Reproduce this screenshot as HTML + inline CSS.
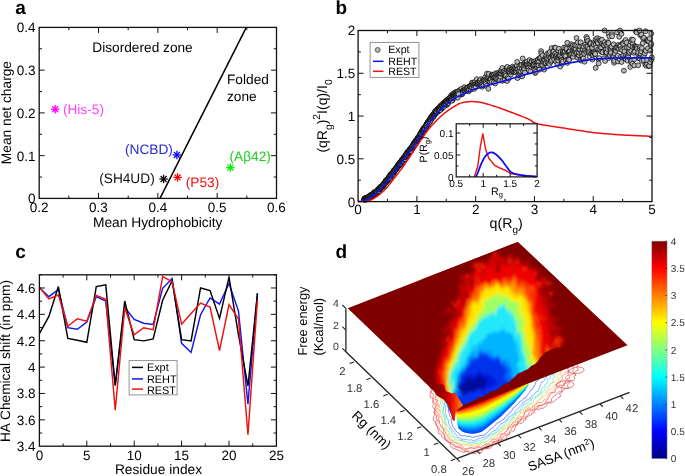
<!DOCTYPE html>
<html><head><meta charset="utf-8"><style>
html,body{margin:0;padding:0;background:#fff;overflow:hidden;}
svg{display:block;font-family:"Liberation Sans", sans-serif;will-change:transform;text-rendering:geometricPrecision;}
</style></head><body>
<svg width="685" height="476" viewBox="0 0 685 476">
<text x="15.2" y="14.2" font-size="19" text-anchor="start" fill="#000" font-weight="bold" >a</text>
<line x1="160.00" y1="198.40" x2="246.30" y2="27.40" stroke="#000" stroke-width="1.5" />
<line x1="98.52" y1="198.40" x2="98.52" y2="192.90" stroke="#111" stroke-width="1.0" />
<line x1="98.52" y1="27.40" x2="98.52" y2="32.90" stroke="#111" stroke-width="1.0" />
<line x1="157.85" y1="198.40" x2="157.85" y2="192.90" stroke="#111" stroke-width="1.0" />
<line x1="157.85" y1="27.40" x2="157.85" y2="32.90" stroke="#111" stroke-width="1.0" />
<line x1="217.18" y1="198.40" x2="217.18" y2="192.90" stroke="#111" stroke-width="1.0" />
<line x1="217.18" y1="27.40" x2="217.18" y2="32.90" stroke="#111" stroke-width="1.0" />
<line x1="68.86" y1="198.40" x2="68.86" y2="195.60" stroke="#111" stroke-width="1.0" />
<line x1="68.86" y1="27.40" x2="68.86" y2="30.20" stroke="#111" stroke-width="1.0" />
<line x1="128.19" y1="198.40" x2="128.19" y2="195.60" stroke="#111" stroke-width="1.0" />
<line x1="128.19" y1="27.40" x2="128.19" y2="30.20" stroke="#111" stroke-width="1.0" />
<line x1="187.51" y1="198.40" x2="187.51" y2="195.60" stroke="#111" stroke-width="1.0" />
<line x1="187.51" y1="27.40" x2="187.51" y2="30.20" stroke="#111" stroke-width="1.0" />
<line x1="246.84" y1="198.40" x2="246.84" y2="195.60" stroke="#111" stroke-width="1.0" />
<line x1="246.84" y1="27.40" x2="246.84" y2="30.20" stroke="#111" stroke-width="1.0" />
<line x1="39.20" y1="155.65" x2="44.70" y2="155.65" stroke="#111" stroke-width="1.0" />
<line x1="276.50" y1="155.65" x2="271.00" y2="155.65" stroke="#111" stroke-width="1.0" />
<line x1="39.20" y1="112.90" x2="44.70" y2="112.90" stroke="#111" stroke-width="1.0" />
<line x1="276.50" y1="112.90" x2="271.00" y2="112.90" stroke="#111" stroke-width="1.0" />
<line x1="39.20" y1="70.15" x2="44.70" y2="70.15" stroke="#111" stroke-width="1.0" />
<line x1="276.50" y1="70.15" x2="271.00" y2="70.15" stroke="#111" stroke-width="1.0" />
<line x1="39.20" y1="177.03" x2="42.00" y2="177.03" stroke="#111" stroke-width="1.0" />
<line x1="276.50" y1="177.03" x2="273.70" y2="177.03" stroke="#111" stroke-width="1.0" />
<line x1="39.20" y1="134.28" x2="42.00" y2="134.28" stroke="#111" stroke-width="1.0" />
<line x1="276.50" y1="134.28" x2="273.70" y2="134.28" stroke="#111" stroke-width="1.0" />
<line x1="39.20" y1="91.53" x2="42.00" y2="91.53" stroke="#111" stroke-width="1.0" />
<line x1="276.50" y1="91.53" x2="273.70" y2="91.53" stroke="#111" stroke-width="1.0" />
<line x1="39.20" y1="48.78" x2="42.00" y2="48.78" stroke="#111" stroke-width="1.0" />
<line x1="276.50" y1="48.78" x2="273.70" y2="48.78" stroke="#111" stroke-width="1.0" />
<rect x="39.20" y="27.40" width="237.30" height="171.00" fill="none" stroke="#111" stroke-width="1.3"/>
<text x="39.2" y="212.0" font-size="13.5" text-anchor="middle" fill="#000" font-weight="normal" >0.2</text>
<text x="98.5" y="212.0" font-size="13.5" text-anchor="middle" fill="#000" font-weight="normal" >0.3</text>
<text x="157.9" y="212.0" font-size="13.5" text-anchor="middle" fill="#000" font-weight="normal" >0.4</text>
<text x="217.2" y="212.0" font-size="13.5" text-anchor="middle" fill="#000" font-weight="normal" >0.5</text>
<text x="276.5" y="212.0" font-size="13.5" text-anchor="middle" fill="#000" font-weight="normal" >0.6</text>
<text x="35.6" y="203.3" font-size="13.5" text-anchor="end" fill="#000" font-weight="normal" >0</text>
<text x="35.6" y="160.6" font-size="13.5" text-anchor="end" fill="#000" font-weight="normal" >0.1</text>
<text x="35.6" y="117.8" font-size="13.5" text-anchor="end" fill="#000" font-weight="normal" >0.2</text>
<text x="35.6" y="75.1" font-size="13.5" text-anchor="end" fill="#000" font-weight="normal" >0.3</text>
<text x="35.6" y="32.3" font-size="13.5" text-anchor="end" fill="#000" font-weight="normal" >0.4</text>
<text x="157.7" y="226.6" font-size="13.8" text-anchor="middle" fill="#000" font-weight="normal" >Mean Hydrophobicity</text>
<text transform="translate(11.3,112.6) rotate(-90)" font-size="13.75" text-anchor="middle">Mean net charge</text>
<text x="92.3" y="52.0" font-size="13.7" text-anchor="start" fill="#000" font-weight="normal" >Disordered zone</text>
<text x="227.0" y="84.4" font-size="13.7" text-anchor="start" fill="#000" font-weight="normal" >Folded</text>
<text x="227.0" y="100.6" font-size="13.7" text-anchor="start" fill="#000" font-weight="normal" >zone</text>
<line x1="51.00" y1="109.30" x2="59.40" y2="109.30" stroke="#ff00ff" stroke-width="1.3" />
<line x1="52.23" y1="106.33" x2="58.17" y2="112.27" stroke="#ff00ff" stroke-width="1.3" />
<line x1="55.20" y1="105.10" x2="55.20" y2="113.50" stroke="#ff00ff" stroke-width="1.3" />
<line x1="58.17" y1="106.33" x2="52.23" y2="112.27" stroke="#ff00ff" stroke-width="1.3" />
<text x="62.9" y="113.9" font-size="13.7" text-anchor="start" fill="#ff44ff" font-weight="normal" >(His-5)</text>
<line x1="172.70" y1="155.00" x2="181.10" y2="155.00" stroke="#0a0aff" stroke-width="1.3" />
<line x1="173.93" y1="152.03" x2="179.87" y2="157.97" stroke="#0a0aff" stroke-width="1.3" />
<line x1="176.90" y1="150.80" x2="176.90" y2="159.20" stroke="#0a0aff" stroke-width="1.3" />
<line x1="179.87" y1="152.03" x2="173.93" y2="157.97" stroke="#0a0aff" stroke-width="1.3" />
<text x="125.0" y="153.9" font-size="13.7" text-anchor="start" fill="#2a2ad0" font-weight="normal" >(NCBD)</text>
<line x1="159.40" y1="179.00" x2="167.80" y2="179.00" stroke="#000" stroke-width="1.3" />
<line x1="160.63" y1="176.03" x2="166.57" y2="181.97" stroke="#000" stroke-width="1.3" />
<line x1="163.60" y1="174.80" x2="163.60" y2="183.20" stroke="#000" stroke-width="1.3" />
<line x1="166.57" y1="176.03" x2="160.63" y2="181.97" stroke="#000" stroke-width="1.3" />
<text x="99.2" y="183.4" font-size="13.7" text-anchor="start" fill="#111" font-weight="normal" >(SH4UD)</text>
<line x1="173.40" y1="177.40" x2="181.80" y2="177.40" stroke="#ff0000" stroke-width="1.3" />
<line x1="174.63" y1="174.43" x2="180.57" y2="180.37" stroke="#ff0000" stroke-width="1.3" />
<line x1="177.60" y1="173.20" x2="177.60" y2="181.60" stroke="#ff0000" stroke-width="1.3" />
<line x1="180.57" y1="174.43" x2="174.63" y2="180.37" stroke="#ff0000" stroke-width="1.3" />
<text x="185.8" y="187.2" font-size="13.7" text-anchor="start" fill="#ee1111" font-weight="normal" >(P53)</text>
<line x1="226.20" y1="167.60" x2="234.60" y2="167.60" stroke="#00ee00" stroke-width="1.3" />
<line x1="227.43" y1="164.63" x2="233.37" y2="170.57" stroke="#00ee00" stroke-width="1.3" />
<line x1="230.40" y1="163.40" x2="230.40" y2="171.80" stroke="#00ee00" stroke-width="1.3" />
<line x1="233.37" y1="164.63" x2="227.43" y2="170.57" stroke="#00ee00" stroke-width="1.3" />
<text x="229.5" y="160.9" font-size="13.7" text-anchor="start" fill="#22cc22" font-weight="normal" >(A&#946;42)</text>
<text x="335.6" y="13.8" font-size="19" text-anchor="start" fill="#000" font-weight="bold" >b</text>
<defs><clipPath id="cb"><rect x="358.1" y="27.5" width="296.9" height="174.1"/></clipPath></defs>
<g fill="#b8b8b8" stroke="#000" stroke-width="0.7"><circle cx="364.1" cy="199.6" r="2.45"/><circle cx="364.1" cy="199.1" r="2.45"/><circle cx="364.4" cy="199.7" r="2.45"/><circle cx="365.0" cy="199.2" r="2.45"/><circle cx="365.1" cy="198.3" r="2.45"/><circle cx="365.4" cy="198.6" r="2.45"/><circle cx="365.8" cy="199.5" r="2.45"/><circle cx="366.2" cy="198.0" r="2.45"/><circle cx="366.7" cy="199.2" r="2.45"/><circle cx="367.0" cy="199.0" r="2.45"/><circle cx="367.6" cy="197.7" r="2.45"/><circle cx="367.6" cy="197.8" r="2.45"/><circle cx="367.9" cy="197.4" r="2.45"/><circle cx="368.6" cy="197.2" r="2.45"/><circle cx="368.8" cy="196.9" r="2.45"/><circle cx="369.0" cy="196.4" r="2.45"/><circle cx="369.1" cy="197.0" r="2.45"/><circle cx="369.6" cy="196.7" r="2.45"/><circle cx="370.0" cy="196.7" r="2.45"/><circle cx="370.5" cy="196.7" r="2.45"/><circle cx="370.9" cy="196.4" r="2.45"/><circle cx="371.2" cy="195.7" r="2.45"/><circle cx="371.5" cy="195.5" r="2.45"/><circle cx="372.0" cy="194.6" r="2.45"/><circle cx="372.4" cy="195.2" r="2.45"/><circle cx="372.2" cy="195.3" r="2.45"/><circle cx="372.6" cy="195.4" r="2.45"/><circle cx="373.1" cy="193.9" r="2.45"/><circle cx="373.6" cy="193.3" r="2.45"/><circle cx="373.9" cy="193.7" r="2.45"/><circle cx="374.3" cy="193.3" r="2.45"/><circle cx="374.6" cy="193.7" r="2.45"/><circle cx="375.0" cy="193.6" r="2.45"/><circle cx="375.4" cy="193.1" r="2.45"/><circle cx="375.2" cy="193.4" r="2.45"/><circle cx="376.0" cy="192.1" r="2.45"/><circle cx="376.4" cy="193.1" r="2.45"/><circle cx="376.4" cy="193.1" r="2.45"/><circle cx="376.6" cy="192.0" r="2.45"/><circle cx="377.2" cy="190.5" r="2.45"/><circle cx="377.3" cy="190.7" r="2.45"/><circle cx="378.0" cy="190.2" r="2.45"/><circle cx="378.2" cy="189.9" r="2.45"/><circle cx="378.8" cy="189.6" r="2.45"/><circle cx="378.9" cy="189.0" r="2.45"/><circle cx="379.5" cy="188.9" r="2.45"/><circle cx="379.5" cy="188.4" r="2.45"/><circle cx="379.9" cy="189.6" r="2.45"/><circle cx="380.5" cy="189.0" r="2.45"/><circle cx="380.4" cy="186.9" r="2.45"/><circle cx="380.8" cy="187.3" r="2.45"/><circle cx="381.3" cy="186.8" r="2.45"/><circle cx="381.3" cy="187.2" r="2.45"/><circle cx="381.9" cy="186.7" r="2.45"/><circle cx="382.6" cy="186.6" r="2.45"/><circle cx="382.8" cy="185.1" r="2.45"/><circle cx="383.1" cy="186.1" r="2.45"/><circle cx="383.0" cy="185.0" r="2.45"/><circle cx="383.9" cy="183.7" r="2.45"/><circle cx="384.2" cy="184.7" r="2.45"/><circle cx="384.1" cy="184.2" r="2.45"/><circle cx="384.8" cy="182.9" r="2.45"/><circle cx="384.8" cy="182.7" r="2.45"/><circle cx="385.1" cy="182.4" r="2.45"/><circle cx="385.4" cy="182.2" r="2.45"/><circle cx="385.8" cy="181.5" r="2.45"/><circle cx="386.1" cy="180.8" r="2.45"/><circle cx="386.9" cy="180.5" r="2.45"/><circle cx="386.9" cy="180.7" r="2.45"/><circle cx="387.3" cy="180.2" r="2.45"/><circle cx="387.9" cy="179.8" r="2.45"/><circle cx="388.4" cy="179.0" r="2.45"/><circle cx="388.2" cy="179.4" r="2.45"/><circle cx="388.5" cy="178.2" r="2.45"/><circle cx="389.3" cy="178.2" r="2.45"/><circle cx="389.2" cy="177.1" r="2.45"/><circle cx="389.8" cy="175.6" r="2.45"/><circle cx="389.9" cy="176.4" r="2.45"/><circle cx="390.5" cy="176.3" r="2.45"/><circle cx="391.1" cy="175.8" r="2.45"/><circle cx="391.0" cy="174.7" r="2.45"/><circle cx="391.4" cy="175.6" r="2.45"/><circle cx="391.8" cy="173.9" r="2.45"/><circle cx="392.3" cy="173.1" r="2.45"/><circle cx="392.7" cy="173.7" r="2.45"/><circle cx="393.1" cy="172.7" r="2.45"/><circle cx="393.3" cy="171.9" r="2.45"/><circle cx="393.6" cy="173.1" r="2.45"/><circle cx="393.7" cy="171.6" r="2.45"/><circle cx="393.9" cy="170.5" r="2.45"/><circle cx="394.4" cy="170.3" r="2.45"/><circle cx="395.0" cy="170.3" r="2.45"/><circle cx="395.5" cy="169.2" r="2.45"/><circle cx="395.8" cy="169.6" r="2.45"/><circle cx="395.7" cy="168.4" r="2.45"/><circle cx="396.0" cy="168.7" r="2.45"/><circle cx="396.6" cy="167.9" r="2.45"/><circle cx="397.1" cy="167.2" r="2.45"/><circle cx="397.3" cy="166.8" r="2.45"/><circle cx="397.7" cy="167.3" r="2.45"/><circle cx="398.1" cy="165.5" r="2.45"/><circle cx="398.4" cy="165.3" r="2.45"/><circle cx="398.4" cy="165.3" r="2.45"/><circle cx="399.1" cy="165.6" r="2.45"/><circle cx="399.5" cy="165.0" r="2.45"/><circle cx="399.5" cy="163.0" r="2.45"/><circle cx="400.1" cy="164.8" r="2.45"/><circle cx="400.1" cy="162.2" r="2.45"/><circle cx="400.9" cy="162.4" r="2.45"/><circle cx="401.1" cy="161.9" r="2.45"/><circle cx="401.6" cy="161.0" r="2.45"/><circle cx="401.7" cy="160.3" r="2.45"/><circle cx="401.8" cy="161.3" r="2.45"/><circle cx="402.0" cy="159.7" r="2.45"/><circle cx="402.7" cy="158.9" r="2.45"/><circle cx="403.3" cy="159.6" r="2.45"/><circle cx="403.5" cy="160.1" r="2.45"/><circle cx="403.5" cy="158.0" r="2.45"/><circle cx="403.9" cy="158.0" r="2.45"/><circle cx="404.4" cy="157.0" r="2.45"/><circle cx="404.5" cy="157.1" r="2.45"/><circle cx="405.3" cy="156.0" r="2.45"/><circle cx="405.4" cy="156.6" r="2.45"/><circle cx="405.9" cy="155.1" r="2.45"/><circle cx="406.0" cy="156.5" r="2.45"/><circle cx="406.4" cy="154.1" r="2.45"/><circle cx="406.7" cy="154.5" r="2.45"/><circle cx="406.9" cy="153.9" r="2.45"/><circle cx="407.2" cy="152.3" r="2.45"/><circle cx="407.7" cy="153.0" r="2.45"/><circle cx="408.0" cy="152.7" r="2.45"/><circle cx="408.4" cy="152.9" r="2.45"/><circle cx="408.5" cy="152.7" r="2.45"/><circle cx="409.1" cy="151.6" r="2.45"/><circle cx="409.6" cy="150.7" r="2.45"/><circle cx="409.8" cy="149.7" r="2.45"/><circle cx="410.4" cy="150.8" r="2.45"/><circle cx="410.4" cy="149.8" r="2.45"/><circle cx="410.8" cy="149.5" r="2.45"/><circle cx="411.2" cy="148.9" r="2.45"/><circle cx="411.5" cy="148.7" r="2.45"/><circle cx="412.1" cy="147.2" r="2.45"/><circle cx="412.4" cy="147.5" r="2.45"/><circle cx="412.3" cy="147.9" r="2.45"/><circle cx="413.0" cy="147.6" r="2.45"/><circle cx="413.0" cy="146.2" r="2.45"/><circle cx="413.3" cy="144.6" r="2.45"/><circle cx="413.7" cy="144.1" r="2.45"/><circle cx="414.4" cy="143.3" r="2.45"/><circle cx="414.8" cy="143.2" r="2.45"/><circle cx="415.0" cy="142.6" r="2.45"/><circle cx="415.0" cy="141.8" r="2.45"/><circle cx="415.4" cy="140.9" r="2.45"/><circle cx="416.2" cy="142.9" r="2.45"/><circle cx="416.5" cy="141.9" r="2.45"/><circle cx="416.8" cy="140.2" r="2.45"/><circle cx="416.9" cy="139.8" r="2.45"/><circle cx="417.1" cy="139.1" r="2.45"/><circle cx="417.7" cy="139.0" r="2.45"/><circle cx="417.6" cy="138.1" r="2.45"/><circle cx="418.0" cy="138.9" r="2.45"/><circle cx="418.5" cy="137.9" r="2.45"/><circle cx="418.7" cy="137.7" r="2.45"/><circle cx="419.6" cy="137.2" r="2.45"/><circle cx="419.4" cy="135.6" r="2.45"/><circle cx="419.8" cy="137.5" r="2.45"/><circle cx="420.2" cy="133.8" r="2.45"/><circle cx="420.4" cy="134.2" r="2.45"/><circle cx="421.2" cy="135.4" r="2.45"/><circle cx="421.2" cy="132.7" r="2.45"/><circle cx="421.7" cy="131.9" r="2.45"/><circle cx="422.1" cy="131.0" r="2.45"/><circle cx="422.4" cy="131.6" r="2.45"/><circle cx="422.6" cy="131.2" r="2.45"/><circle cx="423.1" cy="129.2" r="2.45"/><circle cx="423.5" cy="129.5" r="2.45"/><circle cx="423.4" cy="128.4" r="2.45"/><circle cx="424.2" cy="128.5" r="2.45"/><circle cx="424.4" cy="129.5" r="2.45"/><circle cx="425.0" cy="128.0" r="2.45"/><circle cx="425.1" cy="127.7" r="2.45"/><circle cx="425.2" cy="126.7" r="2.45"/><circle cx="425.5" cy="126.3" r="2.45"/><circle cx="425.9" cy="125.8" r="2.45"/><circle cx="426.6" cy="125.9" r="2.45"/><circle cx="426.6" cy="124.4" r="2.45"/><circle cx="427.0" cy="125.1" r="2.45"/><circle cx="427.1" cy="124.0" r="2.45"/><circle cx="427.9" cy="123.5" r="2.45"/><circle cx="428.1" cy="122.8" r="2.45"/><circle cx="428.7" cy="122.1" r="2.45"/><circle cx="428.5" cy="121.0" r="2.45"/><circle cx="429.1" cy="121.0" r="2.45"/><circle cx="429.7" cy="121.8" r="2.45"/><circle cx="429.9" cy="121.3" r="2.45"/><circle cx="430.4" cy="119.3" r="2.45"/><circle cx="430.6" cy="120.4" r="2.45"/><circle cx="430.9" cy="117.5" r="2.45"/><circle cx="430.9" cy="119.2" r="2.45"/><circle cx="431.3" cy="117.6" r="2.45"/><circle cx="431.7" cy="116.2" r="2.45"/><circle cx="432.0" cy="116.5" r="2.45"/><circle cx="432.7" cy="115.1" r="2.45"/><circle cx="432.9" cy="115.3" r="2.45"/><circle cx="433.1" cy="115.9" r="2.45"/><circle cx="433.5" cy="114.6" r="2.45"/><circle cx="433.7" cy="114.3" r="2.45"/><circle cx="434.5" cy="113.6" r="2.45"/><circle cx="434.4" cy="112.8" r="2.45"/><circle cx="435.2" cy="113.8" r="2.45"/><circle cx="434.9" cy="113.5" r="2.45"/><circle cx="435.5" cy="111.9" r="2.45"/><circle cx="435.7" cy="113.5" r="2.45"/><circle cx="436.2" cy="111.8" r="2.45"/><circle cx="436.3" cy="110.8" r="2.45"/><circle cx="436.9" cy="111.2" r="2.45"/><circle cx="437.1" cy="110.6" r="2.45"/><circle cx="437.4" cy="110.4" r="2.45"/><circle cx="438.1" cy="111.2" r="2.45"/><circle cx="438.4" cy="110.3" r="2.45"/><circle cx="438.5" cy="109.8" r="2.45"/><circle cx="438.8" cy="111.1" r="2.45"/><circle cx="439.4" cy="108.0" r="2.45"/><circle cx="439.7" cy="108.4" r="2.45"/><circle cx="440.2" cy="106.0" r="2.45"/><circle cx="440.4" cy="107.1" r="2.45"/><circle cx="440.4" cy="107.5" r="2.45"/><circle cx="441.0" cy="109.0" r="2.45"/><circle cx="441.5" cy="108.8" r="2.45"/><circle cx="441.9" cy="106.4" r="2.45"/><circle cx="442.1" cy="108.1" r="2.45"/><circle cx="442.5" cy="107.0" r="2.45"/><circle cx="442.5" cy="105.5" r="2.45"/><circle cx="442.9" cy="104.9" r="2.45"/><circle cx="443.4" cy="103.2" r="2.45"/><circle cx="443.8" cy="103.3" r="2.45"/><circle cx="444.0" cy="105.6" r="2.45"/><circle cx="444.1" cy="105.3" r="2.45"/><circle cx="444.7" cy="103.2" r="2.45"/><circle cx="445.1" cy="105.3" r="2.45"/><circle cx="445.5" cy="103.4" r="2.45"/><circle cx="445.6" cy="103.3" r="2.45"/><circle cx="446.2" cy="101.8" r="2.45"/><circle cx="446.2" cy="101.9" r="2.45"/><circle cx="446.8" cy="102.3" r="2.45"/><circle cx="447.0" cy="105.0" r="2.45"/><circle cx="447.6" cy="103.3" r="2.45"/><circle cx="447.8" cy="101.0" r="2.45"/><circle cx="447.9" cy="101.2" r="2.45"/><circle cx="448.3" cy="101.0" r="2.45"/><circle cx="448.8" cy="100.4" r="2.45"/><circle cx="448.8" cy="101.1" r="2.45"/><circle cx="449.6" cy="98.9" r="2.45"/><circle cx="449.9" cy="99.1" r="2.45"/><circle cx="450.2" cy="99.7" r="2.45"/><circle cx="450.5" cy="99.9" r="2.45"/><circle cx="451.1" cy="99.3" r="2.45"/><circle cx="451.0" cy="98.3" r="2.45"/><circle cx="451.2" cy="95.2" r="2.45"/><circle cx="451.8" cy="98.3" r="2.45"/><circle cx="452.2" cy="96.2" r="2.45"/><circle cx="452.4" cy="100.4" r="2.45"/><circle cx="452.7" cy="96.3" r="2.45"/><circle cx="453.2" cy="93.7" r="2.45"/><circle cx="453.8" cy="95.5" r="2.45"/><circle cx="453.7" cy="95.0" r="2.45"/><circle cx="454.5" cy="95.3" r="2.45"/><circle cx="454.7" cy="97.3" r="2.45"/><circle cx="454.9" cy="95.2" r="2.45"/><circle cx="455.0" cy="92.3" r="2.45"/><circle cx="455.5" cy="93.4" r="2.45"/><circle cx="455.8" cy="94.8" r="2.45"/><circle cx="456.1" cy="93.8" r="2.45"/><circle cx="456.8" cy="93.4" r="2.45"/><circle cx="457.1" cy="91.7" r="2.45"/><circle cx="457.0" cy="93.9" r="2.45"/><circle cx="457.9" cy="91.7" r="2.45"/><circle cx="457.8" cy="94.6" r="2.45"/><circle cx="458.6" cy="94.4" r="2.45"/><circle cx="458.7" cy="92.1" r="2.45"/><circle cx="458.8" cy="94.0" r="2.45"/><circle cx="459.0" cy="91.5" r="2.45"/><circle cx="459.5" cy="90.2" r="2.45"/><circle cx="460.2" cy="90.6" r="2.45"/><circle cx="460.3" cy="92.2" r="2.45"/><circle cx="460.5" cy="90.8" r="2.45"/><circle cx="461.2" cy="94.7" r="2.45"/><circle cx="461.5" cy="88.8" r="2.45"/><circle cx="461.9" cy="94.0" r="2.45"/><circle cx="462.1" cy="94.0" r="2.45"/><circle cx="462.5" cy="91.2" r="2.45"/><circle cx="462.7" cy="91.5" r="2.45"/><circle cx="462.9" cy="90.8" r="2.45"/><circle cx="463.1" cy="93.0" r="2.45"/><circle cx="463.7" cy="89.6" r="2.45"/><circle cx="464.0" cy="90.7" r="2.45"/><circle cx="464.7" cy="90.9" r="2.45"/><circle cx="464.6" cy="87.2" r="2.45"/><circle cx="465.1" cy="90.6" r="2.45"/><circle cx="465.3" cy="90.8" r="2.45"/><circle cx="465.6" cy="88.9" r="2.45"/><circle cx="466.3" cy="88.3" r="2.45"/><circle cx="466.7" cy="90.3" r="2.45"/><circle cx="467.1" cy="88.8" r="2.45"/><circle cx="466.9" cy="89.6" r="2.45"/><circle cx="467.2" cy="88.2" r="2.45"/><circle cx="467.6" cy="88.8" r="2.45"/><circle cx="468.0" cy="87.5" r="2.45"/><circle cx="468.6" cy="91.5" r="2.45"/><circle cx="468.8" cy="89.5" r="2.45"/><circle cx="469.1" cy="89.6" r="2.45"/><circle cx="469.4" cy="86.3" r="2.45"/><circle cx="470.1" cy="85.9" r="2.45"/><circle cx="469.9" cy="86.6" r="2.45"/><circle cx="470.7" cy="89.7" r="2.45"/><circle cx="470.7" cy="86.9" r="2.45"/><circle cx="471.1" cy="86.9" r="2.45"/><circle cx="471.5" cy="85.0" r="2.45"/><circle cx="472.1" cy="82.6" r="2.45"/><circle cx="471.9" cy="87.3" r="2.45"/><circle cx="472.8" cy="82.9" r="2.45"/><circle cx="472.9" cy="85.2" r="2.45"/><circle cx="473.2" cy="85.8" r="2.45"/><circle cx="473.8" cy="85.6" r="2.45"/><circle cx="474.2" cy="83.6" r="2.45"/><circle cx="474.1" cy="88.9" r="2.45"/><circle cx="474.6" cy="84.2" r="2.45"/><circle cx="475.0" cy="84.2" r="2.45"/><circle cx="475.3" cy="81.7" r="2.45"/><circle cx="475.7" cy="85.9" r="2.45"/><circle cx="475.7" cy="87.2" r="2.45"/><circle cx="476.4" cy="83.7" r="2.45"/><circle cx="476.7" cy="83.7" r="2.45"/><circle cx="476.8" cy="79.2" r="2.45"/><circle cx="477.4" cy="82.8" r="2.45"/><circle cx="477.7" cy="82.6" r="2.45"/><circle cx="478.0" cy="83.1" r="2.45"/><circle cx="478.4" cy="83.0" r="2.45"/><circle cx="478.7" cy="84.7" r="2.45"/><circle cx="478.7" cy="82.3" r="2.45"/><circle cx="479.6" cy="84.0" r="2.45"/><circle cx="479.7" cy="80.7" r="2.45"/><circle cx="479.8" cy="81.0" r="2.45"/><circle cx="480.2" cy="84.6" r="2.45"/><circle cx="480.6" cy="79.2" r="2.45"/><circle cx="480.7" cy="83.5" r="2.45"/><circle cx="481.3" cy="86.0" r="2.45"/><circle cx="481.6" cy="82.3" r="2.45"/><circle cx="481.9" cy="84.9" r="2.45"/><circle cx="482.1" cy="86.8" r="2.45"/><circle cx="482.8" cy="83.3" r="2.45"/><circle cx="482.9" cy="79.7" r="2.45"/><circle cx="483.4" cy="80.6" r="2.45"/><circle cx="483.6" cy="85.4" r="2.45"/><circle cx="484.3" cy="79.4" r="2.45"/><circle cx="484.2" cy="81.7" r="2.45"/><circle cx="484.6" cy="80.5" r="2.45"/><circle cx="485.4" cy="77.0" r="2.45"/><circle cx="485.3" cy="82.6" r="2.45"/><circle cx="485.7" cy="80.8" r="2.45"/><circle cx="485.9" cy="83.9" r="2.45"/><circle cx="486.4" cy="85.9" r="2.45"/><circle cx="486.6" cy="78.9" r="2.45"/><circle cx="486.9" cy="73.6" r="2.45"/><circle cx="487.7" cy="77.9" r="2.45"/><circle cx="488.0" cy="79.2" r="2.45"/><circle cx="488.4" cy="81.0" r="2.45"/><circle cx="488.4" cy="88.8" r="2.45"/><circle cx="489.0" cy="77.3" r="2.45"/><circle cx="488.9" cy="73.9" r="2.45"/><circle cx="489.4" cy="80.8" r="2.45"/><circle cx="489.7" cy="81.6" r="2.45"/><circle cx="490.0" cy="79.1" r="2.45"/><circle cx="490.4" cy="78.9" r="2.45"/><circle cx="491.1" cy="77.7" r="2.45"/><circle cx="491.0" cy="79.2" r="2.45"/><circle cx="491.7" cy="81.9" r="2.45"/><circle cx="491.8" cy="74.6" r="2.45"/><circle cx="492.1" cy="75.5" r="2.45"/><circle cx="492.8" cy="77.4" r="2.45"/><circle cx="493.1" cy="77.3" r="2.45"/><circle cx="492.9" cy="75.6" r="2.45"/><circle cx="493.7" cy="82.3" r="2.45"/><circle cx="493.6" cy="75.1" r="2.45"/><circle cx="494.5" cy="76.8" r="2.45"/><circle cx="494.4" cy="77.4" r="2.45"/><circle cx="494.8" cy="77.6" r="2.45"/><circle cx="495.1" cy="83.5" r="2.45"/><circle cx="495.5" cy="73.4" r="2.45"/><circle cx="496.1" cy="78.2" r="2.45"/><circle cx="496.0" cy="77.9" r="2.45"/><circle cx="496.8" cy="74.7" r="2.45"/><circle cx="497.2" cy="73.2" r="2.45"/><circle cx="497.0" cy="78.7" r="2.45"/><circle cx="497.9" cy="76.2" r="2.45"/><circle cx="498.3" cy="73.0" r="2.45"/><circle cx="498.3" cy="78.0" r="2.45"/><circle cx="498.7" cy="74.6" r="2.45"/><circle cx="499.2" cy="74.3" r="2.45"/><circle cx="499.5" cy="76.7" r="2.45"/><circle cx="499.7" cy="73.5" r="2.45"/><circle cx="499.9" cy="80.3" r="2.45"/><circle cx="500.5" cy="76.7" r="2.45"/><circle cx="500.4" cy="72.8" r="2.45"/><circle cx="500.9" cy="73.6" r="2.45"/><circle cx="501.1" cy="70.4" r="2.45"/><circle cx="501.6" cy="71.3" r="2.45"/><circle cx="502.3" cy="74.1" r="2.45"/><circle cx="502.3" cy="68.0" r="2.45"/><circle cx="502.5" cy="80.8" r="2.45"/><circle cx="503.2" cy="71.6" r="2.45"/><circle cx="503.4" cy="72.4" r="2.45"/><circle cx="503.8" cy="74.0" r="2.45"/><circle cx="504.2" cy="71.0" r="2.45"/><circle cx="504.5" cy="74.2" r="2.45"/><circle cx="504.5" cy="80.0" r="2.45"/><circle cx="505.1" cy="72.4" r="2.45"/><circle cx="505.4" cy="75.9" r="2.45"/><circle cx="505.6" cy="73.8" r="2.45"/><circle cx="506.0" cy="75.6" r="2.45"/><circle cx="506.5" cy="69.6" r="2.45"/><circle cx="506.7" cy="67.8" r="2.45"/><circle cx="507.1" cy="81.0" r="2.45"/><circle cx="507.3" cy="66.9" r="2.45"/><circle cx="508.1" cy="71.2" r="2.45"/><circle cx="507.9" cy="77.1" r="2.45"/><circle cx="508.7" cy="78.5" r="2.45"/><circle cx="509.1" cy="71.6" r="2.45"/><circle cx="508.9" cy="69.8" r="2.45"/><circle cx="509.3" cy="71.6" r="2.45"/><circle cx="510.1" cy="67.9" r="2.45"/><circle cx="510.1" cy="72.8" r="2.45"/><circle cx="510.4" cy="69.5" r="2.45"/><circle cx="511.0" cy="74.5" r="2.45"/><circle cx="511.3" cy="70.2" r="2.45"/><circle cx="511.6" cy="72.1" r="2.45"/><circle cx="511.7" cy="70.8" r="2.45"/><circle cx="512.1" cy="68.2" r="2.45"/><circle cx="512.7" cy="71.3" r="2.45"/><circle cx="512.7" cy="66.6" r="2.45"/><circle cx="513.4" cy="68.0" r="2.45"/><circle cx="513.4" cy="70.6" r="2.45"/><circle cx="514.1" cy="71.6" r="2.45"/><circle cx="514.3" cy="68.5" r="2.45"/><circle cx="514.5" cy="69.0" r="2.45"/><circle cx="515.0" cy="69.8" r="2.45"/><circle cx="515.1" cy="71.2" r="2.45"/><circle cx="515.7" cy="71.3" r="2.45"/><circle cx="515.8" cy="72.3" r="2.45"/><circle cx="516.6" cy="68.4" r="2.45"/><circle cx="516.6" cy="71.4" r="2.45"/><circle cx="516.9" cy="65.5" r="2.45"/><circle cx="517.2" cy="61.9" r="2.45"/><circle cx="517.5" cy="78.1" r="2.45"/><circle cx="517.7" cy="69.6" r="2.45"/><circle cx="518.6" cy="71.5" r="2.45"/><circle cx="518.6" cy="74.7" r="2.45"/><circle cx="519.2" cy="65.9" r="2.45"/><circle cx="519.1" cy="70.8" r="2.45"/><circle cx="519.7" cy="68.2" r="2.45"/><circle cx="519.8" cy="73.4" r="2.45"/><circle cx="520.4" cy="74.4" r="2.45"/><circle cx="520.5" cy="71.2" r="2.45"/><circle cx="520.9" cy="65.2" r="2.45"/><circle cx="521.2" cy="76.0" r="2.45"/><circle cx="521.7" cy="69.0" r="2.45"/><circle cx="521.9" cy="64.7" r="2.45"/><circle cx="522.2" cy="76.4" r="2.45"/><circle cx="522.7" cy="58.5" r="2.45"/><circle cx="522.8" cy="70.9" r="2.45"/><circle cx="523.7" cy="64.2" r="2.45"/><circle cx="523.8" cy="68.8" r="2.45"/><circle cx="524.3" cy="66.1" r="2.45"/><circle cx="524.3" cy="68.9" r="2.45"/><circle cx="525.0" cy="72.6" r="2.45"/><circle cx="524.9" cy="62.8" r="2.45"/><circle cx="525.5" cy="65.9" r="2.45"/><circle cx="525.7" cy="62.9" r="2.45"/><circle cx="526.3" cy="64.4" r="2.45"/><circle cx="526.7" cy="64.4" r="2.45"/><circle cx="527.0" cy="61.6" r="2.45"/><circle cx="526.9" cy="64.8" r="2.45"/><circle cx="527.6" cy="64.9" r="2.45"/><circle cx="527.9" cy="67.4" r="2.45"/><circle cx="528.1" cy="67.9" r="2.45"/><circle cx="528.6" cy="67.8" r="2.45"/><circle cx="528.8" cy="70.3" r="2.45"/><circle cx="529.2" cy="62.9" r="2.45"/><circle cx="529.5" cy="60.1" r="2.45"/><circle cx="529.7" cy="64.3" r="2.45"/><circle cx="530.2" cy="64.4" r="2.45"/><circle cx="530.4" cy="71.4" r="2.45"/><circle cx="530.7" cy="66.5" r="2.45"/><circle cx="531.2" cy="64.3" r="2.45"/><circle cx="531.6" cy="61.1" r="2.45"/><circle cx="531.6" cy="62.2" r="2.45"/><circle cx="532.4" cy="65.3" r="2.45"/><circle cx="532.8" cy="65.3" r="2.45"/><circle cx="532.9" cy="65.3" r="2.45"/><circle cx="533.2" cy="64.0" r="2.45"/><circle cx="533.8" cy="61.8" r="2.45"/><circle cx="534.2" cy="64.3" r="2.45"/><circle cx="534.1" cy="64.4" r="2.45"/><circle cx="534.9" cy="70.5" r="2.45"/><circle cx="535.2" cy="73.0" r="2.45"/><circle cx="535.1" cy="62.7" r="2.45"/><circle cx="535.4" cy="61.0" r="2.45"/><circle cx="535.9" cy="71.8" r="2.45"/><circle cx="536.6" cy="62.8" r="2.45"/><circle cx="536.5" cy="65.1" r="2.45"/><circle cx="537.0" cy="61.8" r="2.45"/><circle cx="537.6" cy="64.6" r="2.45"/><circle cx="537.7" cy="61.6" r="2.45"/><circle cx="537.9" cy="59.3" r="2.45"/><circle cx="538.1" cy="59.8" r="2.45"/><circle cx="539.0" cy="61.5" r="2.45"/><circle cx="538.8" cy="65.6" r="2.45"/><circle cx="539.5" cy="69.6" r="2.45"/><circle cx="539.8" cy="58.0" r="2.45"/><circle cx="540.0" cy="58.4" r="2.45"/><circle cx="540.4" cy="57.9" r="2.45"/><circle cx="541.0" cy="65.2" r="2.45"/><circle cx="541.1" cy="51.1" r="2.45"/><circle cx="541.3" cy="53.3" r="2.45"/><circle cx="542.0" cy="60.1" r="2.45"/><circle cx="542.1" cy="64.1" r="2.45"/><circle cx="542.4" cy="65.4" r="2.45"/><circle cx="542.6" cy="55.3" r="2.45"/><circle cx="543.3" cy="60.7" r="2.45"/><circle cx="543.3" cy="61.8" r="2.45"/><circle cx="543.8" cy="68.1" r="2.45"/><circle cx="544.2" cy="69.6" r="2.45"/><circle cx="544.2" cy="60.3" r="2.45"/><circle cx="544.6" cy="59.8" r="2.45"/><circle cx="545.1" cy="63.3" r="2.45"/><circle cx="545.7" cy="62.9" r="2.45"/><circle cx="545.9" cy="57.7" r="2.45"/><circle cx="545.9" cy="57.3" r="2.45"/><circle cx="546.3" cy="55.5" r="2.45"/><circle cx="546.7" cy="59.3" r="2.45"/><circle cx="547.2" cy="58.3" r="2.45"/><circle cx="547.3" cy="53.5" r="2.45"/><circle cx="547.6" cy="62.5" r="2.45"/><circle cx="548.5" cy="62.4" r="2.45"/><circle cx="548.3" cy="58.7" r="2.45"/><circle cx="549.0" cy="56.2" r="2.45"/><circle cx="549.1" cy="53.3" r="2.45"/><circle cx="549.4" cy="64.0" r="2.45"/><circle cx="549.9" cy="52.0" r="2.45"/><circle cx="550.1" cy="57.8" r="2.45"/><circle cx="550.8" cy="61.1" r="2.45"/><circle cx="551.0" cy="61.8" r="2.45"/><circle cx="551.0" cy="57.8" r="2.45"/><circle cx="551.6" cy="48.1" r="2.45"/><circle cx="551.7" cy="60.4" r="2.45"/><circle cx="552.4" cy="55.7" r="2.45"/><circle cx="552.9" cy="51.8" r="2.45"/><circle cx="552.7" cy="56.9" r="2.45"/><circle cx="553.3" cy="55.3" r="2.45"/><circle cx="553.7" cy="51.2" r="2.45"/><circle cx="553.8" cy="55.9" r="2.45"/><circle cx="554.2" cy="59.5" r="2.45"/><circle cx="554.8" cy="47.6" r="2.45"/><circle cx="555.1" cy="53.8" r="2.45"/><circle cx="555.5" cy="47.7" r="2.45"/><circle cx="555.6" cy="56.1" r="2.45"/><circle cx="555.8" cy="56.7" r="2.45"/><circle cx="556.1" cy="61.4" r="2.45"/><circle cx="556.6" cy="56.0" r="2.45"/><circle cx="557.2" cy="54.8" r="2.45"/><circle cx="557.5" cy="59.0" r="2.45"/><circle cx="557.5" cy="64.4" r="2.45"/><circle cx="558.2" cy="60.5" r="2.45"/><circle cx="558.4" cy="57.4" r="2.45"/><circle cx="559.0" cy="56.2" r="2.45"/><circle cx="558.9" cy="48.7" r="2.45"/><circle cx="559.2" cy="54.8" r="2.45"/><circle cx="559.6" cy="55.9" r="2.45"/><circle cx="560.2" cy="55.6" r="2.45"/><circle cx="560.3" cy="66.6" r="2.45"/><circle cx="560.6" cy="51.9" r="2.45"/><circle cx="561.3" cy="57.8" r="2.45"/><circle cx="561.5" cy="59.9" r="2.45"/><circle cx="562.0" cy="60.2" r="2.45"/><circle cx="562.2" cy="63.7" r="2.45"/><circle cx="562.7" cy="52.8" r="2.45"/><circle cx="562.8" cy="61.7" r="2.45"/><circle cx="563.0" cy="51.3" r="2.45"/><circle cx="563.2" cy="52.6" r="2.45"/><circle cx="564.0" cy="47.5" r="2.45"/><circle cx="563.9" cy="53.4" r="2.45"/><circle cx="564.7" cy="53.1" r="2.45"/><circle cx="564.5" cy="55.5" r="2.45"/><circle cx="564.9" cy="51.6" r="2.45"/><circle cx="565.6" cy="56.2" r="2.45"/><circle cx="566.0" cy="60.3" r="2.45"/><circle cx="566.1" cy="47.4" r="2.45"/><circle cx="566.7" cy="50.8" r="2.45"/><circle cx="566.6" cy="48.9" r="2.45"/><circle cx="567.4" cy="62.9" r="2.45"/><circle cx="567.3" cy="42.8" r="2.45"/><circle cx="567.7" cy="59.4" r="2.45"/><circle cx="568.4" cy="52.0" r="2.45"/><circle cx="568.7" cy="52.1" r="2.45"/><circle cx="569.0" cy="59.2" r="2.45"/><circle cx="569.1" cy="59.9" r="2.45"/><circle cx="569.7" cy="50.9" r="2.45"/><circle cx="569.7" cy="51.3" r="2.45"/><circle cx="570.0" cy="54.9" r="2.45"/><circle cx="570.4" cy="47.6" r="2.45"/><circle cx="570.8" cy="54.2" r="2.45"/><circle cx="571.2" cy="44.3" r="2.45"/><circle cx="571.8" cy="46.3" r="2.45"/><circle cx="572.0" cy="53.7" r="2.45"/><circle cx="572.2" cy="46.8" r="2.45"/><circle cx="572.8" cy="51.1" r="2.45"/><circle cx="573.0" cy="56.9" r="2.45"/><circle cx="573.1" cy="45.1" r="2.45"/><circle cx="573.8" cy="50.5" r="2.45"/><circle cx="573.8" cy="53.7" r="2.45"/><circle cx="574.5" cy="48.2" r="2.45"/><circle cx="574.9" cy="51.8" r="2.45"/><circle cx="575.0" cy="45.3" r="2.45"/><circle cx="575.5" cy="51.5" r="2.45"/><circle cx="575.6" cy="49.0" r="2.45"/><circle cx="576.2" cy="45.6" r="2.45"/><circle cx="576.2" cy="52.4" r="2.45"/><circle cx="576.5" cy="38.0" r="2.45"/><circle cx="576.8" cy="53.5" r="2.45"/><circle cx="577.4" cy="57.7" r="2.45"/><circle cx="577.8" cy="42.5" r="2.45"/><circle cx="578.2" cy="46.3" r="2.45"/><circle cx="578.3" cy="54.9" r="2.45"/><circle cx="578.7" cy="55.0" r="2.45"/><circle cx="579.3" cy="49.2" r="2.45"/><circle cx="579.1" cy="52.6" r="2.45"/><circle cx="580.0" cy="49.7" r="2.45"/><circle cx="580.1" cy="46.5" r="2.45"/><circle cx="580.3" cy="59.8" r="2.45"/><circle cx="580.7" cy="42.3" r="2.45"/><circle cx="581.2" cy="60.6" r="2.45"/><circle cx="581.5" cy="52.7" r="2.45"/><circle cx="581.6" cy="53.8" r="2.45"/><circle cx="582.3" cy="46.2" r="2.45"/><circle cx="582.3" cy="55.8" r="2.45"/><circle cx="582.8" cy="59.0" r="2.45"/><circle cx="582.9" cy="49.3" r="2.45"/><circle cx="583.4" cy="58.4" r="2.45"/><circle cx="583.6" cy="46.9" r="2.45"/><circle cx="584.0" cy="53.3" r="2.45"/><circle cx="584.3" cy="53.7" r="2.45"/><circle cx="584.6" cy="61.7" r="2.45"/><circle cx="585.2" cy="50.1" r="2.45"/><circle cx="585.3" cy="44.5" r="2.45"/><circle cx="586.1" cy="52.0" r="2.45"/><circle cx="586.3" cy="46.4" r="2.45"/><circle cx="586.3" cy="36.9" r="2.45"/><circle cx="586.8" cy="40.2" r="2.45"/><circle cx="587.3" cy="38.5" r="2.45"/><circle cx="587.5" cy="51.0" r="2.45"/><circle cx="587.6" cy="46.7" r="2.45"/><circle cx="588.0" cy="41.0" r="2.45"/><circle cx="588.5" cy="51.0" r="2.45"/><circle cx="589.1" cy="48.5" r="2.45"/><circle cx="589.3" cy="52.3" r="2.45"/><circle cx="589.6" cy="56.8" r="2.45"/><circle cx="589.9" cy="43.9" r="2.45"/><circle cx="590.4" cy="42.5" r="2.45"/><circle cx="590.6" cy="43.5" r="2.45"/><circle cx="591.1" cy="53.2" r="2.45"/><circle cx="591.4" cy="53.6" r="2.45"/><circle cx="591.8" cy="47.0" r="2.45"/><circle cx="592.2" cy="47.7" r="2.45"/><circle cx="592.4" cy="59.6" r="2.45"/><circle cx="592.5" cy="53.9" r="2.45"/><circle cx="593.0" cy="55.0" r="2.45"/><circle cx="593.5" cy="43.3" r="2.45"/><circle cx="593.8" cy="44.9" r="2.45"/><circle cx="593.9" cy="52.6" r="2.45"/><circle cx="594.3" cy="52.8" r="2.45"/><circle cx="594.8" cy="54.1" r="2.45"/><circle cx="595.3" cy="53.9" r="2.45"/><circle cx="595.5" cy="44.7" r="2.45"/><circle cx="595.6" cy="39.5" r="2.45"/><circle cx="595.7" cy="67.9" r="2.45"/><circle cx="596.4" cy="47.5" r="2.45"/><circle cx="597.0" cy="42.2" r="2.45"/><circle cx="597.1" cy="38.2" r="2.45"/><circle cx="597.4" cy="41.1" r="2.45"/><circle cx="597.9" cy="43.1" r="2.45"/><circle cx="598.3" cy="58.9" r="2.45"/><circle cx="598.4" cy="49.4" r="2.45"/><circle cx="598.6" cy="63.4" r="2.45"/><circle cx="599.2" cy="39.1" r="2.45"/><circle cx="599.2" cy="58.1" r="2.45"/><circle cx="600.0" cy="40.7" r="2.45"/><circle cx="600.0" cy="50.0" r="2.45"/><circle cx="600.4" cy="46.4" r="2.45"/><circle cx="600.7" cy="40.7" r="2.45"/><circle cx="601.2" cy="47.7" r="2.45"/><circle cx="601.3" cy="51.8" r="2.45"/><circle cx="601.9" cy="43.6" r="2.45"/><circle cx="602.0" cy="39.7" r="2.45"/><circle cx="602.7" cy="51.6" r="2.45"/><circle cx="602.6" cy="52.3" r="2.45"/><circle cx="603.3" cy="44.9" r="2.45"/><circle cx="603.5" cy="44.2" r="2.45"/><circle cx="603.9" cy="58.2" r="2.45"/><circle cx="604.1" cy="45.2" r="2.45"/><circle cx="604.6" cy="30.5" r="2.45"/><circle cx="604.8" cy="42.2" r="2.45"/><circle cx="605.1" cy="61.0" r="2.45"/><circle cx="605.7" cy="51.9" r="2.45"/><circle cx="605.8" cy="49.2" r="2.45"/><circle cx="606.1" cy="44.4" r="2.45"/><circle cx="606.4" cy="53.0" r="2.45"/><circle cx="606.6" cy="52.5" r="2.45"/><circle cx="607.4" cy="45.8" r="2.45"/><circle cx="607.4" cy="49.1" r="2.45"/><circle cx="607.9" cy="42.2" r="2.45"/><circle cx="608.3" cy="58.0" r="2.45"/><circle cx="608.5" cy="43.1" r="2.45"/><circle cx="608.6" cy="34.1" r="2.45"/><circle cx="609.5" cy="54.6" r="2.45"/><circle cx="609.4" cy="36.5" r="2.45"/><circle cx="610.1" cy="55.6" r="2.45"/><circle cx="610.0" cy="48.9" r="2.45"/><circle cx="610.9" cy="49.0" r="2.45"/><circle cx="610.7" cy="51.3" r="2.45"/><circle cx="611.1" cy="52.9" r="2.45"/><circle cx="611.5" cy="46.5" r="2.45"/><circle cx="611.8" cy="34.2" r="2.45"/><circle cx="612.1" cy="36.3" r="2.45"/><circle cx="612.9" cy="55.9" r="2.45"/><circle cx="613.1" cy="58.7" r="2.45"/><circle cx="613.6" cy="56.7" r="2.45"/><circle cx="613.5" cy="44.3" r="2.45"/><circle cx="614.1" cy="62.8" r="2.45"/><circle cx="614.3" cy="60.9" r="2.45"/><circle cx="614.9" cy="50.5" r="2.45"/><circle cx="614.9" cy="53.9" r="2.45"/><circle cx="615.1" cy="50.0" r="2.45"/><circle cx="615.7" cy="50.7" r="2.45"/><circle cx="615.8" cy="47.8" r="2.45"/><circle cx="616.4" cy="57.4" r="2.45"/><circle cx="616.9" cy="47.4" r="2.45"/><circle cx="617.0" cy="32.3" r="2.45"/><circle cx="617.4" cy="47.3" r="2.45"/><circle cx="617.7" cy="55.8" r="2.45"/><circle cx="618.0" cy="61.4" r="2.45"/><circle cx="618.5" cy="44.8" r="2.45"/><circle cx="618.8" cy="48.7" r="2.45"/><circle cx="619.2" cy="36.8" r="2.45"/><circle cx="619.7" cy="45.9" r="2.45"/><circle cx="619.8" cy="59.2" r="2.45"/><circle cx="620.1" cy="30.5" r="2.45"/><circle cx="620.6" cy="46.2" r="2.45"/><circle cx="620.9" cy="49.2" r="2.45"/><circle cx="621.0" cy="56.6" r="2.45"/><circle cx="621.5" cy="33.9" r="2.45"/><circle cx="621.6" cy="62.0" r="2.45"/><circle cx="622.1" cy="50.2" r="2.45"/><circle cx="622.7" cy="57.3" r="2.45"/><circle cx="622.7" cy="43.0" r="2.45"/><circle cx="623.2" cy="43.9" r="2.45"/><circle cx="623.4" cy="55.5" r="2.45"/><circle cx="623.9" cy="70.7" r="2.45"/><circle cx="624.4" cy="48.9" r="2.45"/><circle cx="624.4" cy="51.5" r="2.45"/><circle cx="624.9" cy="41.5" r="2.45"/><circle cx="624.9" cy="57.7" r="2.45"/><circle cx="625.7" cy="59.0" r="2.45"/><circle cx="625.6" cy="40.0" r="2.45"/><circle cx="626.1" cy="55.0" r="2.45"/><circle cx="626.8" cy="42.5" r="2.45"/><circle cx="627.0" cy="47.8" r="2.45"/><circle cx="627.5" cy="56.2" r="2.45"/><circle cx="627.6" cy="60.6" r="2.45"/><circle cx="628.0" cy="56.9" r="2.45"/><circle cx="628.3" cy="56.0" r="2.45"/><circle cx="628.7" cy="50.5" r="2.45"/><circle cx="628.9" cy="53.4" r="2.45"/><circle cx="629.1" cy="47.7" r="2.45"/><circle cx="629.3" cy="52.0" r="2.45"/><circle cx="630.0" cy="45.1" r="2.45"/><circle cx="630.2" cy="66.9" r="2.45"/><circle cx="630.7" cy="41.4" r="2.45"/><circle cx="630.8" cy="61.7" r="2.45"/><circle cx="631.2" cy="51.0" r="2.45"/><circle cx="631.6" cy="39.5" r="2.45"/><circle cx="631.7" cy="60.8" r="2.45"/><circle cx="632.4" cy="63.8" r="2.45"/><circle cx="632.8" cy="43.8" r="2.45"/><circle cx="633.0" cy="47.0" r="2.45"/><circle cx="633.0" cy="39.8" r="2.45"/><circle cx="633.6" cy="52.8" r="2.45"/><circle cx="634.3" cy="65.4" r="2.45"/><circle cx="634.3" cy="59.4" r="2.45"/><circle cx="634.8" cy="51.6" r="2.45"/><circle cx="634.9" cy="46.0" r="2.45"/><circle cx="635.1" cy="47.2" r="2.45"/><circle cx="635.8" cy="46.9" r="2.45"/><circle cx="635.8" cy="31.5" r="2.45"/><circle cx="636.6" cy="32.2" r="2.45"/><circle cx="636.9" cy="47.0" r="2.45"/><circle cx="636.9" cy="47.0" r="2.45"/><circle cx="637.1" cy="48.8" r="2.45"/><circle cx="637.9" cy="53.9" r="2.45"/><circle cx="638.2" cy="52.2" r="2.45"/><circle cx="638.2" cy="65.3" r="2.45"/><circle cx="638.7" cy="57.9" r="2.45"/><circle cx="639.4" cy="58.4" r="2.45"/><circle cx="639.6" cy="48.8" r="2.45"/><circle cx="639.5" cy="30.5" r="2.45"/><circle cx="640.3" cy="35.3" r="2.45"/><circle cx="640.2" cy="47.0" r="2.45"/><circle cx="640.6" cy="53.7" r="2.45"/><circle cx="641.4" cy="34.7" r="2.45"/><circle cx="641.4" cy="51.4" r="2.45"/><circle cx="641.9" cy="48.0" r="2.45"/><circle cx="641.9" cy="60.9" r="2.45"/><circle cx="642.7" cy="43.2" r="2.45"/><circle cx="642.9" cy="56.8" r="2.45"/><circle cx="643.1" cy="38.4" r="2.45"/><circle cx="643.8" cy="60.3" r="2.45"/><circle cx="644.0" cy="37.8" r="2.45"/><circle cx="643.9" cy="55.3" r="2.45"/><circle cx="644.8" cy="51.4" r="2.45"/><circle cx="644.8" cy="53.3" r="2.45"/><circle cx="645.3" cy="64.8" r="2.45"/><circle cx="645.6" cy="31.2" r="2.45"/><circle cx="645.8" cy="50.8" r="2.45"/><circle cx="646.2" cy="65.7" r="2.45"/><circle cx="646.7" cy="40.0" r="2.45"/><circle cx="647.1" cy="64.1" r="2.45"/><circle cx="647.1" cy="60.1" r="2.45"/><circle cx="647.5" cy="41.2" r="2.45"/><circle cx="648.0" cy="48.3" r="2.45"/><circle cx="648.0" cy="40.6" r="2.45"/><circle cx="648.8" cy="66.2" r="2.45"/><circle cx="649.0" cy="41.4" r="2.45"/><circle cx="649.2" cy="65.8" r="2.45"/><circle cx="649.7" cy="38.4" r="2.45"/><circle cx="650.2" cy="62.1" r="2.45"/><circle cx="650.3" cy="50.7" r="2.45"/><circle cx="650.8" cy="45.2" r="2.45"/><circle cx="651.2" cy="43.7" r="2.45"/><circle cx="651.2" cy="33.6" r="2.45"/><circle cx="651.6" cy="59.6" r="2.45"/><circle cx="651.8" cy="57.3" r="2.45"/><circle cx="364.8" cy="199.2" r="2.45"/><circle cx="364.7" cy="198.3" r="2.45"/><circle cx="365.2" cy="198.2" r="2.45"/><circle cx="364.9" cy="198.5" r="2.45"/><circle cx="365.6" cy="199.9" r="2.45"/><circle cx="365.5" cy="199.3" r="2.45"/><circle cx="365.4" cy="199.4" r="2.45"/><circle cx="365.6" cy="198.5" r="2.45"/><circle cx="366.0" cy="198.2" r="2.45"/><circle cx="366.3" cy="197.7" r="2.45"/><circle cx="366.2" cy="198.9" r="2.45"/><circle cx="366.3" cy="197.9" r="2.45"/><circle cx="366.5" cy="197.7" r="2.45"/><circle cx="367.1" cy="198.1" r="2.45"/><circle cx="367.3" cy="197.9" r="2.45"/><circle cx="367.3" cy="198.2" r="2.45"/><circle cx="367.2" cy="197.9" r="2.45"/><circle cx="368.2" cy="197.7" r="2.45"/><circle cx="368.0" cy="197.2" r="2.45"/><circle cx="368.0" cy="198.0" r="2.45"/><circle cx="368.7" cy="197.3" r="2.45"/><circle cx="368.7" cy="197.9" r="2.45"/><circle cx="368.5" cy="196.6" r="2.45"/><circle cx="368.5" cy="198.4" r="2.45"/><circle cx="368.8" cy="196.9" r="2.45"/><circle cx="368.9" cy="196.6" r="2.45"/><circle cx="369.4" cy="197.8" r="2.45"/><circle cx="370.0" cy="197.1" r="2.45"/><circle cx="369.9" cy="196.4" r="2.45"/><circle cx="369.9" cy="196.6" r="2.45"/><circle cx="370.0" cy="195.3" r="2.45"/><circle cx="370.5" cy="195.3" r="2.45"/><circle cx="370.7" cy="197.0" r="2.45"/><circle cx="370.7" cy="197.1" r="2.45"/><circle cx="371.3" cy="196.2" r="2.45"/><circle cx="371.6" cy="195.6" r="2.45"/><circle cx="371.2" cy="195.6" r="2.45"/><circle cx="371.4" cy="195.4" r="2.45"/><circle cx="372.0" cy="194.4" r="2.45"/><circle cx="371.6" cy="196.0" r="2.45"/><circle cx="372.2" cy="194.9" r="2.45"/><circle cx="372.7" cy="195.8" r="2.45"/><circle cx="372.7" cy="194.6" r="2.45"/><circle cx="373.0" cy="194.6" r="2.45"/><circle cx="372.9" cy="194.8" r="2.45"/><circle cx="373.3" cy="194.9" r="2.45"/><circle cx="373.0" cy="193.9" r="2.45"/><circle cx="373.1" cy="193.9" r="2.45"/><circle cx="373.4" cy="194.4" r="2.45"/><circle cx="373.5" cy="193.9" r="2.45"/><circle cx="374.2" cy="193.8" r="2.45"/><circle cx="373.9" cy="193.7" r="2.45"/><circle cx="374.1" cy="192.2" r="2.45"/><circle cx="374.9" cy="193.0" r="2.45"/><circle cx="374.5" cy="192.4" r="2.45"/><circle cx="374.9" cy="193.9" r="2.45"/><circle cx="375.4" cy="191.8" r="2.45"/><circle cx="375.4" cy="192.0" r="2.45"/><circle cx="375.8" cy="193.1" r="2.45"/><circle cx="375.7" cy="192.3" r="2.45"/><circle cx="375.7" cy="192.5" r="2.45"/><circle cx="375.7" cy="192.3" r="2.45"/><circle cx="376.0" cy="192.1" r="2.45"/><circle cx="376.7" cy="192.5" r="2.45"/><circle cx="376.4" cy="191.7" r="2.45"/><circle cx="376.6" cy="190.9" r="2.45"/><circle cx="376.7" cy="191.0" r="2.45"/><circle cx="377.2" cy="191.5" r="2.45"/><circle cx="377.1" cy="191.5" r="2.45"/><circle cx="378.0" cy="189.7" r="2.45"/><circle cx="377.9" cy="189.5" r="2.45"/><circle cx="377.7" cy="190.0" r="2.45"/><circle cx="377.9" cy="190.7" r="2.45"/><circle cx="378.1" cy="190.0" r="2.45"/><circle cx="378.9" cy="191.1" r="2.45"/><circle cx="379.0" cy="188.4" r="2.45"/><circle cx="379.2" cy="189.2" r="2.45"/><circle cx="378.7" cy="189.1" r="2.45"/><circle cx="379.6" cy="189.3" r="2.45"/><circle cx="379.1" cy="189.5" r="2.45"/><circle cx="379.4" cy="188.6" r="2.45"/><circle cx="379.4" cy="189.1" r="2.45"/><circle cx="379.8" cy="188.1" r="2.45"/><circle cx="380.2" cy="188.9" r="2.45"/><circle cx="380.5" cy="187.7" r="2.45"/><circle cx="380.3" cy="188.1" r="2.45"/><circle cx="380.9" cy="187.3" r="2.45"/><circle cx="380.7" cy="186.6" r="2.45"/><circle cx="381.2" cy="187.1" r="2.45"/><circle cx="381.3" cy="187.0" r="2.45"/><circle cx="381.6" cy="187.0" r="2.45"/><circle cx="381.9" cy="186.3" r="2.45"/><circle cx="381.7" cy="186.2" r="2.45"/><circle cx="381.7" cy="187.0" r="2.45"/><circle cx="382.5" cy="186.1" r="2.45"/><circle cx="382.1" cy="186.5" r="2.45"/><circle cx="382.9" cy="185.5" r="2.45"/><circle cx="383.1" cy="185.9" r="2.45"/><circle cx="383.4" cy="185.3" r="2.45"/><circle cx="383.2" cy="185.0" r="2.45"/><circle cx="383.2" cy="184.5" r="2.45"/><circle cx="383.9" cy="184.9" r="2.45"/><circle cx="383.7" cy="184.6" r="2.45"/><circle cx="384.1" cy="183.9" r="2.45"/><circle cx="384.1" cy="183.2" r="2.45"/><circle cx="384.4" cy="183.7" r="2.45"/><circle cx="384.8" cy="182.8" r="2.45"/><circle cx="385.0" cy="182.6" r="2.45"/><circle cx="384.8" cy="183.4" r="2.45"/><circle cx="385.3" cy="182.0" r="2.45"/><circle cx="385.7" cy="181.5" r="2.45"/><circle cx="385.5" cy="181.9" r="2.45"/><circle cx="385.7" cy="182.8" r="2.45"/><circle cx="385.5" cy="182.0" r="2.45"/><circle cx="385.8" cy="181.2" r="2.45"/><circle cx="385.9" cy="181.5" r="2.45"/><circle cx="386.1" cy="181.2" r="2.45"/><circle cx="386.3" cy="179.9" r="2.45"/><circle cx="386.4" cy="180.9" r="2.45"/><circle cx="387.1" cy="180.9" r="2.45"/><circle cx="387.3" cy="180.9" r="2.45"/><circle cx="387.1" cy="180.4" r="2.45"/><circle cx="387.2" cy="179.2" r="2.45"/><circle cx="387.4" cy="180.3" r="2.45"/><circle cx="387.8" cy="180.1" r="2.45"/><circle cx="387.8" cy="179.1" r="2.45"/><circle cx="388.4" cy="179.1" r="2.45"/><circle cx="388.8" cy="178.5" r="2.45"/><circle cx="388.9" cy="177.9" r="2.45"/><circle cx="388.6" cy="177.5" r="2.45"/><circle cx="389.0" cy="177.3" r="2.45"/><circle cx="389.2" cy="179.0" r="2.45"/><circle cx="389.4" cy="177.1" r="2.45"/><circle cx="390.0" cy="177.8" r="2.45"/><circle cx="389.6" cy="176.9" r="2.45"/><circle cx="389.9" cy="177.3" r="2.45"/><circle cx="390.4" cy="178.1" r="2.45"/><circle cx="390.7" cy="175.6" r="2.45"/><circle cx="390.2" cy="175.5" r="2.45"/><circle cx="390.8" cy="176.8" r="2.45"/><circle cx="390.8" cy="174.1" r="2.45"/><circle cx="391.1" cy="175.6" r="2.45"/><circle cx="391.4" cy="175.4" r="2.45"/><circle cx="391.2" cy="175.2" r="2.45"/><circle cx="391.3" cy="175.2" r="2.45"/><circle cx="391.6" cy="174.0" r="2.45"/><circle cx="392.4" cy="173.0" r="2.45"/><circle cx="392.4" cy="174.0" r="2.45"/><circle cx="392.8" cy="173.1" r="2.45"/><circle cx="392.3" cy="174.5" r="2.45"/><circle cx="393.0" cy="173.3" r="2.45"/><circle cx="392.8" cy="173.2" r="2.45"/><circle cx="393.3" cy="173.9" r="2.45"/><circle cx="393.2" cy="172.7" r="2.45"/><circle cx="394.0" cy="172.7" r="2.45"/><circle cx="393.6" cy="171.9" r="2.45"/><circle cx="393.7" cy="171.8" r="2.45"/><circle cx="394.2" cy="170.4" r="2.45"/><circle cx="394.2" cy="170.3" r="2.45"/><circle cx="394.5" cy="171.0" r="2.45"/><circle cx="394.4" cy="170.9" r="2.45"/><circle cx="394.6" cy="170.3" r="2.45"/><circle cx="394.9" cy="170.2" r="2.45"/><circle cx="395.1" cy="169.1" r="2.45"/><circle cx="395.7" cy="168.8" r="2.45"/><circle cx="395.8" cy="168.8" r="2.45"/><circle cx="395.6" cy="169.8" r="2.45"/><circle cx="396.2" cy="169.1" r="2.45"/><circle cx="396.3" cy="169.3" r="2.45"/><circle cx="396.4" cy="168.0" r="2.45"/><circle cx="396.4" cy="168.2" r="2.45"/><circle cx="396.8" cy="167.3" r="2.45"/><circle cx="396.6" cy="168.1" r="2.45"/><circle cx="397.1" cy="166.7" r="2.45"/><circle cx="397.4" cy="166.7" r="2.45"/><circle cx="397.5" cy="167.1" r="2.45"/><circle cx="397.6" cy="166.9" r="2.45"/><circle cx="398.1" cy="164.4" r="2.45"/><circle cx="398.4" cy="165.8" r="2.45"/><circle cx="398.3" cy="165.5" r="2.45"/><circle cx="398.4" cy="164.9" r="2.45"/><circle cx="398.9" cy="165.0" r="2.45"/><circle cx="399.2" cy="164.6" r="2.45"/><circle cx="399.2" cy="164.4" r="2.45"/><circle cx="399.1" cy="164.1" r="2.45"/><circle cx="399.6" cy="163.7" r="2.45"/><circle cx="399.9" cy="164.9" r="2.45"/><circle cx="399.8" cy="164.5" r="2.45"/><circle cx="400.2" cy="163.5" r="2.45"/><circle cx="400.2" cy="164.2" r="2.45"/><circle cx="400.7" cy="162.7" r="2.45"/><circle cx="400.3" cy="163.7" r="2.45"/><circle cx="401.0" cy="162.4" r="2.45"/><circle cx="401.0" cy="162.2" r="2.45"/><circle cx="401.2" cy="163.6" r="2.45"/><circle cx="401.3" cy="161.6" r="2.45"/><circle cx="401.6" cy="161.1" r="2.45"/><circle cx="401.6" cy="162.4" r="2.45"/><circle cx="402.1" cy="161.6" r="2.45"/><circle cx="401.9" cy="160.4" r="2.45"/><circle cx="402.2" cy="161.0" r="2.45"/><circle cx="402.3" cy="159.6" r="2.45"/><circle cx="402.6" cy="159.6" r="2.45"/><circle cx="402.8" cy="160.8" r="2.45"/><circle cx="402.7" cy="159.1" r="2.45"/><circle cx="403.3" cy="158.6" r="2.45"/><circle cx="403.7" cy="159.1" r="2.45"/><circle cx="403.4" cy="158.7" r="2.45"/><circle cx="404.1" cy="157.7" r="2.45"/><circle cx="403.7" cy="159.1" r="2.45"/><circle cx="403.8" cy="159.1" r="2.45"/><circle cx="404.0" cy="156.9" r="2.45"/><circle cx="404.9" cy="158.0" r="2.45"/><circle cx="404.9" cy="157.4" r="2.45"/><circle cx="404.9" cy="159.1" r="2.45"/><circle cx="405.1" cy="157.1" r="2.45"/><circle cx="405.2" cy="156.6" r="2.45"/><circle cx="405.5" cy="156.6" r="2.45"/><circle cx="405.8" cy="156.7" r="2.45"/><circle cx="405.9" cy="154.3" r="2.45"/><circle cx="406.0" cy="154.8" r="2.45"/><circle cx="406.3" cy="154.7" r="2.45"/><circle cx="406.8" cy="156.0" r="2.45"/><circle cx="406.6" cy="155.1" r="2.45"/><circle cx="407.2" cy="155.1" r="2.45"/><circle cx="406.8" cy="153.7" r="2.45"/><circle cx="406.9" cy="154.9" r="2.45"/><circle cx="407.2" cy="153.7" r="2.45"/><circle cx="407.5" cy="152.0" r="2.45"/><circle cx="407.4" cy="153.2" r="2.45"/><circle cx="408.2" cy="152.0" r="2.45"/><circle cx="408.5" cy="153.1" r="2.45"/><circle cx="408.0" cy="151.7" r="2.45"/><circle cx="408.3" cy="152.4" r="2.45"/><circle cx="408.4" cy="152.5" r="2.45"/><circle cx="408.6" cy="151.6" r="2.45"/><circle cx="408.9" cy="151.9" r="2.45"/><circle cx="409.6" cy="151.6" r="2.45"/><circle cx="409.4" cy="150.9" r="2.45"/><circle cx="409.8" cy="150.6" r="2.45"/><circle cx="409.4" cy="150.6" r="2.45"/><circle cx="409.8" cy="149.0" r="2.45"/><circle cx="410.3" cy="149.2" r="2.45"/><circle cx="410.1" cy="150.2" r="2.45"/><circle cx="410.4" cy="150.1" r="2.45"/><circle cx="410.9" cy="148.9" r="2.45"/><circle cx="411.0" cy="150.9" r="2.45"/><circle cx="411.0" cy="148.9" r="2.45"/><circle cx="411.5" cy="147.9" r="2.45"/><circle cx="411.2" cy="147.7" r="2.45"/><circle cx="411.7" cy="147.3" r="2.45"/><circle cx="412.1" cy="147.2" r="2.45"/><circle cx="411.7" cy="148.1" r="2.45"/><circle cx="411.9" cy="147.7" r="2.45"/><circle cx="412.6" cy="146.6" r="2.45"/><circle cx="412.5" cy="147.0" r="2.45"/><circle cx="412.5" cy="145.9" r="2.45"/><circle cx="413.3" cy="145.4" r="2.45"/><circle cx="413.2" cy="146.1" r="2.45"/><circle cx="413.3" cy="145.6" r="2.45"/><circle cx="413.6" cy="143.7" r="2.45"/><circle cx="414.1" cy="144.3" r="2.45"/><circle cx="413.7" cy="145.4" r="2.45"/><circle cx="413.8" cy="143.9" r="2.45"/><circle cx="414.2" cy="142.8" r="2.45"/><circle cx="414.8" cy="144.3" r="2.45"/><circle cx="414.8" cy="143.2" r="2.45"/><circle cx="415.3" cy="143.7" r="2.45"/><circle cx="414.9" cy="144.6" r="2.45"/><circle cx="415.2" cy="142.6" r="2.45"/><circle cx="415.3" cy="142.4" r="2.45"/><circle cx="415.9" cy="142.5" r="2.45"/><circle cx="415.6" cy="143.0" r="2.45"/><circle cx="415.8" cy="141.4" r="2.45"/><circle cx="416.6" cy="141.5" r="2.45"/><circle cx="416.2" cy="140.6" r="2.45"/><circle cx="416.6" cy="141.0" r="2.45"/><circle cx="416.7" cy="140.5" r="2.45"/><circle cx="416.7" cy="140.3" r="2.45"/><circle cx="417.4" cy="139.7" r="2.45"/><circle cx="417.1" cy="139.9" r="2.45"/><circle cx="417.4" cy="138.8" r="2.45"/><circle cx="417.8" cy="139.0" r="2.45"/><circle cx="417.8" cy="138.5" r="2.45"/><circle cx="417.8" cy="137.8" r="2.45"/><circle cx="418.1" cy="137.2" r="2.45"/><circle cx="418.4" cy="137.6" r="2.45"/><circle cx="418.9" cy="137.9" r="2.45"/><circle cx="418.7" cy="137.1" r="2.45"/><circle cx="419.2" cy="137.4" r="2.45"/><circle cx="419.0" cy="138.0" r="2.45"/><circle cx="419.8" cy="135.1" r="2.45"/><circle cx="419.6" cy="136.6" r="2.45"/><circle cx="419.5" cy="135.8" r="2.45"/><circle cx="420.3" cy="135.7" r="2.45"/><circle cx="420.2" cy="135.8" r="2.45"/><circle cx="420.4" cy="135.3" r="2.45"/><circle cx="420.3" cy="134.2" r="2.45"/><circle cx="420.7" cy="134.1" r="2.45"/><circle cx="421.0" cy="134.3" r="2.45"/><circle cx="421.0" cy="133.9" r="2.45"/><circle cx="421.4" cy="132.2" r="2.45"/><circle cx="421.4" cy="133.8" r="2.45"/><circle cx="421.3" cy="133.2" r="2.45"/><circle cx="421.7" cy="131.9" r="2.45"/><circle cx="422.2" cy="131.0" r="2.45"/><circle cx="422.1" cy="131.2" r="2.45"/><circle cx="422.4" cy="131.1" r="2.45"/><circle cx="422.5" cy="131.5" r="2.45"/><circle cx="422.6" cy="130.9" r="2.45"/><circle cx="422.8" cy="130.0" r="2.45"/><circle cx="423.1" cy="129.7" r="2.45"/><circle cx="423.7" cy="129.1" r="2.45"/><circle cx="423.8" cy="130.7" r="2.45"/><circle cx="423.4" cy="129.3" r="2.45"/><circle cx="424.1" cy="128.9" r="2.45"/><circle cx="424.1" cy="129.5" r="2.45"/><circle cx="424.4" cy="129.5" r="2.45"/><circle cx="424.8" cy="128.7" r="2.45"/><circle cx="424.6" cy="128.8" r="2.45"/><circle cx="424.6" cy="128.3" r="2.45"/><circle cx="425.4" cy="128.0" r="2.45"/><circle cx="424.9" cy="127.5" r="2.45"/><circle cx="425.1" cy="128.4" r="2.45"/><circle cx="425.5" cy="126.5" r="2.45"/><circle cx="425.7" cy="126.0" r="2.45"/><circle cx="426.1" cy="125.5" r="2.45"/><circle cx="425.9" cy="125.7" r="2.45"/><circle cx="426.6" cy="125.0" r="2.45"/><circle cx="426.4" cy="126.3" r="2.45"/><circle cx="426.6" cy="126.2" r="2.45"/><circle cx="426.6" cy="124.2" r="2.45"/><circle cx="427.0" cy="123.7" r="2.45"/><circle cx="427.0" cy="125.4" r="2.45"/><circle cx="427.2" cy="123.1" r="2.45"/><circle cx="427.5" cy="124.5" r="2.45"/><circle cx="427.7" cy="122.1" r="2.45"/><circle cx="428.4" cy="122.0" r="2.45"/><circle cx="428.4" cy="122.7" r="2.45"/><circle cx="428.4" cy="122.8" r="2.45"/><circle cx="428.5" cy="122.1" r="2.45"/><circle cx="428.5" cy="123.5" r="2.45"/><circle cx="429.4" cy="120.7" r="2.45"/><circle cx="429.4" cy="121.6" r="2.45"/><circle cx="429.5" cy="121.1" r="2.45"/><circle cx="429.6" cy="122.4" r="2.45"/><circle cx="429.7" cy="119.1" r="2.45"/><circle cx="430.0" cy="119.7" r="2.45"/><circle cx="430.4" cy="119.5" r="2.45"/><circle cx="430.0" cy="119.8" r="2.45"/><circle cx="430.3" cy="119.9" r="2.45"/><circle cx="430.8" cy="120.7" r="2.45"/><circle cx="430.9" cy="117.5" r="2.45"/><circle cx="430.9" cy="118.8" r="2.45"/><circle cx="431.2" cy="117.5" r="2.45"/><circle cx="431.2" cy="117.7" r="2.45"/><circle cx="431.8" cy="118.0" r="2.45"/><circle cx="432.0" cy="117.1" r="2.45"/><circle cx="432.1" cy="117.2" r="2.45"/><circle cx="432.2" cy="116.3" r="2.45"/><circle cx="432.3" cy="116.0" r="2.45"/><circle cx="432.9" cy="116.9" r="2.45"/><circle cx="432.7" cy="115.5" r="2.45"/><circle cx="433.2" cy="115.1" r="2.45"/><circle cx="432.9" cy="117.3" r="2.45"/><circle cx="433.5" cy="116.0" r="2.45"/><circle cx="433.8" cy="116.2" r="2.45"/><circle cx="434.0" cy="115.7" r="2.45"/><circle cx="433.8" cy="114.2" r="2.45"/><circle cx="433.9" cy="114.0" r="2.45"/><circle cx="434.1" cy="113.6" r="2.45"/><circle cx="434.7" cy="113.8" r="2.45"/><circle cx="434.5" cy="114.3" r="2.45"/><circle cx="434.8" cy="113.5" r="2.45"/><circle cx="434.7" cy="113.8" r="2.45"/><circle cx="434.9" cy="112.7" r="2.45"/><circle cx="435.1" cy="111.3" r="2.45"/><circle cx="435.8" cy="112.8" r="2.45"/><circle cx="435.5" cy="111.2" r="2.45"/><circle cx="436.0" cy="112.4" r="2.45"/><circle cx="436.2" cy="112.6" r="2.45"/><circle cx="436.0" cy="111.5" r="2.45"/><circle cx="436.7" cy="110.3" r="2.45"/><circle cx="437.1" cy="112.1" r="2.45"/><circle cx="436.7" cy="111.6" r="2.45"/><circle cx="436.8" cy="111.6" r="2.45"/><circle cx="437.6" cy="109.0" r="2.45"/><circle cx="437.3" cy="110.2" r="2.45"/><circle cx="438.0" cy="109.7" r="2.45"/><circle cx="438.2" cy="108.7" r="2.45"/><circle cx="438.3" cy="109.0" r="2.45"/><circle cx="438.5" cy="108.1" r="2.45"/><circle cx="438.7" cy="109.8" r="2.45"/><circle cx="438.5" cy="108.7" r="2.45"/><circle cx="438.7" cy="110.0" r="2.45"/><circle cx="439.3" cy="107.9" r="2.45"/><circle cx="439.3" cy="108.7" r="2.45"/><circle cx="439.5" cy="108.2" r="2.45"/><circle cx="439.9" cy="107.6" r="2.45"/><circle cx="440.1" cy="109.7" r="2.45"/><circle cx="439.7" cy="109.2" r="2.45"/><circle cx="440.0" cy="107.7" r="2.45"/><circle cx="440.5" cy="108.0" r="2.45"/><circle cx="440.3" cy="107.7" r="2.45"/><circle cx="440.4" cy="110.0" r="2.45"/><circle cx="440.5" cy="106.1" r="2.45"/><circle cx="441.3" cy="107.6" r="2.45"/><circle cx="440.9" cy="106.5" r="2.45"/><circle cx="441.7" cy="105.4" r="2.45"/><circle cx="441.6" cy="108.2" r="2.45"/><circle cx="441.9" cy="106.6" r="2.45"/><circle cx="442.0" cy="104.5" r="2.45"/><circle cx="442.3" cy="106.5" r="2.45"/><circle cx="442.7" cy="104.7" r="2.45"/><circle cx="442.4" cy="105.0" r="2.45"/><circle cx="442.7" cy="105.8" r="2.45"/><circle cx="442.7" cy="106.2" r="2.45"/><circle cx="442.8" cy="105.5" r="2.45"/><circle cx="443.7" cy="105.5" r="2.45"/><circle cx="443.9" cy="103.6" r="2.45"/><circle cx="444.1" cy="102.6" r="2.45"/><circle cx="444.0" cy="106.8" r="2.45"/><circle cx="444.2" cy="104.1" r="2.45"/><circle cx="444.4" cy="104.5" r="2.45"/><circle cx="444.8" cy="104.4" r="2.45"/><circle cx="444.7" cy="102.4" r="2.45"/><circle cx="444.7" cy="104.2" r="2.45"/><circle cx="445.4" cy="104.3" r="2.45"/><circle cx="445.4" cy="102.6" r="2.45"/><circle cx="445.4" cy="103.0" r="2.45"/><circle cx="445.5" cy="101.5" r="2.45"/><circle cx="445.9" cy="102.0" r="2.45"/><circle cx="446.0" cy="104.0" r="2.45"/><circle cx="446.1" cy="101.8" r="2.45"/><circle cx="446.7" cy="101.8" r="2.45"/><circle cx="446.6" cy="101.7" r="2.45"/><circle cx="446.5" cy="100.3" r="2.45"/><circle cx="446.6" cy="100.4" r="2.45"/><circle cx="447.1" cy="102.7" r="2.45"/><circle cx="447.3" cy="101.8" r="2.45"/><circle cx="447.2" cy="101.2" r="2.45"/><circle cx="447.7" cy="99.7" r="2.45"/><circle cx="447.8" cy="101.5" r="2.45"/><circle cx="447.7" cy="101.2" r="2.45"/><circle cx="448.3" cy="103.1" r="2.45"/><circle cx="448.6" cy="99.7" r="2.45"/><circle cx="449.0" cy="100.5" r="2.45"/><circle cx="449.0" cy="100.9" r="2.45"/><circle cx="448.9" cy="98.3" r="2.45"/><circle cx="448.9" cy="98.6" r="2.45"/><circle cx="449.6" cy="98.3" r="2.45"/><circle cx="449.3" cy="100.1" r="2.45"/><circle cx="449.5" cy="99.5" r="2.45"/><circle cx="449.8" cy="99.8" r="2.45"/><circle cx="449.9" cy="97.6" r="2.45"/><circle cx="450.2" cy="98.9" r="2.45"/><circle cx="450.8" cy="99.3" r="2.45"/><circle cx="450.8" cy="100.1" r="2.45"/><circle cx="451.2" cy="97.5" r="2.45"/><circle cx="451.4" cy="99.7" r="2.45"/><circle cx="451.1" cy="97.3" r="2.45"/><circle cx="451.7" cy="96.4" r="2.45"/><circle cx="451.3" cy="99.0" r="2.45"/><circle cx="451.7" cy="100.0" r="2.45"/><circle cx="452.2" cy="98.0" r="2.45"/><circle cx="451.8" cy="100.7" r="2.45"/><circle cx="452.4" cy="97.9" r="2.45"/><circle cx="452.8" cy="97.7" r="2.45"/><circle cx="452.9" cy="94.9" r="2.45"/><circle cx="452.8" cy="95.0" r="2.45"/><circle cx="453.4" cy="96.3" r="2.45"/><circle cx="453.4" cy="95.3" r="2.45"/><circle cx="453.2" cy="96.3" r="2.45"/><circle cx="454.0" cy="96.2" r="2.45"/><circle cx="453.7" cy="95.6" r="2.45"/><circle cx="454.2" cy="94.5" r="2.45"/><circle cx="454.6" cy="96.5" r="2.45"/><circle cx="454.5" cy="95.3" r="2.45"/><circle cx="455.0" cy="96.6" r="2.45"/><circle cx="454.5" cy="97.9" r="2.45"/><circle cx="455.0" cy="95.9" r="2.45"/><circle cx="455.5" cy="94.6" r="2.45"/><circle cx="455.2" cy="95.1" r="2.45"/><circle cx="455.9" cy="95.4" r="2.45"/><circle cx="455.8" cy="95.5" r="2.45"/><circle cx="455.7" cy="96.1" r="2.45"/><circle cx="456.5" cy="93.9" r="2.45"/><circle cx="456.4" cy="95.7" r="2.45"/><circle cx="456.3" cy="93.3" r="2.45"/><circle cx="457.0" cy="93.7" r="2.45"/><circle cx="456.7" cy="94.5" r="2.45"/><circle cx="457.0" cy="94.3" r="2.45"/><circle cx="457.2" cy="95.8" r="2.45"/><circle cx="457.4" cy="93.4" r="2.45"/><circle cx="457.5" cy="91.8" r="2.45"/><circle cx="457.5" cy="93.5" r="2.45"/><circle cx="457.7" cy="97.7" r="2.45"/><circle cx="458.0" cy="92.3" r="2.45"/><circle cx="458.2" cy="93.8" r="2.45"/><circle cx="458.6" cy="94.2" r="2.45"/></g>
<polyline points="358.10,201.60 359.36,201.46 361.21,201.21 363.40,200.60 364.88,199.99 366.54,199.25 368.29,198.37 370.07,197.39 371.80,196.30 373.48,195.12 375.16,193.82 376.84,192.42 378.52,190.92 380.20,189.30 381.88,187.55 383.56,185.68 385.24,183.70 386.92,181.67 388.60,179.60 390.28,177.49 391.96,175.31 393.63,173.09 395.31,170.85 397.00,168.60 398.69,166.36 400.37,164.11 402.06,161.84 403.77,159.54 405.50,157.20 407.25,154.85 409.02,152.51 410.80,150.11 412.63,147.63 414.50,145.00 416.15,142.61 417.89,140.04 419.66,137.39 421.39,134.77 423.02,132.31 424.50,130.10 426.35,127.31 427.91,124.92 429.39,122.73 431.00,120.50 432.76,118.19 434.58,115.90 436.46,113.69 438.40,111.60 440.02,110.04 441.69,108.55 443.39,107.13 445.10,105.76 446.80,104.40 448.48,103.05 450.16,101.71 451.84,100.43 453.52,99.21 455.20,98.10 456.83,97.14 458.41,96.30 460.01,95.52 461.72,94.74 463.60,93.90 465.34,93.12 467.19,92.30 469.14,91.46 471.14,90.63 473.17,89.84 475.20,89.10 476.95,88.52 478.73,87.98 480.53,87.47 482.35,86.97 484.17,86.49 485.99,86.00 487.80,85.50 489.60,85.00 491.40,84.50 493.20,84.00 495.00,83.51 496.80,83.01 498.60,82.51 500.40,82.00 502.20,81.48 504.00,80.96 505.80,80.43 507.60,79.90 509.40,79.36 511.20,78.83 513.00,78.30 514.78,77.77 516.55,77.25 518.31,76.74 520.07,76.21 521.87,75.69 523.71,75.15 525.60,74.60 527.28,74.12 528.94,73.64 530.62,73.15 532.34,72.66 534.11,72.16 535.96,71.63 537.92,71.08 540.00,70.50 541.61,70.05 543.30,69.56 545.05,69.05 546.86,68.53 548.71,68.00 550.59,67.46 552.49,66.93 554.39,66.42 556.29,65.92 558.16,65.44 560.00,65.00 561.82,64.59 563.64,64.19 565.45,63.81 567.27,63.44 569.09,63.08 570.91,62.74 572.73,62.41 574.55,62.10 576.36,61.79 578.18,61.49 580.00,61.20 581.82,60.92 583.64,60.64 585.45,60.38 587.27,60.12 589.09,59.88 590.91,59.65 592.73,59.43 594.55,59.22 596.36,59.03 598.18,58.86 600.00,58.70 601.77,58.56 603.47,58.44 605.13,58.34 606.77,58.25 608.41,58.18 610.10,58.11 611.84,58.06 613.68,58.01 615.63,57.97 617.73,57.94 620.00,57.90 621.62,57.88 623.41,57.86 625.34,57.85 627.38,57.84 629.51,57.84 631.70,57.84 633.92,57.84 636.14,57.85 638.35,57.85 640.50,57.86 642.59,57.87 644.57,57.88 646.42,57.88 648.11,57.89 649.63,57.90 650.93,57.90 652.00,57.90" fill="none" stroke="#1010ee" stroke-width="1.6" stroke-linejoin="miter" />
<polyline points="358.10,201.60 359.41,201.59 361.27,201.61 363.42,201.58 365.62,201.44 367.60,201.10 369.35,200.55 371.04,199.85 372.69,199.01 374.34,198.05 376.00,197.00 377.68,195.87 379.36,194.63 381.04,193.29 382.72,191.81 384.40,190.20 386.08,188.40 387.76,186.44 389.44,184.36 391.12,182.22 392.80,180.10 394.49,177.98 396.19,175.81 397.88,173.62 399.56,171.41 401.20,169.20 403.18,166.45 405.11,163.70 407.03,160.90 409.00,158.00 410.66,155.53 412.39,152.93 414.11,150.31 415.77,147.80 417.30,145.50 419.01,142.96 420.56,140.66 422.00,138.53 423.40,136.50 425.02,134.10 426.52,131.93 428.40,129.50 429.86,127.76 431.52,125.86 433.28,123.91 435.07,121.99 436.80,120.20 438.48,118.54 440.16,116.95 441.84,115.43 443.52,113.98 445.20,112.60 446.91,111.29 448.66,110.04 450.38,108.86 452.05,107.78 453.60,106.80 455.35,105.73 456.95,104.82 458.48,104.05 460.00,103.40 461.51,102.89 462.98,102.51 464.46,102.23 466.00,102.00 467.61,101.81 469.27,101.67 470.97,101.61 472.70,101.60 474.47,101.65 476.28,101.75 478.13,101.93 480.00,102.20 481.74,102.53 483.41,102.92 485.33,103.46 487.80,104.20 489.27,104.65 490.83,105.13 492.49,105.65 494.27,106.22 496.18,106.85 498.25,107.55 500.48,108.33 502.90,109.20 504.55,109.81 506.38,110.48 508.35,111.22 510.42,112.00 512.57,112.82 514.76,113.65 516.94,114.49 519.09,115.32 521.16,116.13 523.12,116.91 524.94,117.64 526.58,118.30 528.00,118.90 530.56,120.17 531.96,121.18 532.96,122.02 534.29,122.79 536.70,123.60 538.10,123.95 539.63,124.28 541.28,124.61 543.03,124.92 544.89,125.23 546.84,125.54 548.88,125.84 550.99,126.16 553.16,126.47 555.40,126.80 557.68,127.14 560.00,127.50 561.69,127.77 563.46,128.05 565.29,128.34 567.18,128.64 569.12,128.94 571.10,129.26 573.11,129.57 575.14,129.89 577.18,130.20 579.22,130.51 581.25,130.82 583.27,131.11 585.27,131.40 587.23,131.67 589.14,131.93 591.00,132.18 592.80,132.40 594.90,132.65 596.94,132.88 598.91,133.10 600.84,133.29 602.73,133.48 604.60,133.65 606.45,133.81 608.30,133.97 610.16,134.11 612.04,134.25 613.95,134.39 615.91,134.53 617.92,134.66 620.00,134.80 621.81,134.91 623.74,135.03 625.77,135.14 627.88,135.25 630.04,135.35 632.23,135.46 634.43,135.56 636.62,135.65 638.77,135.75 640.86,135.83 642.88,135.92 644.79,136.00 646.57,136.07 648.21,136.14 649.67,136.20 650.94,136.25 652.00,136.30" fill="none" stroke="#ee1111" stroke-width="1.5" stroke-linejoin="miter" />
<line x1="416.88" y1="201.60" x2="416.88" y2="196.10" stroke="#111" stroke-width="1.0" />
<line x1="416.88" y1="30.50" x2="416.88" y2="36.00" stroke="#111" stroke-width="1.0" />
<line x1="475.66" y1="201.60" x2="475.66" y2="196.10" stroke="#111" stroke-width="1.0" />
<line x1="475.66" y1="30.50" x2="475.66" y2="36.00" stroke="#111" stroke-width="1.0" />
<line x1="534.44" y1="201.60" x2="534.44" y2="196.10" stroke="#111" stroke-width="1.0" />
<line x1="534.44" y1="30.50" x2="534.44" y2="36.00" stroke="#111" stroke-width="1.0" />
<line x1="593.22" y1="201.60" x2="593.22" y2="196.10" stroke="#111" stroke-width="1.0" />
<line x1="593.22" y1="30.50" x2="593.22" y2="36.00" stroke="#111" stroke-width="1.0" />
<line x1="387.49" y1="201.60" x2="387.49" y2="198.80" stroke="#111" stroke-width="1.0" />
<line x1="387.49" y1="30.50" x2="387.49" y2="33.30" stroke="#111" stroke-width="1.0" />
<line x1="446.27" y1="201.60" x2="446.27" y2="198.80" stroke="#111" stroke-width="1.0" />
<line x1="446.27" y1="30.50" x2="446.27" y2="33.30" stroke="#111" stroke-width="1.0" />
<line x1="505.05" y1="201.60" x2="505.05" y2="198.80" stroke="#111" stroke-width="1.0" />
<line x1="505.05" y1="30.50" x2="505.05" y2="33.30" stroke="#111" stroke-width="1.0" />
<line x1="563.83" y1="201.60" x2="563.83" y2="198.80" stroke="#111" stroke-width="1.0" />
<line x1="563.83" y1="30.50" x2="563.83" y2="33.30" stroke="#111" stroke-width="1.0" />
<line x1="622.61" y1="201.60" x2="622.61" y2="198.80" stroke="#111" stroke-width="1.0" />
<line x1="622.61" y1="30.50" x2="622.61" y2="33.30" stroke="#111" stroke-width="1.0" />
<line x1="358.10" y1="158.82" x2="363.60" y2="158.82" stroke="#111" stroke-width="1.0" />
<line x1="652.00" y1="158.82" x2="646.50" y2="158.82" stroke="#111" stroke-width="1.0" />
<line x1="358.10" y1="116.05" x2="363.60" y2="116.05" stroke="#111" stroke-width="1.0" />
<line x1="652.00" y1="116.05" x2="646.50" y2="116.05" stroke="#111" stroke-width="1.0" />
<line x1="358.10" y1="73.28" x2="363.60" y2="73.28" stroke="#111" stroke-width="1.0" />
<line x1="652.00" y1="73.28" x2="646.50" y2="73.28" stroke="#111" stroke-width="1.0" />
<line x1="358.10" y1="180.21" x2="360.90" y2="180.21" stroke="#111" stroke-width="1.0" />
<line x1="652.00" y1="180.21" x2="649.20" y2="180.21" stroke="#111" stroke-width="1.0" />
<line x1="358.10" y1="137.44" x2="360.90" y2="137.44" stroke="#111" stroke-width="1.0" />
<line x1="652.00" y1="137.44" x2="649.20" y2="137.44" stroke="#111" stroke-width="1.0" />
<line x1="358.10" y1="94.66" x2="360.90" y2="94.66" stroke="#111" stroke-width="1.0" />
<line x1="652.00" y1="94.66" x2="649.20" y2="94.66" stroke="#111" stroke-width="1.0" />
<line x1="358.10" y1="51.89" x2="360.90" y2="51.89" stroke="#111" stroke-width="1.0" />
<line x1="652.00" y1="51.89" x2="649.20" y2="51.89" stroke="#111" stroke-width="1.0" />
<rect x="358.10" y="30.50" width="293.90" height="171.10" fill="none" stroke="#111" stroke-width="1.3"/>
<text x="358.1" y="214.0" font-size="13.5" text-anchor="middle" fill="#000" font-weight="normal" >0</text>
<text x="416.9" y="214.0" font-size="13.5" text-anchor="middle" fill="#000" font-weight="normal" >1</text>
<text x="475.7" y="214.0" font-size="13.5" text-anchor="middle" fill="#000" font-weight="normal" >2</text>
<text x="534.4" y="214.0" font-size="13.5" text-anchor="middle" fill="#000" font-weight="normal" >3</text>
<text x="593.2" y="214.0" font-size="13.5" text-anchor="middle" fill="#000" font-weight="normal" >4</text>
<text x="652.0" y="214.0" font-size="13.5" text-anchor="middle" fill="#000" font-weight="normal" >5</text>
<text x="355.3" y="206.5" font-size="13.5" text-anchor="end" fill="#000" font-weight="normal" >0</text>
<text x="355.3" y="163.7" font-size="13.5" text-anchor="end" fill="#000" font-weight="normal" >0.5</text>
<text x="355.3" y="121.0" font-size="13.5" text-anchor="end" fill="#000" font-weight="normal" >1</text>
<text x="355.3" y="78.2" font-size="13.5" text-anchor="end" fill="#000" font-weight="normal" >1.5</text>
<text x="355.3" y="35.4" font-size="13.5" text-anchor="end" fill="#000" font-weight="normal" >2</text>
<text x="489.6" y="227.8" font-size="14.2">q(R<tspan font-size="10" dy="5.4">g</tspan><tspan dy="-5.4">)</tspan></text>
<text transform="translate(327.3,152.6) rotate(-90)" font-size="14">(qR<tspan font-size="10.3" dy="4.6">g</tspan><tspan dy="-4.6">)</tspan><tspan font-size="10.3" dy="-7">2</tspan><tspan dy="7">I(q)/I</tspan><tspan font-size="10.3" dy="4.6">0</tspan></text>
<rect x="370.1" y="42.4" width="48.8" height="35" fill="#fff" stroke="#888" stroke-width="0.9"/>
<circle cx="377.7" cy="49.9" r="2.5" fill="#b4b4b4" stroke="#222" stroke-width="0.6"/>
<text x="388.3" y="52.9" font-size="10.6" text-anchor="start" fill="#000" font-weight="normal" >Expt</text>
<line x1="373.00" y1="61.30" x2="383.50" y2="61.30" stroke="#1010ee" stroke-width="1.5" />
<text x="388.3" y="64.9" font-size="10.6" text-anchor="start" fill="#000" font-weight="normal" >REHT</text>
<line x1="373.00" y1="71.30" x2="383.50" y2="71.30" stroke="#ee1111" stroke-width="1.5" />
<text x="388.3" y="74.9" font-size="10.6" text-anchor="start" fill="#000" font-weight="normal" >REST</text>
<rect x="456.2" y="123.8" width="80.9" height="53.1" fill="#fff"/>
<polyline points="474.30,176.90 477.70,166.50 480.50,145.70 482.90,133.50 485.40,148.50 488.80,158.20 494.40,165.20 499.90,168.00 505.50,170.40 511.00,173.50 519.30,175.10 527.70,176.20 536.50,176.60" fill="none" stroke="#ee1111" stroke-width="1.4" stroke-linejoin="miter" />
<polyline points="475.70,176.90 476.14,176.07 476.80,174.79 477.70,172.80 478.40,171.07 479.22,168.93 480.11,166.62 481.02,164.36 481.90,162.40 482.73,160.72 483.55,159.16 484.38,157.75 485.22,156.49 486.10,155.40 487.02,154.47 487.97,153.68 488.94,153.06 489.92,152.62 490.90,152.40 491.86,152.41 492.82,152.64 493.79,153.06 494.78,153.62 495.80,154.30 496.68,154.96 497.59,155.73 498.51,156.59 499.44,157.54 500.37,158.54 501.30,159.60 502.24,160.76 503.21,162.06 504.19,163.42 505.14,164.78 506.05,166.06 506.90,167.20 507.79,168.40 508.58,169.49 509.32,170.47 510.11,171.34 511.00,172.10 511.82,172.62 512.66,173.03 513.54,173.37 514.48,173.66 515.49,173.92 516.60,174.20 517.39,174.39 518.20,174.57 519.04,174.74 519.92,174.90 520.84,175.05 521.79,175.20 522.78,175.34 523.82,175.47 524.90,175.60 525.79,175.70 526.78,175.79 527.84,175.88 528.95,175.97 530.09,176.06 531.22,176.14 532.32,176.21 533.37,176.29 534.34,176.35 535.20,176.41 535.93,176.46 536.50,176.50" fill="none" stroke="#1010ee" stroke-width="1.8" stroke-linejoin="miter" />
<line x1="483.17" y1="176.90" x2="483.17" y2="172.90" stroke="#111" stroke-width="1.0" />
<line x1="483.17" y1="123.80" x2="483.17" y2="127.80" stroke="#111" stroke-width="1.0" />
<line x1="510.13" y1="176.90" x2="510.13" y2="172.90" stroke="#111" stroke-width="1.0" />
<line x1="510.13" y1="123.80" x2="510.13" y2="127.80" stroke="#111" stroke-width="1.0" />
<line x1="469.68" y1="176.90" x2="469.68" y2="174.70" stroke="#111" stroke-width="1.0" />
<line x1="469.68" y1="123.80" x2="469.68" y2="126.00" stroke="#111" stroke-width="1.0" />
<line x1="496.65" y1="176.90" x2="496.65" y2="174.70" stroke="#111" stroke-width="1.0" />
<line x1="496.65" y1="123.80" x2="496.65" y2="126.00" stroke="#111" stroke-width="1.0" />
<line x1="523.62" y1="176.90" x2="523.62" y2="174.70" stroke="#111" stroke-width="1.0" />
<line x1="523.62" y1="123.80" x2="523.62" y2="126.00" stroke="#111" stroke-width="1.0" />
<line x1="456.20" y1="154.95" x2="460.20" y2="154.95" stroke="#111" stroke-width="1.0" />
<line x1="537.10" y1="154.95" x2="533.10" y2="154.95" stroke="#111" stroke-width="1.0" />
<line x1="456.20" y1="133.00" x2="460.20" y2="133.00" stroke="#111" stroke-width="1.0" />
<line x1="537.10" y1="133.00" x2="533.10" y2="133.00" stroke="#111" stroke-width="1.0" />
<line x1="456.20" y1="165.93" x2="458.40" y2="165.93" stroke="#111" stroke-width="1.0" />
<line x1="537.10" y1="165.93" x2="534.90" y2="165.93" stroke="#111" stroke-width="1.0" />
<line x1="456.20" y1="143.98" x2="458.40" y2="143.98" stroke="#111" stroke-width="1.0" />
<line x1="537.10" y1="143.98" x2="534.90" y2="143.98" stroke="#111" stroke-width="1.0" />
<rect x="456.20" y="123.80" width="80.90" height="53.10" fill="none" stroke="#111" stroke-width="1.2"/>
<text x="456.2" y="187.3" font-size="10" text-anchor="middle" fill="#000" font-weight="normal" >0.5</text>
<text x="483.2" y="187.3" font-size="10" text-anchor="middle" fill="#000" font-weight="normal" >1</text>
<text x="510.1" y="187.3" font-size="10" text-anchor="middle" fill="#000" font-weight="normal" >1.5</text>
<text x="537.1" y="187.3" font-size="10" text-anchor="middle" fill="#000" font-weight="normal" >2</text>
<text x="453.5" y="180.5" font-size="10" text-anchor="end" fill="#000" font-weight="normal" >0</text>
<text x="453.5" y="158.5" font-size="10" text-anchor="end" fill="#000" font-weight="normal" >0.05</text>
<text x="453.5" y="136.6" font-size="10" text-anchor="end" fill="#000" font-weight="normal" >0.1</text>
<text x="491.0" y="194.6" font-size="10.8">R<tspan font-size="7.5" dy="2.8">g</tspan></text>
<text transform="translate(426.8,162.4) rotate(-90)" font-size="10.6">P(R<tspan font-size="7.5" dy="2.8">g</tspan><tspan dy="-2.8">)</tspan></text>
<text x="15.2" y="257.6" font-size="19" text-anchor="start" fill="#000" font-weight="bold" >c</text>
<defs><clipPath id="cc"><rect x="39.4" y="274.8" width="237.0" height="171.4"/></clipPath></defs>
<g clip-path="url(#cc)">
<polyline points="39.40,287.46 48.88,296.69 58.36,289.43 67.84,327.67 77.32,329.25 86.80,322.13 96.28,296.69 105.76,301.04 115.24,385.02 124.72,307.23 134.20,319.50 143.68,323.19 153.16,324.37 162.64,288.25 172.12,278.49 181.60,343.36 191.08,352.46 200.56,314.75 210.04,298.00 219.52,304.07 229.00,283.37 238.48,311.06 247.96,404.14 257.44,293.39" fill="none" stroke="#1515ee" stroke-width="1.45" stroke-linejoin="miter" />
<polyline points="39.40,333.60 48.88,316.46 58.36,286.53 67.84,338.35 77.32,340.33 86.80,342.31 96.28,286.53 105.76,284.82 115.24,385.68 124.72,301.04 134.20,339.67 143.68,340.85 153.16,338.88 162.64,300.25 172.12,280.60 181.60,339.67 191.08,340.85 200.56,287.98 210.04,290.62 219.52,318.44 229.00,277.17 238.48,334.92 247.96,385.95 257.44,293.39" fill="none" stroke="#000" stroke-width="1.45" stroke-linejoin="miter" />
<polyline points="39.40,287.46 48.88,298.93 58.36,294.97 67.84,326.22 77.32,318.70 86.80,321.21 96.28,295.37 105.76,299.32 115.24,410.07 124.72,308.03 134.20,334.92 143.68,327.67 153.16,329.65 162.64,276.51 172.12,281.66 181.60,324.24 191.08,313.43 200.56,303.02 210.04,307.10 219.52,350.48 229.00,304.60 238.48,319.10 247.96,434.73 257.44,299.98" fill="none" stroke="#ee1111" stroke-width="1.45" stroke-linejoin="miter" />
</g>
<line x1="86.80" y1="446.20" x2="86.80" y2="440.70" stroke="#111" stroke-width="1.0" />
<line x1="86.80" y1="274.80" x2="86.80" y2="280.30" stroke="#111" stroke-width="1.0" />
<line x1="134.20" y1="446.20" x2="134.20" y2="440.70" stroke="#111" stroke-width="1.0" />
<line x1="134.20" y1="274.80" x2="134.20" y2="280.30" stroke="#111" stroke-width="1.0" />
<line x1="181.60" y1="446.20" x2="181.60" y2="440.70" stroke="#111" stroke-width="1.0" />
<line x1="181.60" y1="274.80" x2="181.60" y2="280.30" stroke="#111" stroke-width="1.0" />
<line x1="229.00" y1="446.20" x2="229.00" y2="440.70" stroke="#111" stroke-width="1.0" />
<line x1="229.00" y1="274.80" x2="229.00" y2="280.30" stroke="#111" stroke-width="1.0" />
<line x1="63.10" y1="446.20" x2="63.10" y2="443.40" stroke="#111" stroke-width="1.0" />
<line x1="63.10" y1="274.80" x2="63.10" y2="277.60" stroke="#111" stroke-width="1.0" />
<line x1="110.50" y1="446.20" x2="110.50" y2="443.40" stroke="#111" stroke-width="1.0" />
<line x1="110.50" y1="274.80" x2="110.50" y2="277.60" stroke="#111" stroke-width="1.0" />
<line x1="157.90" y1="446.20" x2="157.90" y2="443.40" stroke="#111" stroke-width="1.0" />
<line x1="157.90" y1="274.80" x2="157.90" y2="277.60" stroke="#111" stroke-width="1.0" />
<line x1="205.30" y1="446.20" x2="205.30" y2="443.40" stroke="#111" stroke-width="1.0" />
<line x1="205.30" y1="274.80" x2="205.30" y2="277.60" stroke="#111" stroke-width="1.0" />
<line x1="252.70" y1="446.20" x2="252.70" y2="443.40" stroke="#111" stroke-width="1.0" />
<line x1="252.70" y1="274.80" x2="252.70" y2="277.60" stroke="#111" stroke-width="1.0" />
<line x1="39.40" y1="419.83" x2="44.90" y2="419.83" stroke="#111" stroke-width="1.0" />
<line x1="276.40" y1="419.83" x2="270.90" y2="419.83" stroke="#111" stroke-width="1.0" />
<line x1="39.40" y1="393.46" x2="44.90" y2="393.46" stroke="#111" stroke-width="1.0" />
<line x1="276.40" y1="393.46" x2="270.90" y2="393.46" stroke="#111" stroke-width="1.0" />
<line x1="39.40" y1="367.09" x2="44.90" y2="367.09" stroke="#111" stroke-width="1.0" />
<line x1="276.40" y1="367.09" x2="270.90" y2="367.09" stroke="#111" stroke-width="1.0" />
<line x1="39.40" y1="340.72" x2="44.90" y2="340.72" stroke="#111" stroke-width="1.0" />
<line x1="276.40" y1="340.72" x2="270.90" y2="340.72" stroke="#111" stroke-width="1.0" />
<line x1="39.40" y1="314.35" x2="44.90" y2="314.35" stroke="#111" stroke-width="1.0" />
<line x1="276.40" y1="314.35" x2="270.90" y2="314.35" stroke="#111" stroke-width="1.0" />
<line x1="39.40" y1="287.98" x2="44.90" y2="287.98" stroke="#111" stroke-width="1.0" />
<line x1="276.40" y1="287.98" x2="270.90" y2="287.98" stroke="#111" stroke-width="1.0" />
<line x1="39.40" y1="433.02" x2="42.20" y2="433.02" stroke="#111" stroke-width="1.0" />
<line x1="276.40" y1="433.02" x2="273.60" y2="433.02" stroke="#111" stroke-width="1.0" />
<line x1="39.40" y1="406.65" x2="42.20" y2="406.65" stroke="#111" stroke-width="1.0" />
<line x1="276.40" y1="406.65" x2="273.60" y2="406.65" stroke="#111" stroke-width="1.0" />
<line x1="39.40" y1="380.28" x2="42.20" y2="380.28" stroke="#111" stroke-width="1.0" />
<line x1="276.40" y1="380.28" x2="273.60" y2="380.28" stroke="#111" stroke-width="1.0" />
<line x1="39.40" y1="353.91" x2="42.20" y2="353.91" stroke="#111" stroke-width="1.0" />
<line x1="276.40" y1="353.91" x2="273.60" y2="353.91" stroke="#111" stroke-width="1.0" />
<line x1="39.40" y1="327.54" x2="42.20" y2="327.54" stroke="#111" stroke-width="1.0" />
<line x1="276.40" y1="327.54" x2="273.60" y2="327.54" stroke="#111" stroke-width="1.0" />
<line x1="39.40" y1="301.17" x2="42.20" y2="301.17" stroke="#111" stroke-width="1.0" />
<line x1="276.40" y1="301.17" x2="273.60" y2="301.17" stroke="#111" stroke-width="1.0" />
<line x1="39.40" y1="274.80" x2="42.20" y2="274.80" stroke="#111" stroke-width="1.0" />
<line x1="276.40" y1="274.80" x2="273.60" y2="274.80" stroke="#111" stroke-width="1.0" />
<rect x="39.40" y="274.80" width="237.00" height="171.40" fill="none" stroke="#111" stroke-width="1.3"/>
<text x="39.4" y="460.0" font-size="13.5" text-anchor="middle" fill="#000" font-weight="normal" >0</text>
<text x="86.8" y="460.0" font-size="13.5" text-anchor="middle" fill="#000" font-weight="normal" >5</text>
<text x="134.2" y="460.0" font-size="13.5" text-anchor="middle" fill="#000" font-weight="normal" >10</text>
<text x="181.6" y="460.0" font-size="13.5" text-anchor="middle" fill="#000" font-weight="normal" >15</text>
<text x="229.0" y="460.0" font-size="13.5" text-anchor="middle" fill="#000" font-weight="normal" >20</text>
<text x="276.4" y="460.0" font-size="13.5" text-anchor="middle" fill="#000" font-weight="normal" >25</text>
<text x="35.6" y="451.1" font-size="13.5" text-anchor="end" fill="#000" font-weight="normal" >3.4</text>
<text x="35.6" y="424.7" font-size="13.5" text-anchor="end" fill="#000" font-weight="normal" >3.6</text>
<text x="35.6" y="398.4" font-size="13.5" text-anchor="end" fill="#000" font-weight="normal" >3.8</text>
<text x="35.6" y="372.0" font-size="13.5" text-anchor="end" fill="#000" font-weight="normal" >4</text>
<text x="35.6" y="345.6" font-size="13.5" text-anchor="end" fill="#000" font-weight="normal" >4.2</text>
<text x="35.6" y="319.3" font-size="13.5" text-anchor="end" fill="#000" font-weight="normal" >4.4</text>
<text x="35.6" y="292.9" font-size="13.5" text-anchor="end" fill="#000" font-weight="normal" >4.6</text>
<text x="158.5" y="474.3" font-size="13.75" text-anchor="middle" fill="#000" font-weight="normal" >Residue index</text>
<text transform="translate(10.3,361.0) rotate(-90)" font-size="13.7" text-anchor="middle">HA Chemical shift (in ppm)</text>
<rect x="129.1" y="360.6" width="48" height="34.3" fill="#fff" stroke="#888" stroke-width="0.9"/>
<line x1="132.00" y1="367.40" x2="143.00" y2="367.40" stroke="#000" stroke-width="1.5" />
<text x="146.9" y="371.1" font-size="10.9" text-anchor="start" fill="#000" font-weight="normal" >Expt</text>
<line x1="132.00" y1="378.90" x2="143.00" y2="378.90" stroke="#1515ee" stroke-width="1.5" />
<text x="146.9" y="382.5" font-size="10.9" text-anchor="start" fill="#000" font-weight="normal" >REHT</text>
<line x1="132.00" y1="389.10" x2="143.00" y2="389.10" stroke="#ee1111" stroke-width="1.5" />
<text x="146.9" y="393.8" font-size="10.9" text-anchor="start" fill="#000" font-weight="normal" >REST</text>
<text x="335.5" y="258.2" font-size="19" text-anchor="start" fill="#000" font-weight="bold" >d</text>
<defs><linearGradient id="cbar" x1="0" y1="0" x2="0" y2="1"><stop offset="0.0000" stop-color="#800000"/><stop offset="0.0156" stop-color="#8f0000"/><stop offset="0.0312" stop-color="#9f0000"/><stop offset="0.0469" stop-color="#af0000"/><stop offset="0.0625" stop-color="#bf0000"/><stop offset="0.0781" stop-color="#cf0000"/><stop offset="0.0938" stop-color="#df0000"/><stop offset="0.1094" stop-color="#ef0000"/><stop offset="0.1250" stop-color="#ff0000"/><stop offset="0.1406" stop-color="#ff1000"/><stop offset="0.1562" stop-color="#ff2000"/><stop offset="0.1719" stop-color="#ff3000"/><stop offset="0.1875" stop-color="#ff4000"/><stop offset="0.2031" stop-color="#ff5000"/><stop offset="0.2188" stop-color="#ff6000"/><stop offset="0.2344" stop-color="#ff7000"/><stop offset="0.2500" stop-color="#ff8000"/><stop offset="0.2656" stop-color="#ff8f00"/><stop offset="0.2812" stop-color="#ff9f00"/><stop offset="0.2969" stop-color="#ffaf00"/><stop offset="0.3125" stop-color="#ffbf00"/><stop offset="0.3281" stop-color="#ffcf00"/><stop offset="0.3438" stop-color="#ffdf00"/><stop offset="0.3594" stop-color="#ffef00"/><stop offset="0.3750" stop-color="#ffff00"/><stop offset="0.3906" stop-color="#efff10"/><stop offset="0.4062" stop-color="#dfff20"/><stop offset="0.4219" stop-color="#cfff30"/><stop offset="0.4375" stop-color="#bfff40"/><stop offset="0.4531" stop-color="#afff50"/><stop offset="0.4688" stop-color="#9fff60"/><stop offset="0.4844" stop-color="#8fff70"/><stop offset="0.5000" stop-color="#80ff80"/><stop offset="0.5156" stop-color="#70ff8f"/><stop offset="0.5312" stop-color="#60ff9f"/><stop offset="0.5469" stop-color="#50ffaf"/><stop offset="0.5625" stop-color="#40ffbf"/><stop offset="0.5781" stop-color="#30ffcf"/><stop offset="0.5938" stop-color="#20ffdf"/><stop offset="0.6094" stop-color="#10ffef"/><stop offset="0.6250" stop-color="#00ffff"/><stop offset="0.6406" stop-color="#00efff"/><stop offset="0.6562" stop-color="#00dfff"/><stop offset="0.6719" stop-color="#00cfff"/><stop offset="0.6875" stop-color="#00bfff"/><stop offset="0.7031" stop-color="#00afff"/><stop offset="0.7188" stop-color="#009fff"/><stop offset="0.7344" stop-color="#008fff"/><stop offset="0.7500" stop-color="#0080ff"/><stop offset="0.7656" stop-color="#0070ff"/><stop offset="0.7812" stop-color="#0060ff"/><stop offset="0.7969" stop-color="#0050ff"/><stop offset="0.8125" stop-color="#0040ff"/><stop offset="0.8281" stop-color="#0030ff"/><stop offset="0.8438" stop-color="#0020ff"/><stop offset="0.8594" stop-color="#0010ff"/><stop offset="0.8750" stop-color="#0000ff"/><stop offset="0.8906" stop-color="#0000ef"/><stop offset="0.9062" stop-color="#0000df"/><stop offset="0.9219" stop-color="#0000cf"/><stop offset="0.9375" stop-color="#0000bf"/><stop offset="0.9531" stop-color="#0000af"/><stop offset="0.9688" stop-color="#00009f"/><stop offset="0.9844" stop-color="#00008f"/><stop offset="1.0000" stop-color="#000080"/></linearGradient></defs>
<rect x="651.8" y="241.1" width="15.3" height="217.6" fill="url(#cbar)" stroke="#aaa" stroke-width="0.5"/>
<line x1="665.00" y1="458.70" x2="667.10" y2="458.70" stroke="#333" stroke-width="0.6" />
<text x="670.8" y="462.3" font-size="10" text-anchor="start" fill="#333" font-weight="normal" >0</text>
<line x1="665.00" y1="431.50" x2="667.10" y2="431.50" stroke="#333" stroke-width="0.6" />
<text x="670.8" y="435.1" font-size="10" text-anchor="start" fill="#333" font-weight="normal" >0.5</text>
<line x1="665.00" y1="404.30" x2="667.10" y2="404.30" stroke="#333" stroke-width="0.6" />
<text x="670.8" y="407.9" font-size="10" text-anchor="start" fill="#333" font-weight="normal" >1</text>
<line x1="665.00" y1="377.10" x2="667.10" y2="377.10" stroke="#333" stroke-width="0.6" />
<text x="670.8" y="380.7" font-size="10" text-anchor="start" fill="#333" font-weight="normal" >1.5</text>
<line x1="665.00" y1="349.90" x2="667.10" y2="349.90" stroke="#333" stroke-width="0.6" />
<text x="670.8" y="353.5" font-size="10" text-anchor="start" fill="#333" font-weight="normal" >2</text>
<line x1="665.00" y1="322.70" x2="667.10" y2="322.70" stroke="#333" stroke-width="0.6" />
<text x="670.8" y="326.3" font-size="10" text-anchor="start" fill="#333" font-weight="normal" >2.5</text>
<line x1="665.00" y1="295.50" x2="667.10" y2="295.50" stroke="#333" stroke-width="0.6" />
<text x="670.8" y="299.1" font-size="10" text-anchor="start" fill="#333" font-weight="normal" >3</text>
<line x1="665.00" y1="268.30" x2="667.10" y2="268.30" stroke="#333" stroke-width="0.6" />
<text x="670.8" y="271.9" font-size="10" text-anchor="start" fill="#333" font-weight="normal" >3.5</text>
<line x1="665.00" y1="241.10" x2="667.10" y2="241.10" stroke="#333" stroke-width="0.6" />
<text x="670.8" y="244.7" font-size="10" text-anchor="start" fill="#333" font-weight="normal" >4</text>
<line x1="345.90" y1="308.40" x2="345.90" y2="351.80" stroke="#222" stroke-width="1.3" />
<line x1="345.90" y1="351.80" x2="456.80" y2="458.70" stroke="#222" stroke-width="1.3" />
<line x1="456.80" y1="458.70" x2="629.60" y2="392.30" stroke="#222" stroke-width="1.3" />
<line x1="345.90" y1="308.40" x2="342.40" y2="305.00" stroke="#222" stroke-width="1.1" />
<text x="338.8" y="306.9" font-size="10.5" text-anchor="end" fill="#333" font-weight="normal" >4</text>
<line x1="345.90" y1="330.10" x2="342.40" y2="326.70" stroke="#222" stroke-width="1.1" />
<text x="338.8" y="328.6" font-size="10.5" text-anchor="end" fill="#333" font-weight="normal" >2</text>
<line x1="345.90" y1="351.80" x2="342.40" y2="348.40" stroke="#222" stroke-width="1.1" />
<text x="338.8" y="350.3" font-size="10.5" text-anchor="end" fill="#333" font-weight="normal" >0</text>
<line x1="353.90" y1="361.90" x2="349.60" y2="363.50" stroke="#222" stroke-width="1.1" />
<text x="345.5" y="375.3" font-size="11.3" text-anchor="end" fill="#333" font-weight="normal" >2</text>
<line x1="370.77" y1="378.10" x2="366.47" y2="379.70" stroke="#222" stroke-width="1.1" />
<text x="362.4" y="391.5" font-size="11.3" text-anchor="end" fill="#333" font-weight="normal" >1.8</text>
<line x1="387.64" y1="394.30" x2="383.34" y2="395.90" stroke="#222" stroke-width="1.1" />
<text x="379.2" y="407.7" font-size="11.3" text-anchor="end" fill="#333" font-weight="normal" >1.6</text>
<line x1="404.51" y1="410.50" x2="400.21" y2="412.10" stroke="#222" stroke-width="1.1" />
<text x="396.1" y="423.9" font-size="11.3" text-anchor="end" fill="#333" font-weight="normal" >1.4</text>
<line x1="421.38" y1="426.70" x2="417.08" y2="428.30" stroke="#222" stroke-width="1.1" />
<text x="413.0" y="440.1" font-size="11.3" text-anchor="end" fill="#333" font-weight="normal" >1.2</text>
<line x1="438.25" y1="442.90" x2="433.95" y2="444.50" stroke="#222" stroke-width="1.1" />
<text x="429.9" y="456.3" font-size="11.3" text-anchor="end" fill="#333" font-weight="normal" >1</text>
<line x1="455.12" y1="459.10" x2="450.82" y2="460.70" stroke="#222" stroke-width="1.1" />
<text x="446.7" y="472.5" font-size="11.3" text-anchor="end" fill="#333" font-weight="normal" >0.8</text>
<line x1="456.80" y1="458.70" x2="459.70" y2="461.70" stroke="#222" stroke-width="1.1" />
<text x="468.3" y="474.7" font-size="11.3" text-anchor="middle" fill="#333" font-weight="normal" >26</text>
<line x1="477.25" y1="450.85" x2="480.15" y2="453.85" stroke="#222" stroke-width="1.1" />
<text x="488.8" y="466.8" font-size="11.3" text-anchor="middle" fill="#333" font-weight="normal" >28</text>
<line x1="497.70" y1="443.00" x2="500.60" y2="446.00" stroke="#222" stroke-width="1.1" />
<text x="509.2" y="459.0" font-size="11.3" text-anchor="middle" fill="#333" font-weight="normal" >30</text>
<line x1="518.15" y1="435.15" x2="521.05" y2="438.15" stroke="#222" stroke-width="1.1" />
<text x="529.6" y="451.1" font-size="11.3" text-anchor="middle" fill="#333" font-weight="normal" >32</text>
<line x1="538.60" y1="427.30" x2="541.50" y2="430.30" stroke="#222" stroke-width="1.1" />
<text x="550.1" y="443.3" font-size="11.3" text-anchor="middle" fill="#333" font-weight="normal" >34</text>
<line x1="559.05" y1="419.45" x2="561.95" y2="422.45" stroke="#222" stroke-width="1.1" />
<text x="570.5" y="435.4" font-size="11.3" text-anchor="middle" fill="#333" font-weight="normal" >36</text>
<line x1="579.50" y1="411.60" x2="582.40" y2="414.60" stroke="#222" stroke-width="1.1" />
<text x="591.0" y="427.6" font-size="11.3" text-anchor="middle" fill="#333" font-weight="normal" >38</text>
<line x1="599.95" y1="403.75" x2="602.85" y2="406.75" stroke="#222" stroke-width="1.1" />
<text x="611.5" y="419.8" font-size="11.3" text-anchor="middle" fill="#333" font-weight="normal" >40</text>
<line x1="620.40" y1="395.90" x2="623.30" y2="398.90" stroke="#222" stroke-width="1.1" />
<text x="631.9" y="411.9" font-size="11.3" text-anchor="middle" fill="#333" font-weight="normal" >42</text>
<text transform="translate(306.8,355.6) rotate(-90)" font-size="12.8">Free energy</text>
<text transform="translate(322.6,355.6) rotate(-90)" font-size="12.8">(Kcal/mol)</text>
<text transform="translate(351.0,416.5) rotate(44)" font-size="13.4">Rg (nm)</text>
<text transform="translate(530.0,471.5) rotate(-20.9)" font-size="13.2">SASA (nm<tspan font-size="8.5" dy="-4.5">2</tspan><tspan dy="4.5">)</tspan></text>
<path d="M445.6,384.4 L445.8,385.3 L445.8,386.3 L446.1,387.1 L446.6,388.0 L446.5,388.9 L446.2,389.9 L446.3,390.8 L446.5,391.7 L446.6,392.6 L447.0,393.5 L447.2,394.4 L446.9,395.3 L447.1,396.2 L447.6,397.1 L447.6,398.0 L447.4,399.0 L447.3,399.9 L447.0,400.9 L446.9,401.9 L447.4,402.8 L447.6,403.7 L447.4,404.6 L447.6,405.6 L448.0,406.4 L448.3,407.3 L448.6,408.2 L448.8,409.1 L448.5,410.1 L448.4,411.1 L448.9,412.0 L449.2,413.0 L449.3,414.0 L449.6,414.9 L449.9,415.8 L450.2,416.7 L450.8,417.5 L451.4,418.3 L451.3,419.3 L451.2,420.2 L451.5,421.1 L451.6,422.2 L451.8,423.4 L452.3,424.4 L452.6,425.5 L452.7,426.4 L453.4,427.1 L454.2,427.7 L454.7,428.8 L455.2,430.0 L456.1,431.0 L456.9,432.0 L457.7,432.6 L458.6,433.0 L459.2,433.8 L460.0,435.0 L461.2,435.5 L462.7,435.6 L463.9,435.7 L464.8,435.7 L465.8,435.8 L466.8,436.3 L467.8,436.5 L468.9,436.1 L469.9,436.3 L470.8,436.8 L471.7,437.0 L472.8,437.2 L474.1,437.3 L475.2,436.7 L476.3,436.3 L477.4,436.4 L478.3,436.2 L479.1,435.7 L480.0,435.6 L481.0,435.5 L482.3,435.3 L483.7,435.3 L485.0,434.8 L485.7,433.7 L486.3,432.9 L487.2,432.6 L487.9,431.9 L488.5,431.2 L489.2,430.5 L489.7,429.7 L490.3,429.0 L491.3,428.7 L492.2,428.4 L492.8,427.6 L493.4,426.9 L494.1,426.4 L494.7,425.7 L495.4,425.1 L496.2,424.6 L496.7,423.7 L497.2,422.8 L498.1,422.5 L499.0,422.2 L499.8,421.7 L500.6,421.3 L501.4,420.8 L502.1,420.0 L503.0,419.5 L504.1,419.1 L504.6,418.2 L505.0,417.3 L505.6,416.6 L506.3,416.0 L507.0,415.4 L507.9,414.9 L508.6,414.3 L508.9,413.4 L509.6,412.8 L510.6,412.5 L511.1,411.7 L511.6,410.9 L512.1,410.1 L512.5,409.1 L513.0,408.3 L513.9,407.9 L514.6,407.4 L515.0,406.4 L515.7,405.8 L516.6,405.3 L517.4,404.6 L518.2,404.1 L518.9,403.5 L519.3,402.6 L519.7,401.7 L520.6,401.3 L521.4,400.8 L522.0,400.0 L522.7,399.5 L523.5,398.9 L524.1,398.2 L525.2,397.9 L526.2,397.5 L526.5,396.6 L526.9,395.7 L527.6,395.1 L528.2,394.3 L528.8,393.4 L529.5,392.7 L529.9,391.7 L530.2,390.6 L531.1,390.1 L532.1,389.7 L532.6,388.9 L533.2,387.9 L533.8,387.0 L534.1,385.9 L534.6,384.9 L535.4,384.3 L535.6,383.3 L535.5,382.3 L536.2,381.6 L537.2,381.0 L537.9,380.2 L538.8,379.6 L539.5,378.8 L539.6,377.9 L540.1,377.1 L541.1,376.5 L541.4,375.6 L541.3,374.6 L541.5,373.7 L541.8,372.8 L542.1,371.9 L543.0,371.3 L543.6,370.6 L543.4,369.5 L543.7,368.6 L544.4,367.9 L544.7,367.0 L544.8,366.1 L545.0,365.1 L544.7,364.0 L544.6,363.0 L545.5,362.4 L546.2,361.7 L546.3,360.7 L546.7,359.9 L547.4,359.2 L547.9,358.4 L548.6,357.7 L549.3,357.0 L549.1,355.9 L549.0,354.9 L549.7,354.2 L550.3,353.4 L550.6,352.6 L551.2,351.8 L551.6,351.0 L551.8,350.0 L552.6,349.4 L553.6,348.8 L553.6,347.8 L553.4,346.7 L553.6,345.8" fill="none" stroke="#2a48ff" stroke-width="0.65" stroke-linejoin="round"/>
<path d="M442.6,384.8 L442.6,385.7 L442.6,386.7 L442.8,387.6 L442.7,388.5 L442.8,389.4 L443.3,390.3 L443.2,391.2 L442.7,392.2 L443.0,393.0 L443.6,393.9 L443.9,394.7 L444.4,395.6 L444.7,396.5 L444.5,397.5 L444.6,398.4 L445.3,399.2 L445.2,400.2 L444.7,401.2 L444.6,402.2 L444.6,403.2 L444.6,404.1 L445.1,405.0 L445.4,405.8 L445.0,406.8 L445.1,407.7 L445.7,408.6 L445.8,409.5 L445.7,410.5 L445.7,411.4 L445.3,412.6 L445.1,413.8 L445.9,414.8 L446.5,415.7 L446.4,416.7 L446.7,417.6 L447.3,418.4 L447.7,419.2 L448.3,420.0 L448.9,420.8 L448.7,421.9 L448.5,423.3 L449.1,424.4 L449.9,425.5 L450.3,426.7 L450.8,427.4 L451.2,428.3 L451.4,429.2 L452.5,430.2 L453.7,431.2 L454.5,432.5 L455.3,433.9 L456.0,434.7 L456.6,435.4 L457.3,436.3 L458.7,437.1 L460.0,438.2 L461.3,439.3 L462.9,439.4 L463.9,439.0 L465.0,439.1 L466.1,439.5 L467.3,439.6 L468.5,440.1 L469.6,440.2 L470.6,439.8 L471.5,439.9 L472.8,440.6 L474.3,440.6 L475.7,440.0 L477.0,439.4 L477.9,438.7 L478.8,438.2 L479.8,438.5 L480.7,438.4 L481.6,437.7 L483.1,437.4 L484.7,437.3 L486.2,436.6 L487.5,436.0 L488.4,435.6 L488.8,434.7 L489.3,433.8 L490.4,433.6 L491.2,433.1 L491.8,432.2 L492.5,431.7 L493.3,431.2 L494.0,430.6 L495.0,430.4 L496.1,430.2 L496.5,429.3 L496.9,428.3 L497.6,427.8 L498.3,427.1 L498.8,426.3 L499.5,425.7 L500.0,424.8 L500.4,423.9 L501.4,423.6 L502.5,423.6 L503.1,422.9 L503.9,422.1 L504.8,421.5 L505.4,420.6 L506.2,419.8 L507.2,419.5 L507.6,418.6 L507.8,417.5 L508.6,417.0 L509.7,416.8 L510.5,416.2 L511.4,415.9 L512.2,415.4 L512.6,414.5 L513.3,413.9 L514.3,413.6 L514.8,412.8 L515.0,411.7 L515.5,410.9 L516.1,410.2 L516.6,409.4 L517.7,409.0 L518.5,408.4 L518.8,407.3 L519.5,406.5 L520.5,406.1 L521.2,405.5 L521.7,404.7 L522.3,404.0 L522.6,403.0 L523.0,402.2 L524.2,401.9 L525.2,401.6 L525.6,400.7 L526.4,400.2 L527.5,399.9 L528.3,399.4 L529.4,399.1 L530.5,398.8 L530.7,397.8 L531.1,396.7 L532.2,396.1 L533.3,395.4 L533.9,394.3 L534.7,393.6 L535.3,392.9 L535.7,392.1 L536.9,391.7 L538.4,391.1 L538.9,389.8 L539.0,388.3 L539.6,387.2 L539.8,386.3 L540.1,385.4 L540.9,384.7 L541.1,383.8 L540.9,382.6 L541.9,382.0 L543.3,381.5 L544.0,380.8 L544.5,380.0 L545.1,379.2 L545.2,378.3 L545.7,377.5 L546.9,377.0 L547.1,376.1 L546.6,374.9 L547.2,374.1 L548.1,373.5 L548.7,372.8 L549.8,372.2 L550.5,371.5 L550.2,370.4 L550.4,369.5 L551.4,368.9 L551.6,368.0 L551.2,366.8 L551.3,365.8 L551.2,364.8 L551.2,363.8 L552.3,363.3 L553.2,362.7 L552.9,361.5 L553.0,360.6 L553.8,359.9 L554.2,359.1 L554.4,358.2 L554.8,357.4 L554.4,356.2 L554.1,355.0 L555.1,354.5 L556.2,353.9 L556.4,353.0 L556.9,352.3 L557.7,351.6 L558.1,350.8 L559.0,350.1 L560.0,349.6 L559.8,348.5" fill="none" stroke="#3a8cff" stroke-width="0.65" stroke-linejoin="round"/>
<path d="M440.9,385.0 L440.6,386.0 L440.5,386.9 L440.0,387.9 L439.8,388.9 L440.5,389.7 L440.9,390.6 L440.5,391.5 L440.8,392.4 L441.5,393.2 L441.8,394.1 L442.3,394.9 L442.7,395.8 L442.1,396.8 L441.8,397.8 L442.4,398.6 L442.7,399.5 L442.5,400.5 L442.6,401.4 L442.8,402.4 L442.9,403.4 L443.6,404.2 L444.3,405.1 L443.9,406.1 L443.4,407.1 L443.6,408.0 L443.5,408.9 L443.3,409.8 L443.5,410.8 L443.2,411.8 L442.8,413.1 L443.5,414.1 L444.5,415.1 L444.7,416.2 L444.8,417.1 L445.1,418.0 L445.1,418.9 L445.3,419.8 L446.0,420.6 L445.9,421.5 L445.5,422.7 L446.2,424.0 L447.1,425.2 L448.0,426.3 L449.0,427.3 L449.6,428.0 L449.6,429.1 L450.1,429.9 L451.4,430.9 L452.0,432.5 L452.7,434.2 L453.9,435.6 L454.6,436.5 L455.2,437.2 L456.4,437.4 L458.0,438.3 L459.2,439.7 L460.9,440.4 L462.6,440.4 L463.5,440.7 L464.5,441.2 L465.7,441.6 L466.9,442.5 L468.2,443.1 L469.4,442.6 L470.4,442.2 L471.3,442.5 L472.7,442.5 L474.3,442.1 L475.9,441.8 L477.4,441.0 L478.3,440.3 L479.4,440.6 L480.4,441.0 L481.2,440.5 L482.2,440.0 L484.0,439.7 L485.6,439.0 L487.1,438.0 L488.5,437.3 L488.9,436.3 L489.3,435.2 L490.3,435.0 L491.5,434.9 L492.3,434.4 L493.3,434.1 L494.1,433.7 L494.7,432.9 L495.6,432.5 L496.7,432.5 L497.2,431.6 L497.4,430.4 L498.0,429.7 L498.7,429.1 L499.4,428.5 L500.4,428.2 L501.1,427.7 L501.4,426.6 L502.2,426.1 L503.3,426.1 L504.0,425.4 L504.4,424.5 L505.1,423.6 L505.6,422.4 L506.2,421.4 L507.4,421.0 L508.2,420.5 L508.5,419.5 L509.3,419.0 L510.4,418.8 L511.2,418.3 L512.1,417.9 L513.0,417.5 L513.2,416.4 L513.5,415.4 L514.5,415.1 L515.3,414.6 L515.7,413.7 L516.4,413.1 L517.1,412.5 L517.7,411.8 L518.8,411.6 L520.0,411.3 L520.3,410.1 L520.6,408.9 L521.3,408.1 L521.9,407.3 L522.4,406.5 L523.2,406.0 L523.6,405.1 L523.9,404.1 L525.0,403.9 L526.4,403.9 L527.1,403.2 L527.8,402.6 L528.6,402.0 L529.1,401.2 L529.9,400.7 L531.1,400.5 L531.5,399.7 L531.7,398.6 L532.8,398.1 L534.3,397.7 L535.5,397.0 L536.8,396.4 L537.8,395.7 L538.1,394.8 L538.8,394.2 L540.2,393.9 L540.9,392.6 L541.1,391.0 L541.6,389.6 L542.1,388.4 L542.6,387.6 L543.9,387.2 L544.8,386.6 L544.6,385.4 L545.1,384.5 L546.4,384.0 L547.0,383.1 L547.3,382.2 L547.7,381.3 L547.4,380.2 L547.3,379.2 L548.8,378.8 L549.9,378.3 L549.9,377.3 L550.5,376.5 L551.4,375.9 L552.0,375.2 L553.0,374.6 L554.0,374.0 L553.5,372.8 L553.0,371.6 L553.8,370.9 L554.4,370.2 L554.6,369.3 L555.1,368.5 L555.4,367.6 L555.4,366.6 L556.4,366.1 L557.7,365.6 L557.5,364.5 L556.9,363.3 L557.1,362.3 L557.0,361.3 L557.0,360.3 L557.8,359.6 L557.7,358.6 L557.2,357.4 L558.1,356.8 L559.6,356.4 L560.1,355.6 L560.5,354.8 L561.0,354.0 L560.7,352.9 L561.0,352.0 L562.2,351.5 L562.4,350.6 L561.9,349.4" fill="none" stroke="#30d8e8" stroke-width="0.65" stroke-linejoin="round"/>
<path d="M439.5,385.2 L439.6,386.1 L440.6,386.9 L440.8,387.8 L440.2,388.8 L439.9,389.8 L439.7,390.7 L439.4,391.7 L440.0,392.5 L440.5,393.3 L440.0,394.3 L439.8,395.2 L440.5,396.1 L440.8,397.0 L440.7,397.9 L440.8,398.8 L440.2,399.8 L439.6,400.8 L440.1,401.8 L440.7,402.7 L440.5,403.7 L440.5,404.7 L441.1,405.5 L441.5,406.4 L442.1,407.2 L443.0,408.0 L442.8,409.0 L442.2,410.0 L442.5,410.9 L442.9,411.8 L442.8,413.1 L443.1,414.2 L443.3,415.4 L443.1,416.6 L443.7,417.4 L444.9,418.0 L445.0,418.9 L444.6,420.0 L444.7,420.9 L444.7,421.9 L444.6,422.9 L445.1,424.3 L445.3,425.9 L445.1,427.6 L445.8,429.0 L447.0,429.4 L447.6,430.1 L448.1,430.9 L449.2,432.3 L449.9,434.1 L451.2,435.7 L453.1,436.5 L454.0,437.1 L454.2,438.3 L455.0,439.2 L456.9,440.1 L458.6,440.9 L460.7,441.0 L462.5,440.9 L463.3,441.5 L464.2,442.1 L465.7,441.8 L467.0,441.9 L468.2,442.6 L469.4,443.1 L470.3,443.6 L471.1,444.3 L472.7,444.0 L474.4,443.4 L476.2,443.7 L478.0,443.6 L479.0,443.0 L479.9,442.6 L480.8,442.4 L481.6,442.0 L482.9,442.3 L485.1,442.6 L486.9,441.6 L488.3,439.9 L489.7,438.9 L490.4,438.3 L490.9,437.4 L491.7,436.8 L492.2,435.8 L492.4,434.5 L493.2,434.0 L494.5,434.1 L495.2,433.6 L495.9,432.9 L496.7,432.5 L497.3,431.8 L498.0,431.2 L499.1,431.1 L499.7,430.4 L499.9,429.1 L500.5,428.5 L501.6,428.3 L502.5,427.9 L503.5,427.7 L504.5,427.5 L505.0,426.6 L505.7,426.0 L507.1,425.9 L508.1,425.2 L508.5,423.8 L509.1,422.7 L509.5,421.8 L509.9,420.9 L510.9,420.6 L511.8,420.2 L512.0,419.1 L512.5,418.2 L513.5,418.0 L514.3,417.5 L514.9,416.7 L515.5,416.1 L515.7,415.0 L515.8,413.8 L516.7,413.4 L517.7,413.1 L518.1,412.2 L518.7,411.5 L519.8,411.1 L520.7,410.5 L521.8,410.0 L523.2,409.7 L523.7,408.8 L523.8,407.7 L524.8,407.3 L525.8,407.0 L526.4,406.3 L527.2,405.7 L527.9,405.2 L528.4,404.3 L529.5,404.0 L531.1,404.1 L531.8,403.5 L532.0,402.5 L532.6,401.8 L533.2,401.1 L533.6,400.3 L534.7,399.7 L535.5,398.6 L535.6,397.0 L536.5,396.1 L538.1,395.9 L539.1,395.5 L539.9,394.9 L541.0,394.4 L541.7,393.0 L542.5,391.8 L544.2,390.9 L545.2,389.8 L544.9,388.6 L545.3,387.8 L546.4,387.3 L547.2,386.6 L548.7,386.1 L550.2,385.7 L550.3,384.6 L550.6,383.6 L552.1,383.2 L552.9,382.6 L552.7,381.5 L552.9,380.6 L552.7,379.5 L552.3,378.3 L553.2,377.7 L554.4,377.2 L554.2,376.1 L554.1,375.1 L555.0,374.5 L555.5,373.7 L555.9,372.8 L556.5,372.1 L556.1,370.9 L555.2,369.5 L555.9,368.8 L557.2,368.4 L557.4,367.5 L557.9,366.7 L558.8,366.1 L559.2,365.2 L560.2,364.7 L561.8,364.4 L561.9,363.4 L561.1,362.0 L561.4,361.2 L561.9,360.4 L562.0,359.4 L562.6,358.7 L563.0,357.9 L562.5,356.7 L563.1,355.9 L564.7,355.6 L565.2,354.8 L564.8,353.6 L564.8,352.6 L564.6,351.5 L564.3,350.4" fill="none" stroke="#70f0a0" stroke-width="0.65" stroke-linejoin="round"/>
<path d="M436.6,385.6 L436.7,386.5 L436.8,387.4 L437.5,388.2 L438.6,389.0 L438.5,390.0 L438.0,390.9 L438.6,391.8 L439.0,392.6 L438.9,393.5 L439.1,394.4 L438.9,395.3 L438.4,396.3 L439.0,397.1 L440.2,397.9 L440.4,398.8 L440.2,399.8 L440.6,400.7 L440.6,401.7 L440.6,402.7 L441.1,403.6 L440.7,404.6 L439.6,405.7 L439.5,406.7 L440.1,407.5 L440.2,408.4 L440.4,409.3 L440.7,410.2 L440.4,411.2 L440.5,412.2 L441.5,413.3 L441.8,414.5 L441.2,415.9 L441.2,417.0 L441.4,417.9 L441.5,418.9 L442.3,419.6 L443.1,420.4 L442.9,421.4 L443.2,422.2 L444.4,423.0 L445.3,424.3 L445.5,425.8 L446.2,427.2 L446.3,428.7 L446.1,429.8 L446.9,430.4 L447.7,431.1 L448.0,433.0 L448.9,435.0 L450.6,436.2 L452.2,437.5 L453.3,438.0 L454.3,438.3 L454.8,439.6 L455.9,441.7 L457.8,442.7 L460.0,443.1 L461.6,444.1 L462.4,444.5 L463.5,444.8 L464.9,445.4 L466.5,445.0 L468.1,444.0 L469.3,444.1 L470.2,444.8 L471.1,444.6 L472.7,444.6 L474.5,444.8 L476.3,444.3 L478.1,444.0 L479.4,444.5 L480.2,444.1 L480.9,442.8 L481.7,442.4 L482.8,442.2 L484.7,441.6 L486.7,441.2 L488.6,440.4 L489.7,438.9 L490.6,438.6 L492.1,439.0 L493.2,438.7 L493.8,437.8 L494.5,437.2 L495.0,436.3 L495.5,435.4 L496.5,435.2 L497.4,434.8 L497.6,433.6 L498.2,432.8 L499.3,432.7 L500.2,432.4 L501.0,431.9 L501.8,431.5 L502.1,430.4 L502.3,429.1 L503.2,428.8 L504.0,428.4 L504.2,427.2 L504.7,426.3 L505.5,425.8 L506.3,425.0 L507.7,424.7 L509.2,424.6 L509.9,423.5 L510.2,422.5 L511.1,422.1 L512.0,421.7 L512.5,420.9 L513.2,420.3 L513.7,419.5 L513.9,418.4 L514.9,418.1 L516.3,418.2 L517.0,417.6 L517.5,416.8 L518.3,416.3 L518.9,415.6 L519.5,414.8 L520.4,414.4 L520.7,413.5 L520.5,411.8 L521.1,410.9 L522.2,410.4 L522.9,409.5 L523.8,408.9 L524.7,408.5 L525.2,407.7 L525.9,407.1 L527.4,407.2 L528.3,406.7 L528.3,405.5 L528.9,404.8 L529.7,404.2 L530.4,403.6 L531.7,403.5 L533.0,403.4 L533.5,402.5 L534.3,402.0 L536.0,402.3 L537.4,401.9 L538.4,400.8 L539.4,399.9 L539.9,398.5 L540.1,397.2 L541.3,396.9 L542.5,396.6 L542.6,395.5 L543.3,394.1 L544.9,393.1 L546.0,391.8 L547.3,390.7 L548.4,390.3 L548.3,389.2 L547.7,387.9 L548.5,387.2 L549.6,386.5 L549.7,385.4 L550.2,384.5 L550.9,383.7 L551.2,382.9 L552.7,382.5 L554.9,382.4 L555.6,381.7 L555.4,380.6 L556.0,379.9 L556.6,379.2 L556.8,378.2 L557.5,377.6 L557.7,376.6 L557.0,375.3 L557.7,374.6 L559.5,374.4 L560.2,373.7 L560.3,372.7 L560.8,372.0 L560.6,370.9 L560.6,369.8 L561.5,369.3 L561.5,368.3 L560.2,366.7 L560.0,365.6 L560.8,364.9 L561.3,364.1 L562.1,363.5 L563.0,362.9 L562.7,361.7 L562.7,360.8 L564.2,360.4 L564.9,359.7 L564.4,358.5 L564.4,357.5 L564.5,356.5 L564.6,355.5 L565.9,355.1 L567.5,354.8 L567.4,353.7 L567.5,352.8 L569.0,352.4" fill="none" stroke="#d8e850" stroke-width="0.65" stroke-linejoin="round"/>
<path d="M437.3,385.5 L437.8,386.3 L437.6,387.3 L437.6,388.2 L437.4,389.2 L437.0,390.1 L437.7,391.0 L438.1,391.8 L437.4,392.8 L437.2,393.7 L438.0,394.5 L438.4,395.4 L438.7,396.3 L439.0,397.1 L438.4,398.1 L437.5,399.2 L437.9,400.1 L438.2,401.0 L437.5,402.1 L437.3,403.1 L437.5,404.1 L437.5,405.1 L438.3,405.9 L439.5,406.7 L439.4,407.6 L438.8,408.6 L439.4,409.5 L439.8,410.3 L439.7,411.3 L440.0,412.3 L439.9,413.6 L439.5,414.9 L440.3,416.1 L441.7,416.9 L442.1,417.8 L442.1,418.7 L442.5,419.6 L442.6,420.5 L442.6,421.4 L443.2,422.2 L443.0,423.3 L442.2,425.3 L442.4,427.0 L443.6,428.3 L444.3,429.7 L444.9,430.5 L445.5,431.2 L445.5,432.2 L446.3,434.1 L448.2,435.5 L449.8,437.0 L450.8,439.2 L451.5,440.2 L452.2,440.8 L453.1,441.7 L455.4,442.5 L457.6,443.0 L459.6,444.2 L461.4,444.7 L462.6,443.9 L463.8,443.7 L465.2,444.3 L466.6,444.5 L467.9,445.3 L469.1,446.2 L470.1,445.8 L471.0,445.3 L472.6,446.1 L474.6,446.5 L476.5,445.9 L478.4,445.3 L479.5,444.8 L480.2,444.1 L481.3,444.6 L482.5,445.5 L483.6,445.1 L485.7,444.2 L488.0,443.8 L490.1,442.6 L491.6,441.4 L492.5,441.1 L492.9,440.0 L492.9,438.4 L493.7,437.7 L494.8,437.6 L495.5,436.9 L496.1,436.2 L497.0,435.7 L497.4,434.9 L498.2,434.4 L499.5,434.4 L500.0,433.7 L500.0,432.2 L500.6,431.4 L501.4,430.9 L502.0,430.3 L503.0,430.1 L504.0,429.8 L504.4,428.9 L505.3,428.5 L506.8,428.9 L507.8,428.7 L508.6,427.6 L509.5,426.7 L510.1,425.6 L510.7,424.3 L511.8,424.0 L512.7,423.6 L512.7,422.4 L513.2,421.6 L514.3,421.4 L515.2,420.9 L515.9,420.4 L516.8,420.0 L516.9,418.7 L516.8,417.4 L517.7,417.0 L518.5,416.5 L518.6,415.3 L519.0,414.3 L519.6,413.7 L520.2,413.0 L521.5,412.7 L523.0,412.7 L523.6,411.6 L523.9,410.3 L525.0,409.9 L526.0,409.6 L526.7,409.0 L527.6,408.6 L528.3,407.9 L528.5,406.9 L529.8,406.8 L531.6,407.1 L532.6,406.7 L533.2,406.0 L534.2,405.6 L534.9,405.0 L535.6,404.4 L536.8,404.2 L537.2,403.3 L537.0,401.5 L537.8,400.4 L539.4,399.9 L540.5,398.9 L541.5,398.2 L542.6,397.8 L542.8,396.8 L543.5,396.1 L545.6,395.5 L546.9,394.2 L546.8,392.3 L547.4,390.8 L548.1,390.1 L548.6,389.3 L550.2,389.0 L551.8,388.7 L552.0,387.6 L552.7,386.8 L554.8,386.5 L556.2,386.0 L556.7,385.2 L557.4,384.5 L557.3,383.5 L556.9,382.3 L558.1,381.8 L559.2,381.3 L558.7,380.1 L558.6,379.0 L559.5,378.4 L560.0,377.6 L560.7,376.9 L561.7,376.4 L561.1,375.1 L559.9,373.5 L560.3,372.7 L561.1,372.1 L560.8,371.0 L561.0,370.0 L561.4,369.2 L561.4,368.2 L562.6,367.7 L564.8,367.6 L565.2,366.8 L564.7,365.6 L565.3,364.8 L565.8,364.1 L565.9,363.1 L566.8,362.5 L567.0,361.6 L566.2,360.2 L566.9,359.5 L568.9,359.4 L569.6,358.7 L569.8,357.8 L570.3,357.0 L570.0,355.9 L569.8,354.8 L570.8,354.2 L570.9,353.2" fill="none" stroke="#ffb050" stroke-width="0.65" stroke-linejoin="round"/>
<path d="M435.8,385.6 L434.7,386.7 L433.8,387.8 L434.4,388.6 L434.9,389.5 L434.9,390.4 L435.3,391.3 L435.4,392.2 L435.1,393.1 L436.0,393.9 L436.9,394.6 L436.3,395.6 L435.6,396.6 L435.8,397.5 L435.9,398.4 L436.2,399.3 L437.2,400.1 L437.4,401.1 L436.9,402.1 L437.8,403.0 L439.0,403.9 L439.0,404.9 L438.8,405.8 L438.6,406.8 L437.8,407.8 L437.7,408.8 L438.5,409.6 L438.4,410.5 L437.6,411.6 L437.9,412.6 L438.5,413.8 L438.9,415.1 L439.6,416.2 L439.9,417.4 L438.9,418.6 L438.7,419.6 L439.5,420.3 L439.6,421.2 L439.4,422.2 L439.7,423.1 L440.0,424.1 L440.6,425.8 L442.4,427.0 L443.9,428.2 L444.0,429.9 L444.2,430.8 L445.0,431.5 L445.3,432.3 L446.2,434.1 L447.6,436.0 L448.6,438.2 L450.0,440.2 L451.5,440.2 L452.8,440.2 L453.5,441.2 L455.3,442.6 L457.2,443.9 L459.2,445.2 L461.2,445.7 L462.1,445.6 L463.0,447.0 L464.3,448.5 L466.0,448.5 L467.6,448.3 L469.0,448.2 L469.9,447.6 L470.9,447.7 L472.6,448.4 L474.7,447.9 L476.6,446.7 L478.7,446.7 L480.0,447.0 L480.9,446.9 L481.9,446.9 L482.7,446.4 L483.6,445.0 L485.7,444.2 L488.1,443.9 L489.8,442.3 L490.9,440.5 L491.7,440.0 L492.5,439.5 L493.5,439.2 L495.1,439.5 L496.2,439.3 L496.5,438.1 L497.2,437.5 L498.3,437.5 L499.0,436.8 L499.6,436.1 L500.3,435.5 L500.6,434.4 L501.1,433.6 L502.6,433.9 L503.8,433.9 L504.2,432.9 L504.8,432.3 L505.6,431.8 L506.1,431.0 L506.9,430.5 L507.7,429.9 L507.6,428.4 L507.9,426.8 L509.2,426.4 L510.3,425.8 L511.2,424.8 L512.1,424.4 L512.7,423.7 L513.1,422.8 L514.2,422.6 L515.5,422.6 L515.6,421.4 L515.7,420.2 L516.4,419.6 L517.1,419.0 L517.9,418.5 L519.2,418.5 L519.9,417.8 L520.1,416.8 L521.3,416.7 L522.7,416.8 L523.3,416.0 L523.8,415.1 L524.4,414.0 L524.5,412.5 L525.1,411.4 L526.4,411.2 L527.1,410.6 L527.2,409.5 L528.2,409.1 L529.4,408.9 L530.3,408.5 L531.6,408.3 L532.5,407.8 L532.3,406.4 L532.7,405.6 L534.1,405.5 L534.9,404.9 L535.3,404.1 L536.2,403.7 L537.1,403.2 L538.3,402.6 L540.7,402.6 L542.7,402.2 L543.2,400.7 L543.9,399.8 L545.1,399.5 L545.8,398.8 L546.6,398.1 L548.1,396.9 L548.5,395.1 L549.0,393.3 L551.2,392.6 L552.9,392.3 L553.3,391.5 L553.9,390.8 L554.6,390.0 L554.6,388.8 L555.5,388.0 L556.7,387.3 L556.1,385.9 L555.3,384.6 L556.4,384.1 L557.7,383.6 L558.6,383.0 L560.1,382.7 L560.5,381.8 L560.1,380.6 L561.2,380.1 L562.8,379.8 L562.6,378.7 L562.1,377.5 L562.4,376.6 L562.4,375.6 L563.1,374.9 L565.0,374.7 L565.7,374.0 L565.2,372.8 L566.1,372.2 L567.5,371.8 L567.8,370.9 L568.0,370.0 L567.9,369.0 L566.6,367.4 L566.2,366.3 L567.6,365.9 L568.0,365.0 L567.4,363.8 L567.8,362.9 L568.5,362.2 L568.9,361.4 L570.2,361.0 L570.9,360.3 L569.7,358.7 L569.1,357.5 L570.1,356.9 L570.6,356.1 L570.7,355.2 L571.6,354.5 L571.8,353.6" fill="none" stroke="#ff7850" stroke-width="0.65" stroke-linejoin="round"/>
<path d="M432.9,386.0 L433.0,386.9 L432.2,388.0 L432.1,388.9 L433.7,389.6 L434.6,390.4 L434.6,391.4 L435.0,392.2 L435.3,393.1 L435.2,394.0 L435.9,394.8 L436.3,395.6 L435.3,396.6 L434.5,397.6 L435.2,398.5 L435.6,399.4 L435.8,400.3 L436.5,401.2 L436.3,402.2 L435.7,403.3 L436.4,404.2 L437.1,405.1 L436.2,406.2 L435.4,407.2 L435.2,408.2 L434.8,409.2 L435.1,410.0 L436.2,410.8 L436.1,411.8 L435.6,412.9 L436.6,414.1 L437.7,415.3 L438.0,416.6 L438.4,417.7 L438.4,418.7 L437.7,419.8 L438.0,420.7 L439.3,421.3 L439.5,422.2 L439.3,423.2 L440.0,424.1 L440.8,425.7 L441.6,427.3 L443.1,428.5 L443.8,430.0 L443.0,431.5 L442.9,432.5 L443.7,433.2 L444.4,435.3 L445.4,437.7 L447.1,439.6 L448.7,441.7 L449.6,442.6 L451.1,442.2 L452.4,442.6 L454.0,444.8 L456.0,446.4 L458.5,447.2 L460.5,448.2 L461.5,448.2 L462.7,448.2 L464.1,449.4 L465.7,450.1 L467.5,449.0 L469.0,448.2 L469.9,448.1 L470.8,447.8 L472.6,448.0 L474.7,448.6 L476.8,447.9 L478.7,446.9 L480.2,447.6 L481.3,448.3 L482.1,447.8 L483.0,447.5 L484.1,446.9 L486.2,445.5 L488.6,444.9 L491.2,444.4 L492.7,442.8 L493.1,441.8 L494.3,441.8 L495.5,441.7 L496.6,441.4 L497.8,441.3 L498.5,440.6 L498.4,439.0 L499.0,438.3 L500.1,438.2 L500.5,437.2 L500.7,436.0 L501.4,435.4 L501.9,434.5 L502.7,434.0 L504.1,434.3 L505.0,433.9 L505.0,432.5 L505.6,431.8 L506.5,431.4 L507.0,430.6 L507.7,429.9 L508.4,429.4 L508.8,427.9 L509.7,426.9 L511.6,427.1 L513.1,426.7 L513.7,426.0 L514.5,425.5 L515.3,425.0 L515.8,424.2 L516.9,424.0 L517.8,423.6 L517.6,422.1 L517.7,420.9 L518.7,420.6 L519.6,420.2 L520.3,419.6 L521.4,419.3 L521.8,418.5 L521.9,417.3 L523.0,417.1 L524.0,416.8 L524.1,415.3 L524.3,413.8 L524.8,412.7 L525.2,411.5 L526.1,410.9 L527.7,411.1 L528.5,410.5 L528.8,409.6 L530.3,409.7 L531.9,409.8 L532.8,409.4 L533.8,409.0 L534.5,408.3 L534.5,407.1 L535.5,406.7 L537.3,407.0 L538.2,406.6 L538.6,405.7 L539.9,405.6 L541.4,405.2 L542.9,404.4 L545.0,403.9 L546.3,402.8 L545.8,401.1 L546.1,400.1 L547.3,399.9 L547.9,399.0 L548.7,397.3 L550.0,395.9 L550.5,394.1 L551.5,392.7 L553.8,392.7 L555.2,392.4 L555.0,391.3 L555.3,390.3 L556.2,389.5 L556.6,388.5 L557.7,387.8 L559.0,387.2 L558.7,386.0 L558.9,385.1 L561.3,385.2 L563.4,385.1 L564.3,384.4 L565.2,383.8 L565.4,382.9 L565.0,381.7 L566.0,381.2 L567.1,380.7 L566.1,379.2 L565.2,377.8 L565.8,377.1 L566.4,376.3 L567.1,375.6 L568.5,375.3 L568.5,374.2 L567.5,372.8 L568.3,372.1 L569.4,371.6 L568.8,370.4 L568.2,369.1 L568.0,368.0 L567.4,366.8 L568.0,366.0 L570.1,365.9 L570.7,365.2 L570.3,364.0 L571.4,363.5 L572.7,363.0 L573.3,362.3 L574.1,361.6 L574.4,360.7 L573.1,359.2 L573.1,358.2 L575.0,358.0 L575.7,357.3 L575.6,356.3 L576.4,355.6" fill="none" stroke="#f05050" stroke-width="0.65" stroke-linejoin="round"/>
<path d="M432.5,386.1 L432.1,387.0 L432.1,388.0 L431.7,389.0 L431.8,389.9 L432.0,390.8 L431.1,391.8 L431.0,392.7 L432.6,393.4 L433.3,394.2 L433.1,395.1 L433.3,395.9 L433.1,396.9 L432.7,397.9 L433.4,398.7 L434.1,399.5 L433.2,400.6 L432.9,401.6 L433.9,402.5 L434.6,403.4 L435.4,404.4 L436.3,405.2 L436.0,406.2 L435.3,407.2 L436.0,408.1 L436.5,408.9 L435.7,410.0 L435.0,411.0 L434.9,411.9 L434.5,413.1 L435.1,414.4 L436.5,415.6 L436.4,417.0 L435.9,418.4 L436.4,419.2 L437.0,420.0 L436.9,421.0 L437.1,421.9 L436.8,422.9 L435.8,424.1 L436.3,425.1 L438.2,426.6 L439.0,428.3 L439.7,430.1 L441.0,431.5 L441.6,432.2 L442.3,432.9 L443.6,433.2 L444.6,435.2 L444.7,438.2 L446.3,440.4 L448.7,441.7 L449.6,442.6 L450.4,443.1 L451.6,443.6 L453.4,445.6 L455.7,447.1 L458.6,446.9 L460.8,447.3 L461.3,448.7 L462.3,449.7 L463.9,450.5 L465.5,451.4 L467.3,451.3 L468.7,451.0 L469.6,451.9 L470.5,452.3 L472.5,451.2 L474.8,450.5 L477.1,450.2 L479.3,449.4 L480.6,449.5 L481.7,450.1 L482.5,449.3 L483.2,448.3 L484.6,448.7 L487.3,448.3 L489.5,446.8 L491.6,445.0 L493.0,443.2 L493.1,441.8 L494.1,441.5 L495.6,441.9 L496.4,441.1 L496.9,440.2 L498.2,440.2 L499.2,440.0 L500.2,439.7 L501.4,439.8 L501.9,439.0 L501.8,437.3 L502.5,436.7 L503.7,436.8 L504.4,436.1 L505.0,435.4 L505.9,435.1 L506.4,434.2 L507.3,433.8 L508.8,434.2 L509.5,433.7 L509.3,432.0 L509.7,431.0 L510.7,430.1 L511.3,428.8 L512.4,427.9 L513.4,427.0 L513.3,425.6 L513.8,424.8 L515.5,425.2 L516.6,425.0 L517.1,424.2 L517.8,423.6 L518.2,422.7 L518.5,421.6 L519.6,421.5 L520.6,421.2 L520.6,419.9 L520.9,418.9 L522.2,418.9 L523.3,418.7 L524.4,418.5 L525.6,418.4 L526.1,417.3 L526.4,415.8 L527.6,415.2 L528.8,414.6 L528.8,413.3 L529.2,412.3 L529.8,411.7 L530.3,410.9 L531.5,410.7 L533.4,411.1 L534.0,410.4 L534.2,409.3 L535.4,409.1 L536.6,408.8 L537.2,408.1 L538.1,407.7 L538.5,406.8 L538.3,405.5 L539.4,405.2 L541.8,405.5 L543.4,404.7 L544.5,403.6 L546.4,402.9 L547.6,402.3 L548.8,401.9 L550.7,402.1 L551.6,401.4 L551.5,399.0 L552.5,397.3 L554.4,396.1 L555.6,394.6 L556.6,394.0 L557.8,393.6 L557.9,392.6 L558.6,391.8 L561.0,391.7 L562.2,391.0 L561.6,389.4 L561.6,388.3 L561.8,387.4 L561.7,386.4 L562.9,385.9 L564.4,385.5 L563.8,384.3 L563.7,383.2 L565.8,383.1 L567.2,382.7 L567.7,381.9 L568.4,381.2 L568.2,380.1 L567.4,378.8 L568.6,378.3 L570.0,377.9 L569.4,376.6 L569.2,375.5 L570.4,375.0 L571.3,374.4 L572.5,374.0 L574.3,373.7 L574.1,372.7 L572.8,371.1 L573.4,370.3 L574.2,369.7 L573.6,368.4 L573.2,367.2 L573.0,366.2 L572.3,364.8 L573.0,364.2 L575.3,364.1 L575.7,363.3 L574.9,362.0 L575.4,361.2 L576.0,360.4 L576.0,359.4 L576.8,358.8 L576.8,357.8 L575.4,356.2 L575.8,355.3" fill="none" stroke="#e84040" stroke-width="0.65" stroke-linejoin="round"/>
<path d="M430.2,386.4 L430.0,387.3 L430.1,388.2 L431.5,389.0 L431.9,389.8 L430.6,390.9 L430.1,391.9 L430.4,392.8 L430.1,393.7 L430.2,394.5 L430.6,395.3 L430.0,396.3 L429.9,397.2 L431.6,398.0 L432.9,398.8 L432.8,399.7 L433.0,400.6 L433.1,401.6 L432.7,402.6 L433.3,403.6 L434.0,404.6 L433.0,405.7 L432.3,406.7 L433.1,407.5 L433.9,408.4 L434.2,409.2 L435.0,410.1 L434.7,411.0 L433.7,412.1 L434.1,413.1 L434.9,414.4 L434.1,416.0 L433.3,417.7 L433.4,419.0 L433.2,420.0 L433.7,420.8 L435.3,421.4 L435.6,422.2 L435.0,423.3 L435.7,424.1 L436.8,424.9 L437.2,426.9 L437.8,428.8 L438.4,430.7 L438.3,432.9 L438.7,433.7 L440.5,433.8 L441.3,434.4 L442.1,436.7 L444.0,438.8 L446.1,440.6 L448.2,442.3 L449.6,442.6 L450.3,443.2 L450.3,445.4 L452.1,447.8 L454.9,448.8 L457.5,449.9 L459.8,450.9 L460.7,450.9 L461.8,451.7 L463.5,452.5 L465.5,451.5 L467.3,451.1 L468.6,452.3 L469.5,453.1 L470.4,453.2 L472.5,453.8 L475.0,453.5 L477.4,452.5 L480.0,452.6 L481.4,452.7 L482.0,451.1 L482.6,449.6 L483.4,449.3 L484.6,448.8 L487.3,448.3 L490.2,448.1 L492.4,446.3 L493.9,444.3 L495.1,444.4 L496.5,444.6 L497.1,443.7 L497.7,442.8 L498.3,441.9 L498.5,440.6 L499.4,440.2 L501.0,440.8 L501.8,440.2 L502.1,439.2 L503.3,439.2 L504.5,439.2 L505.4,438.8 L506.5,438.8 L507.1,438.0 L506.7,436.1 L507.2,435.2 L508.3,435.2 L508.9,434.4 L509.2,433.3 L510.0,432.8 L510.5,432.0 L511.6,431.1 L513.5,431.2 L514.7,430.4 L514.8,428.4 L515.0,427.3 L515.8,426.7 L516.1,425.8 L516.8,425.2 L517.7,424.8 L517.8,423.6 L518.3,422.8 L520.1,423.3 L521.6,423.5 L522.1,422.7 L522.9,422.1 L523.5,421.5 L523.7,420.4 L524.7,420.1 L525.8,419.9 L525.7,418.5 L525.8,417.0 L527.3,416.6 L528.6,416.1 L529.6,415.3 L530.9,415.1 L531.5,414.4 L531.6,413.2 L532.7,413.0 L534.1,413.0 L534.2,411.8 L534.3,410.6 L535.0,410.0 L535.6,409.2 L536.8,409.0 L538.9,409.6 L539.9,409.2 L540.0,408.1 L541.4,408.1 L543.1,408.4 L544.2,407.5 L545.6,406.5 L546.8,405.2 L547.0,403.3 L548.1,402.6 L550.6,403.1 L551.9,402.9 L552.5,402.0 L554.5,400.8 L556.5,399.5 L558.0,397.8 L560.2,396.7 L561.0,396.1 L559.8,394.5 L559.5,393.4 L561.1,393.0 L561.8,392.1 L562.4,391.1 L563.6,390.3 L563.9,389.3 L564.3,388.5 L566.9,388.6 L568.6,388.3 L567.9,387.0 L567.7,385.9 L567.9,385.0 L567.7,383.9 L568.5,383.2 L569.9,382.8 L569.4,381.7 L569.2,380.5 L571.5,380.5 L573.6,380.4 L574.1,379.6 L574.7,378.9 L574.8,377.9 L573.8,376.5 L574.5,375.8 L576.0,375.5 L575.2,374.1 L574.2,372.7 L575.1,372.1 L576.0,371.4 L576.7,370.8 L578.3,370.4 L578.3,369.4 L576.6,367.7 L576.9,366.8 L578.0,366.3 L577.4,365.0 L576.7,363.7 L576.7,362.7 L576.2,361.5 L576.9,360.8 L579.6,361.0 L580.6,360.4 L579.9,359.1 L580.7,358.4 L581.9,358.0" fill="none" stroke="#d83a3a" stroke-width="0.65" stroke-linejoin="round"/>
<path d="M568,372 C572,366 582,366 584,369 C585,373 576,375 568,372 Z" fill="none" stroke="#e04040" stroke-width="0.7"/>
<path d="M556,385 C560,379 572,380 574,384 C574,389 562,390 556,385 Z" fill="none" stroke="#e04040" stroke-width="0.7"/>
<defs><linearGradient id="wg" x1="0" y1="0" x2="0" y2="1"><stop offset="0" stop-color="#800000"/><stop offset="0.03" stop-color="#a00000"/><stop offset="0.09" stop-color="#f00000"/><stop offset="0.16" stop-color="#ff6000"/><stop offset="0.24" stop-color="#ffb000"/><stop offset="0.33" stop-color="#ffff00"/><stop offset="0.43" stop-color="#d0ff30"/><stop offset="0.53" stop-color="#80ff80"/><stop offset="0.65" stop-color="#20f0f0"/><stop offset="0.77" stop-color="#00c0ff"/><stop offset="0.88" stop-color="#0070ff"/><stop offset="1.0" stop-color="#0040f0"/></linearGradient></defs>
<g fill="url(#wg)"><polygon points="455.3,410.0 457.1,409.3 457.1,420.7 455.3,385.0"/><polygon points="456.3,409.6 458.1,408.9 458.1,428.0 456.3,415.3"/><polygon points="457.3,409.2 459.1,408.5 459.1,428.8 457.3,422.2"/><polygon points="458.3,408.9 460.1,408.2 460.1,429.6 458.3,428.2"/><polygon points="459.3,408.5 461.1,407.8 461.1,430.4 459.3,429.0"/><polygon points="460.3,408.1 462.1,407.4 462.1,431.2 460.3,429.8"/><polygon points="461.3,407.7 463.1,407.0 463.1,431.9 461.3,430.6"/><polygon points="462.3,407.3 464.1,406.6 464.1,432.2 462.3,431.4"/><polygon points="463.3,406.9 465.1,406.2 465.1,432.4 463.3,431.9"/><polygon points="464.3,406.6 466.1,405.9 466.1,432.7 464.3,432.2"/><polygon points="465.3,406.2 467.1,405.5 467.1,433.0 465.3,432.5"/><polygon points="466.3,405.8 468.1,405.1 468.1,433.2 466.3,432.7"/><polygon points="467.3,405.4 469.1,404.7 469.1,433.3 467.3,433.0"/><polygon points="468.3,405.0 470.1,404.3 470.1,433.4 468.3,433.2"/><polygon points="469.3,404.6 471.1,403.9 471.1,433.5 469.3,433.3"/><polygon points="470.3,404.2 472.1,403.6 472.1,433.5 470.3,433.4"/><polygon points="471.3,403.9 473.1,403.2 473.1,433.6 471.3,433.5"/><polygon points="472.3,403.5 474.1,402.8 474.1,433.7 472.3,433.6"/><polygon points="473.3,403.1 475.1,402.4 475.1,433.4 473.3,433.6"/><polygon points="474.3,402.7 476.1,402.0 476.1,433.2 474.3,433.6"/><polygon points="475.3,402.3 477.1,401.6 477.1,432.9 475.3,433.4"/><polygon points="476.3,401.9 478.1,401.2 478.1,432.7 476.3,433.1"/><polygon points="477.3,401.6 479.1,400.9 479.1,432.4 477.3,432.9"/><polygon points="478.3,401.2 480.1,400.5 480.1,432.2 478.3,432.6"/><polygon points="479.3,400.8 481.1,400.1 481.1,431.9 479.3,432.4"/><polygon points="480.3,400.4 482.1,399.7 482.1,431.5 480.3,432.1"/><polygon points="481.3,400.0 483.1,399.3 483.1,430.7 481.3,431.9"/><polygon points="482.3,399.6 484.1,398.9 484.1,430.0 482.3,431.3"/><polygon points="483.3,399.2 485.1,398.6 485.1,429.2 483.3,430.6"/><polygon points="484.3,398.9 486.1,398.2 486.1,428.4 484.3,429.8"/><polygon points="485.3,398.5 487.1,397.8 487.1,427.6 485.3,429.0"/><polygon points="486.3,398.1 488.1,397.4 488.1,426.8 486.3,428.3"/><polygon points="487.3,397.7 489.1,397.0 489.1,426.0 487.3,427.4"/><polygon points="488.3,397.3 490.1,396.6 490.1,425.2 488.3,426.6"/><polygon points="489.3,396.9 491.1,396.2 491.1,424.4 489.3,425.8"/><polygon points="490.3,396.6 492.1,395.9 492.1,423.6 490.3,425.0"/><polygon points="491.3,396.2 493.1,395.5 493.1,422.8 491.3,424.2"/><polygon points="492.3,395.8 494.1,395.1 494.1,422.0 492.3,423.4"/><polygon points="493.3,395.4 495.1,394.7 495.1,421.1 493.3,422.6"/><polygon points="494.3,395.0 496.1,394.3 496.1,420.3 494.3,421.8"/><polygon points="495.3,394.6 497.1,393.9 497.1,419.5 495.3,421.0"/><polygon points="496.3,394.2 498.1,393.6 498.1,418.7 496.3,420.2"/><polygon points="497.3,393.9 499.1,393.2 499.1,417.9 497.3,419.4"/><polygon points="498.3,393.5 500.1,392.8 500.1,417.1 498.3,418.6"/><polygon points="499.3,393.1 501.1,392.4 501.1,416.2 499.3,417.8"/><polygon points="500.3,392.7 502.1,392.0 502.1,415.2 500.3,416.9"/><polygon points="501.3,392.3 503.1,391.6 503.1,414.2 501.3,416.0"/><polygon points="502.3,391.9 504.1,391.2 504.1,413.2 502.3,415.0"/><polygon points="503.3,391.6 505.1,390.9 505.1,412.2 503.3,414.0"/><polygon points="504.3,391.2 506.1,390.5 506.1,411.2 504.3,413.0"/><polygon points="505.3,390.8 507.1,390.1 507.1,410.2 505.3,412.0"/><polygon points="506.3,390.4 508.1,389.7 508.1,409.2 506.3,411.0"/><polygon points="507.3,390.0 509.1,389.3 509.1,408.2 507.3,410.0"/><polygon points="508.3,389.6 510.1,388.9 510.1,407.2 508.3,409.0"/><polygon points="509.3,389.2 511.1,388.6 511.1,406.2 509.3,408.0"/><polygon points="510.3,388.9 512.1,388.2 512.1,405.2 510.3,407.0"/><polygon points="511.3,388.5 513.1,387.8 513.1,404.2 511.3,406.0"/><polygon points="512.3,388.1 514.1,387.4 514.1,403.2 512.3,405.0"/><polygon points="513.3,387.7 515.1,387.0 515.1,402.0 513.3,404.0"/><polygon points="514.3,387.3 516.1,386.6 516.1,400.8 514.3,402.9"/><polygon points="515.3,386.9 517.1,386.2 517.1,399.7 515.3,401.8"/><polygon points="516.3,386.6 518.1,385.9 518.1,398.5 516.3,400.6"/><polygon points="517.3,386.2 519.1,385.5 519.1,397.4 517.3,399.4"/><polygon points="518.3,385.8 520.1,385.1 520.1,396.2 518.3,398.3"/><polygon points="519.3,385.4 521.1,384.7 521.1,395.0 519.3,397.1"/><polygon points="520.3,385.0 522.1,384.3 522.1,393.8 520.3,396.0"/><polygon points="521.3,384.6 523.1,383.9 523.1,392.7 521.3,394.8"/><polygon points="522.3,384.2 524.1,383.6 524.1,391.5 522.3,393.6"/><polygon points="523.3,383.9 525.1,383.2 525.1,390.3 523.3,392.4"/><polygon points="524.3,383.5 526.1,382.8 526.1,388.8 524.3,391.3"/><polygon points="525.3,383.1 527.1,382.4 527.1,387.2 525.3,390.0"/><polygon points="526.3,382.7 528.1,382.0 528.1,385.6 526.3,388.5"/><polygon points="527.3,382.3 528.5,381.9 528.5,385.0 527.3,386.9"/><polygon points="528.3,381.9 528.5,381.9 528.5,385.0 528.3,385.3"/></g>
<polygon points="347.7,308.2 517.8,242.0 627.5,345.3 455.5,411.5" fill="#800000"/>
<defs><clipPath id="wellclip"><polygon points="347.7,308.2 517.8,242.0 627.5,345.3 600.0,345.0 572.0,345.0 568.0,345.0 560.0,347.5 555.0,348.4 550.0,350.0 545.0,352.6 542.0,356.0 540.0,357.4 537.8,361.3 535.6,363.4 533.4,364.9 531.2,366.1 529.0,368.3 526.8,369.7 524.6,370.5 522.4,371.8 520.2,372.7 518.0,373.6 515.8,375.9 513.6,378.0 511.4,379.4 509.2,382.4 507.0,382.7 504.8,383.9 502.6,384.8 500.4,387.6 498.2,388.4 496.0,389.9 493.8,390.8 491.6,391.2 489.4,392.8 487.2,394.1 485.0,394.5 482.8,396.9 480.6,397.0 478.4,397.7 476.2,399.8 474.0,399.7 471.8,401.9 469.6,402.2 467.4,403.4 465.2,404.0 463.0,405.3 460.8,405.8 458.6,406.6 455.5,411.0 454.5,421.0 450.0,412.0 446.0,404.0 443.4,400.0"/></clipPath><filter id="wnoise" x="-10%" y="-10%" width="120%" height="120%"><feGaussianBlur in="SourceGraphic" stdDeviation="1.6" result="b"/><feTurbulence type="fractalNoise" baseFrequency="0.16 0.08" numOctaves="2" seed="4" result="n0"/><feTurbulence type="fractalNoise" baseFrequency="0.13 0.035" numOctaves="2" seed="9" result="n1"/><feColorMatrix in="n1" type="matrix" values="0 0 0 0 0.5  0 1 0 0 0  0 0 0 0 0  0 0 0 0 1" result="n1b"/><feDisplacementMap in="b" in2="n0" scale="6" xChannelSelector="R" yChannelSelector="G" result="d0"/><feDisplacementMap in="d0" in2="n1b" scale="13" xChannelSelector="R" yChannelSelector="G" result="d"/><feGaussianBlur in="d" stdDeviation="0.9"/></filter></defs>
<g clip-path="url(#wellclip)"><g filter="url(#wnoise)"><rect x="420" y="240" width="150" height="190" fill="#800000"/><polygon points="500.0,254.0 502.8,254.5 505.8,255.9 510.0,258.0 516.5,260.8 524.2,264.3 531.0,268.0 536.3,271.9 540.8,276.1 544.0,280.0 545.6,283.5 545.9,286.7 546.0,290.0 546.0,293.1 545.7,296.3 546.0,300.0 547.3,304.6 549.1,309.8 551.0,315.0 552.7,320.0 554.4,325.0 556.0,330.0 557.7,335.0 559.3,340.0 560.0,345.0 557.6,347.9 554.4,350.8 556.0,360.0 574.0,382.4 596.9,411.2 596.0,432.0 547.0,438.9 474.1,437.8 422.0,432.0 412.6,420.1 423.9,403.6 434.0,390.0 435.0,383.0 434.9,379.0 435.0,375.0 436.1,370.0 437.5,365.0 439.0,360.0 440.6,355.0 442.3,350.0 444.0,345.0 445.7,340.0 447.3,335.0 449.0,330.0 450.7,325.0 452.3,320.0 454.0,315.0 455.7,309.8 457.5,304.6 459.0,300.0 460.1,296.3 460.9,293.1 462.0,290.0 463.3,286.7 464.8,283.5 467.0,280.0 470.1,276.1 473.9,271.9 478.0,268.0 482.7,264.3 487.7,260.8 492.0,258.0 495.0,255.9 497.4,254.5" fill="#c00000"/><polygon points="502.2,265.2 512.1,265.7 522.2,266.7 529.6,268.0 532.5,269.5 532.5,271.2 532.6,273.0 533.7,274.7 534.7,276.3 535.6,278.0 536.2,279.7 536.6,281.3 537.1,283.0 537.9,284.7 538.8,286.3 539.6,288.0 540.1,289.7 540.5,291.3 540.8,293.0 540.7,294.7 540.5,296.3 540.3,298.0 540.4,299.7 540.7,301.3 541.0,303.0 541.4,304.7 541.9,306.3 542.3,308.0 542.8,309.7 543.3,311.3 543.7,313.0 544.1,314.7 544.6,316.3 545.0,318.0 545.4,319.7 545.8,321.3 546.2,323.0 546.6,324.7 547.0,326.3 547.4,328.0 547.8,329.7 548.2,331.3 548.6,333.0 549.0,334.7 549.4,336.3 549.8,338.0 550.2,339.7 550.7,341.3 551.0,343.0 551.1,344.7 551.2,346.3 551.2,348.0 551.1,349.7 550.9,351.3 550.8,353.0 550.6,354.7 550.4,356.3 550.3,358.0 550.2,359.7 550.2,361.3 550.1,363.0 550.1,364.7 550.1,366.3 550.1,368.0 550.1,369.7 550.1,371.3 550.1,373.0 550.1,374.7 550.1,376.3 550.1,378.0 550.1,379.7 550.1,381.3 550.1,383.0 550.1,384.7 550.1,386.3 550.1,388.0 548.7,388.4 547.2,388.8 550.1,393.0 568.1,404.9 590.4,420.6 590.1,432.0 544.2,436.3 475.6,436.3 426.5,432.0 417.9,420.6 428.9,404.9 438.5,393.0 439.4,388.8 438.9,388.4 438.5,388.0 438.4,386.3 438.4,384.7 438.3,383.0 438.3,381.3 438.2,379.7 438.2,378.0 438.3,376.3 438.4,374.7 438.7,373.0 439.1,371.3 439.5,369.7 440.0,368.0 440.5,366.3 440.9,364.7 441.4,363.0 441.8,361.3 442.3,359.7 442.8,358.0 443.4,356.3 443.9,354.7 444.5,353.0 445.0,351.3 445.6,349.7 446.1,348.0 446.7,346.3 447.3,344.7 447.9,343.0 448.5,341.3 449.1,339.7 449.7,338.0 450.3,336.3 450.9,334.7 451.5,333.0 452.1,331.3 452.7,329.7 453.3,328.0 453.9,326.3 454.5,324.7 455.1,323.0 455.7,321.3 456.3,319.7 457.0,318.0 457.6,316.3 458.2,314.7 458.8,313.0 459.5,311.3 460.1,309.7 460.8,308.0 461.5,306.3 462.1,304.7 462.8,303.0 463.4,301.3 464.0,299.7 464.6,298.0 465.2,296.3 465.8,294.7 466.4,293.0 467.1,291.3 467.9,289.7 468.7,288.0 469.5,286.3 470.3,284.7 471.1,283.0 471.8,281.3 472.3,279.7 473.0,278.0 473.7,276.3 474.6,274.7 475.5,273.0 475.5,271.2 475.6,269.5 478.0,268.0 484.4,266.7 493.1,265.7" fill="#ee0000"/><polygon points="505.0,279.0 513.6,280.1 521.7,282.6 528.0,285.0 531.9,286.6 533.9,288.0 535.0,290.0 534.8,292.8 533.6,296.1 533.0,300.0 533.7,304.6 534.9,309.8 536.0,315.0 536.7,320.0 537.3,325.0 538.0,330.0 539.0,335.0 540.0,340.0 541.0,345.0 540.3,347.9 539.6,350.8 543.0,360.0 560.6,382.4 582.4,411.2 583.0,432.0 540.8,438.9 477.3,437.8 432.0,432.0 424.4,420.1 435.0,403.6 444.0,390.0 444.1,383.0 442.7,379.0 442.0,375.0 442.9,370.0 444.4,365.0 446.0,360.0 447.6,355.0 449.2,350.0 451.0,345.0 452.9,340.0 455.0,335.0 457.0,330.0 459.0,325.0 460.9,320.0 463.0,315.0 465.4,309.8 467.9,304.6 470.0,300.0 471.6,296.1 472.8,292.8 474.0,290.0 474.5,288.0 475.0,286.6 478.0,285.0 485.4,282.6 495.4,280.1" fill="#ff4000"/><polygon points="502.5,283.0 509.6,283.5 516.5,284.6 521.7,286.0 524.0,287.5 524.5,289.3 525.0,291.0 525.9,292.7 526.7,294.3 527.5,296.0 528.3,297.7 529.1,299.3 529.7,301.0 530.1,302.7 530.4,304.3 530.7,306.0 531.0,307.7 531.4,309.3 531.7,311.0 532.0,312.7 532.4,314.3 532.7,316.0 533.0,317.7 533.2,319.3 533.5,321.0 533.8,322.7 534.1,324.3 534.3,326.0 534.6,327.7 534.9,329.3 535.2,331.0 535.5,332.7 535.9,334.3 536.2,336.0 536.5,337.7 536.9,339.3 537.2,341.0 537.5,342.7 537.8,344.3 538.1,346.0 538.4,347.7 538.6,349.3 538.8,351.0 539.0,352.7 539.3,354.3 539.5,356.0 539.7,357.7 539.9,359.3 540.0,361.0 540.0,362.7 540.0,364.3 540.0,366.0 540.0,367.7 540.0,369.3 540.0,371.0 540.0,372.7 540.0,374.3 540.0,376.0 540.0,377.7 540.0,379.3 540.0,381.0 540.0,382.7 540.0,384.3 540.0,386.0 538.5,386.3 537.0,386.7 540.0,391.0 557.3,403.5 579.0,420.0 580.0,432.0 539.3,436.6 477.9,436.6 434.0,432.0 426.8,420.0 437.1,403.5 446.0,391.0 446.8,386.7 446.1,386.3 445.5,386.0 445.3,384.3 445.0,382.7 444.8,381.0 444.5,379.3 444.2,377.7 444.1,376.0 444.3,374.3 444.7,372.7 445.2,371.0 445.7,369.3 446.2,367.7 446.7,366.0 447.2,364.3 447.7,362.7 448.2,361.0 448.8,359.3 449.4,357.7 450.0,356.0 450.6,354.3 451.2,352.7 451.8,351.0 452.4,349.3 453.0,347.7 453.6,346.0 454.3,344.3 454.9,342.7 455.6,341.0 456.3,339.3 456.9,337.7 457.6,336.0 458.3,334.3 458.9,332.7 459.6,331.0 460.2,329.3 460.9,327.7 461.5,326.0 462.1,324.3 462.7,322.7 463.3,321.0 463.9,319.3 464.5,317.7 465.1,316.0 465.9,314.3 466.8,312.7 467.6,311.0 468.5,309.3 469.4,307.7 470.3,306.0 471.2,304.3 472.0,302.7 473.0,301.0 474.0,299.3 475.0,297.7 476.1,296.0 477.2,294.3 478.3,292.7 479.4,291.0 479.5,289.3 479.5,287.5 481.6,286.0 487.2,284.6 495.0,283.5" fill="#ff9000"/><polygon points="500.0,287.0 504.7,287.3 509.5,288.3 514.0,290.0 518.5,292.6 522.7,296.0 526.0,300.0 527.7,304.6 528.3,309.8 529.0,315.0 530.0,320.0 531.0,325.0 532.0,330.0 533.0,335.0 534.1,340.0 535.0,345.0 534.3,347.9 533.6,350.8 537.0,360.0 554.2,382.4 575.7,411.2 577.0,432.0 537.7,438.9 478.4,437.8 436.0,432.0 429.2,420.1 439.4,403.6 448.0,390.0 448.1,383.0 446.7,379.0 446.0,375.0 447.1,370.0 449.0,365.0 451.0,360.0 452.9,355.0 455.0,350.0 457.0,345.0 459.0,340.0 461.1,335.0 463.0,330.0 464.6,325.0 466.1,320.0 468.0,315.0 470.7,309.8 473.9,304.6 477.0,300.0 479.8,296.0 482.6,292.6 486.0,290.0 490.3,288.3 495.1,287.3" fill="#ffe800"/><polygon points="501.0,297.5 507.4,297.9 513.9,298.8 518.5,300.0 519.9,301.5 519.5,303.2 519.0,305.0 519.1,306.7 519.3,308.3 519.5,310.0 519.8,311.7 520.3,313.3 520.8,315.0 521.3,316.7 521.9,318.3 522.5,320.0 523.0,321.7 523.4,323.3 523.8,325.0 524.2,326.7 524.6,328.3 525.0,330.0 525.4,331.7 525.9,333.3 526.3,335.0 526.8,336.7 527.2,338.3 527.7,340.0 528.1,341.7 528.6,343.3 529.0,345.0 529.3,346.7 529.6,348.3 529.8,350.0 530.1,351.7 530.4,353.3 530.7,355.0 531.0,356.7 531.3,358.3 531.5,360.0 531.6,361.7 531.5,363.3 531.5,365.0 531.5,366.7 531.5,368.3 531.5,370.0 531.5,371.7 531.5,373.3 531.5,375.0 531.5,376.7 531.5,378.3 531.5,380.0 531.5,381.7 531.5,383.3 531.5,385.0 531.5,386.7 531.5,388.3 531.5,390.0 530.0,390.5 528.5,391.0 531.5,395.0 548.3,406.3 569.5,421.2 571.5,432.0 534.5,436.1 478.1,436.1 438.0,432.0 431.7,421.2 441.5,406.3 450.0,395.0 450.9,391.0 450.5,390.5 450.0,390.0 449.8,388.3 449.6,386.7 449.3,385.0 449.1,383.3 448.9,381.7 448.7,380.0 448.3,378.3 448.0,376.7 448.0,375.0 448.5,373.3 449.3,371.7 450.2,370.0 450.9,368.3 451.6,366.7 452.3,365.0 453.1,363.3 453.8,361.7 454.5,360.0 455.2,358.3 455.9,356.7 456.7,355.0 457.4,353.3 458.1,351.7 458.8,350.0 459.6,348.3 460.3,346.7 461.0,345.0 461.7,343.3 462.4,341.7 463.2,340.0 463.9,338.3 464.6,336.7 465.3,335.0 466.0,333.3 466.7,331.7 467.5,330.0 468.5,328.3 469.5,326.7 470.6,325.0 471.6,323.3 472.5,321.7 473.7,320.0 475.1,318.3 476.7,316.7 478.2,315.0 479.6,313.3 480.9,311.7 482.0,310.0 482.7,308.3 483.1,306.7 483.5,305.0 483.5,303.2 483.4,301.5 485.0,300.0 489.2,298.8 495.0,297.9" fill="#a0ff60"/><polygon points="502.0,308.0 505.2,308.6 508.4,310.1 511.0,312.0 512.7,314.3 513.9,317.0 515.0,320.0 516.0,323.0 516.9,326.2 518.0,330.0 519.6,334.6 521.4,339.8 523.0,345.0 522.8,347.9 522.3,350.8 526.0,360.0 542.7,382.4 563.6,411.2 566.0,432.0 531.2,438.9 477.9,437.8 440.0,432.0 434.3,420.1 443.9,403.6 452.0,390.0 452.0,383.0 450.4,379.0 450.0,375.0 452.0,370.0 455.0,365.0 458.0,360.0 460.4,355.0 462.7,350.0 465.0,345.0 467.3,339.8 469.5,334.6 472.0,330.0 474.7,326.2 477.7,323.0 481.0,320.0 484.9,317.0 489.1,314.3 493.0,312.0 496.2,310.1 499.1,308.6" fill="#20e8fa"/><polygon points="500.0,327.0 503.3,327.6 506.9,329.0 510.0,331.0 512.1,333.6 513.7,336.7 515.0,340.0 516.2,343.3 517.1,346.6 518.0,350.0 518.8,353.1 519.5,356.3 520.0,360.0 518.7,363.1 517.1,366.7 520.0,375.0 536.1,393.0 556.7,415.7 560.0,432.0 528.1,437.8 479.0,437.2 444.0,432.0 438.9,420.1 448.1,403.6 456.0,390.0 456.8,383.0 456.4,379.0 457.0,375.0 459.8,369.8 463.6,364.6 467.0,360.0 469.5,356.3 471.7,353.1 474.0,350.0 476.5,346.6 479.1,343.3 482.0,340.0 485.6,336.7 489.5,333.6 493.0,331.0 495.5,329.0 497.6,327.6" fill="#00b4ff"/><polygon points="488.0,351.0 491.0,351.6 494.0,353.1 497.0,355.0 500.1,357.0 503.2,359.3 506.0,362.0 508.4,365.2 510.4,368.7 512.0,372.0 511.6,373.2 510.7,374.1 514.0,380.0 530.0,396.0 550.2,416.9 554.0,432.0 524.5,437.4 478.6,437.0 446.0,432.0 441.4,420.2 450.1,403.8 458.0,390.0 459.8,381.9 460.7,376.5 462.0,372.0 464.3,368.0 467.1,364.8 470.0,362.0 472.9,359.3 476.0,357.0 479.0,355.0 482.0,353.1 485.0,351.6" fill="#0068ff"/><polygon points="485.0,355.0 490.4,355.7 496.2,357.6 501.0,360.0 504.3,363.0 506.7,366.5 508.0,370.0 506.4,371.8 503.9,373.6 506.0,380.0 521.3,396.1 541.3,417.0 546.0,432.0 519.5,437.2 477.6,436.7 448.0,432.0 444.4,421.6 453.0,407.1 460.0,395.0 460.1,388.3 458.6,384.0 458.0,380.0 459.3,375.6 461.5,371.6 464.0,368.0 466.7,364.9 469.7,362.3 473.0,360.0 476.6,357.7 480.6,355.8" fill="#0030ee"/><ellipse cx="476" cy="384" rx="20" ry="10" fill="#0018d8"/><ellipse cx="472" cy="386" rx="13" ry="7" fill="#000a98"/><ellipse cx="497" cy="257" rx="4" ry="2.5" fill="#e00000"/><ellipse cx="506" cy="258" rx="3" ry="2.5" fill="#e00000"/><ellipse cx="483" cy="274" rx="2.5" ry="1.8" fill="#d00000"/><ellipse cx="518" cy="270" rx="3" ry="2" fill="#e00000"/><ellipse cx="470" cy="288" rx="2.2" ry="1.6" fill="#d00000"/><ellipse cx="550" cy="300" rx="2.5" ry="1.8" fill="#d00000"/><ellipse cx="555" cy="318" rx="2.5" ry="2" fill="#d00000"/><ellipse cx="560" cy="330" rx="2" ry="1.6" fill="#c00000"/><ellipse cx="562" cy="340" rx="3" ry="2" fill="#e00000"/><ellipse cx="556" cy="344" rx="3" ry="2.5" fill="#ff3000"/><ellipse cx="549" cy="350" rx="3" ry="2.5" fill="#ff6000"/><ellipse cx="545" cy="290" rx="3" ry="2" fill="#e00000"/><ellipse cx="528" cy="268" rx="3" ry="2" fill="#e00000"/><ellipse cx="553.1" cy="305.1" rx="1.8" ry="2.0" fill="#d00000"/><ellipse cx="465.4" cy="306.8" rx="2.2" ry="2.1" fill="#900000"/><ellipse cx="466.3" cy="279.7" rx="1.7" ry="1.9" fill="#ee0000"/><ellipse cx="525.4" cy="269.1" rx="2.5" ry="2.3" fill="#ff2000"/><ellipse cx="479.0" cy="275.7" rx="2.0" ry="1.3" fill="#800000"/><ellipse cx="454.2" cy="344.3" rx="2.7" ry="1.7" fill="#ff4000"/><ellipse cx="458.7" cy="303.6" rx="1.6" ry="2.1" fill="#ff2000"/><ellipse cx="541.9" cy="289.3" rx="3.0" ry="1.5" fill="#800000"/><ellipse cx="547.2" cy="308.3" rx="1.6" ry="1.3" fill="#d00000"/><ellipse cx="547.6" cy="281.9" rx="2.4" ry="1.4" fill="#ff2000"/><ellipse cx="547.1" cy="317.9" rx="1.7" ry="1.9" fill="#d00000"/><ellipse cx="444.0" cy="329.5" rx="1.5" ry="2.1" fill="#d00000"/><ellipse cx="456.0" cy="300.5" rx="1.6" ry="2.4" fill="#d00000"/><ellipse cx="448.2" cy="341.5" rx="2.2" ry="2.1" fill="#900000"/><ellipse cx="443.9" cy="346.2" rx="3.2" ry="2.4" fill="#900000"/><ellipse cx="543.3" cy="319.6" rx="2.0" ry="2.3" fill="#ff2000"/><ellipse cx="460.8" cy="285.7" rx="1.7" ry="2.1" fill="#ee0000"/><ellipse cx="553.8" cy="334.9" rx="2.4" ry="1.9" fill="#800000"/><ellipse cx="452.3" cy="348.1" rx="1.8" ry="1.6" fill="#ee0000"/><ellipse cx="451.2" cy="324.1" rx="1.9" ry="1.7" fill="#ee0000"/><ellipse cx="455.4" cy="314.9" rx="1.9" ry="1.6" fill="#900000"/><ellipse cx="467.2" cy="273.7" rx="2.5" ry="1.7" fill="#ff2000"/><ellipse cx="448.9" cy="340.0" rx="1.9" ry="1.6" fill="#ff2000"/><ellipse cx="528.9" cy="272.2" rx="2.1" ry="1.9" fill="#ee0000"/><ellipse cx="454.5" cy="304.8" rx="3.0" ry="1.9" fill="#ff2000"/><ellipse cx="481.3" cy="272.8" rx="2.4" ry="1.8" fill="#900000"/><ellipse cx="509.8" cy="257.1" rx="2.1" ry="1.6" fill="#ee0000"/><ellipse cx="506.7" cy="260.9" rx="1.5" ry="1.8" fill="#800000"/><ellipse cx="564.9" cy="341.2" rx="2.8" ry="2.2" fill="#800000"/><ellipse cx="449.9" cy="348.6" rx="3.0" ry="1.2" fill="#ff4000"/><ellipse cx="470.2" cy="293.6" rx="1.6" ry="2.4" fill="#ff2000"/><ellipse cx="475.7" cy="280.7" rx="2.9" ry="2.4" fill="#ff2000"/><ellipse cx="466.8" cy="294.1" rx="1.6" ry="2.1" fill="#d00000"/><ellipse cx="560.0" cy="330.6" rx="2.0" ry="1.6" fill="#d00000"/><ellipse cx="458.7" cy="306.6" rx="2.3" ry="1.5" fill="#d00000"/><ellipse cx="490.1" cy="262.9" rx="2.1" ry="1.5" fill="#ee0000"/><ellipse cx="551.5" cy="348.5" rx="1.6" ry="1.7" fill="#d00000"/><ellipse cx="558.4" cy="340.4" rx="2.6" ry="1.4" fill="#900000"/><ellipse cx="547.6" cy="311.1" rx="3.1" ry="1.7" fill="#d00000"/><ellipse cx="459.7" cy="314.0" rx="2.2" ry="1.6" fill="#900000"/><ellipse cx="557.9" cy="327.3" rx="3.1" ry="1.8" fill="#d00000"/><ellipse cx="462.1" cy="303.2" rx="2.3" ry="1.7" fill="#d00000"/><ellipse cx="442.5" cy="339.6" rx="1.6" ry="1.6" fill="#d00000"/><ellipse cx="459.2" cy="327.8" rx="2.0" ry="1.7" fill="#ee0000"/><ellipse cx="467.8" cy="286.6" rx="1.7" ry="2.2" fill="#ee0000"/><ellipse cx="560.9" cy="339.5" rx="1.9" ry="1.5" fill="#d00000"/><ellipse cx="555.0" cy="337.6" rx="3.1" ry="1.6" fill="#d00000"/><ellipse cx="563.5" cy="347.3" rx="1.6" ry="1.9" fill="#800000"/><ellipse cx="515.5" cy="261.6" rx="2.5" ry="2.0" fill="#ee0000"/><ellipse cx="538.6" cy="298.2" rx="1.9" ry="1.4" fill="#ee0000"/><ellipse cx="551.1" cy="290.1" rx="2.8" ry="2.2" fill="#900000"/><ellipse cx="515.6" cy="262.7" rx="2.8" ry="2.3" fill="#ff2000"/><ellipse cx="462.8" cy="301.5" rx="1.9" ry="1.7" fill="#900000"/><ellipse cx="542.1" cy="293.0" rx="2.9" ry="2.0" fill="#d00000"/><ellipse cx="547.2" cy="278.5" rx="2.3" ry="1.8" fill="#900000"/><ellipse cx="543.7" cy="294.2" rx="2.3" ry="1.5" fill="#900000"/><ellipse cx="485.7" cy="268.1" rx="2.0" ry="1.3" fill="#800000"/><ellipse cx="559.1" cy="340.5" rx="2.0" ry="1.7" fill="#ff2000"/><ellipse cx="473.1" cy="280.7" rx="2.7" ry="1.5" fill="#800000"/><ellipse cx="449.4" cy="313.5" rx="2.5" ry="2.3" fill="#d00000"/><ellipse cx="551.6" cy="345.4" rx="2.1" ry="1.7" fill="#d00000"/><ellipse cx="552.3" cy="331.5" rx="1.5" ry="2.2" fill="#900000"/><ellipse cx="476.2" cy="266.7" rx="1.7" ry="1.9" fill="#ee0000"/><ellipse cx="526.4" cy="263.4" rx="1.7" ry="1.4" fill="#ee0000"/><ellipse cx="456.5" cy="332.0" rx="1.5" ry="1.9" fill="#ff8000"/><ellipse cx="447.0" cy="328.7" rx="2.0" ry="1.6" fill="#d00000"/><ellipse cx="492.1" cy="257.6" rx="1.7" ry="1.6" fill="#ee0000"/><ellipse cx="559.8" cy="326.8" rx="3.0" ry="1.3" fill="#800000"/><ellipse cx="462.3" cy="316.8" rx="2.9" ry="1.4" fill="#ff2000"/><ellipse cx="560.6" cy="346.0" rx="2.9" ry="2.3" fill="#900000"/><ellipse cx="547.3" cy="286.5" rx="1.7" ry="2.1" fill="#800000"/><ellipse cx="462.1" cy="291.6" rx="2.5" ry="1.9" fill="#d00000"/><ellipse cx="548.1" cy="288.9" rx="3.0" ry="2.2" fill="#900000"/><ellipse cx="470.8" cy="285.6" rx="2.6" ry="2.2" fill="#900000"/><ellipse cx="463.2" cy="289.6" rx="2.9" ry="1.9" fill="#d00000"/><ellipse cx="480.6" cy="266.4" rx="3.0" ry="2.2" fill="#800000"/><ellipse cx="478.5" cy="273.2" rx="2.5" ry="2.3" fill="#ff2000"/><ellipse cx="517.3" cy="258.6" rx="2.7" ry="1.6" fill="#d00000"/><ellipse cx="551.7" cy="290.9" rx="2.5" ry="2.0" fill="#d00000"/><ellipse cx="543.8" cy="283.2" rx="1.7" ry="1.2" fill="#ee0000"/><ellipse cx="489.4" cy="263.8" rx="1.5" ry="1.2" fill="#ff2000"/><ellipse cx="534.0" cy="274.1" rx="1.8" ry="1.4" fill="#d00000"/><ellipse cx="509.1" cy="258.8" rx="2.3" ry="2.4" fill="#900000"/><ellipse cx="469.0" cy="287.4" rx="2.3" ry="1.4" fill="#ee0000"/><ellipse cx="483.1" cy="268.4" rx="2.7" ry="1.5" fill="#ff2000"/><ellipse cx="463.9" cy="276.9" rx="2.8" ry="2.3" fill="#d00000"/><ellipse cx="497.1" cy="266.9" rx="1.8" ry="2.1" fill="#800000"/><ellipse cx="475.2" cy="267.5" rx="3.2" ry="1.9" fill="#ff2000"/><ellipse cx="543.8" cy="278.5" rx="2.2" ry="1.6" fill="#ee0000"/><ellipse cx="474.1" cy="280.7" rx="1.5" ry="1.3" fill="#800000"/><ellipse cx="527.7" cy="265.1" rx="1.8" ry="1.5" fill="#800000"/><ellipse cx="538.6" cy="291.9" rx="3.1" ry="1.6" fill="#d00000"/><ellipse cx="485.5" cy="267.8" rx="1.9" ry="1.9" fill="#ee0000"/><ellipse cx="534.6" cy="276.0" rx="2.0" ry="1.3" fill="#ff2000"/><ellipse cx="461.2" cy="290.3" rx="1.6" ry="2.1" fill="#d00000"/><ellipse cx="496.7" cy="270.8" rx="2.4" ry="2.3" fill="#800000"/><ellipse cx="510.2" cy="261.7" rx="2.3" ry="2.3" fill="#ff2000"/><ellipse cx="543.6" cy="292.2" rx="2.5" ry="2.2" fill="#900000"/><ellipse cx="542.2" cy="275.6" rx="2.8" ry="2.0" fill="#900000"/><ellipse cx="469.7" cy="275.3" rx="2.4" ry="1.6" fill="#d00000"/><ellipse cx="490.2" cy="263.9" rx="1.6" ry="2.1" fill="#d00000"/><ellipse cx="538.0" cy="277.9" rx="2.4" ry="1.4" fill="#800000"/><ellipse cx="456.5" cy="299.6" rx="2.3" ry="1.3" fill="#800000"/><ellipse cx="550.5" cy="292.0" rx="2.1" ry="1.6" fill="#ff2000"/><ellipse cx="504.2" cy="267.6" rx="2.9" ry="1.7" fill="#ee0000"/><ellipse cx="467.1" cy="297.7" rx="2.8" ry="2.3" fill="#900000"/><ellipse cx="539.0" cy="283.4" rx="2.0" ry="2.3" fill="#ff2000"/><ellipse cx="470.6" cy="292.2" rx="1.5" ry="1.9" fill="#d00000"/><ellipse cx="530.5" cy="267.4" rx="3.1" ry="1.6" fill="#800000"/><ellipse cx="513.8" cy="261.8" rx="2.0" ry="2.2" fill="#900000"/></g></g>
<defs><filter id="sb"><feGaussianBlur stdDeviation="0.5"/></filter><linearGradient id="ridg" gradientUnits="userSpaceOnUse" x1="432" y1="0" x2="463" y2="0"><stop offset="0" stop-color="#800000"/><stop offset="0.35" stop-color="#a00000"/><stop offset="0.6" stop-color="#dd0000"/><stop offset="0.8" stop-color="#ff4000"/><stop offset="1" stop-color="#ffa000"/></linearGradient></defs>
<g filter="url(#sb)">
<polygon points="431.0,386.0 434.0,383.5 443.7,384.6 446.0,391.0 452.0,393.5 455.0,392.5 459.0,399.0 463.0,405.5 459.0,408.5 455.8,411.5 454.5,421.0 452.5,420.0 450.5,412.0 447.8,405.0 443.7,399.6 436.8,395.5" fill="url(#ridg)"/>
</g>
</svg></body></html>
